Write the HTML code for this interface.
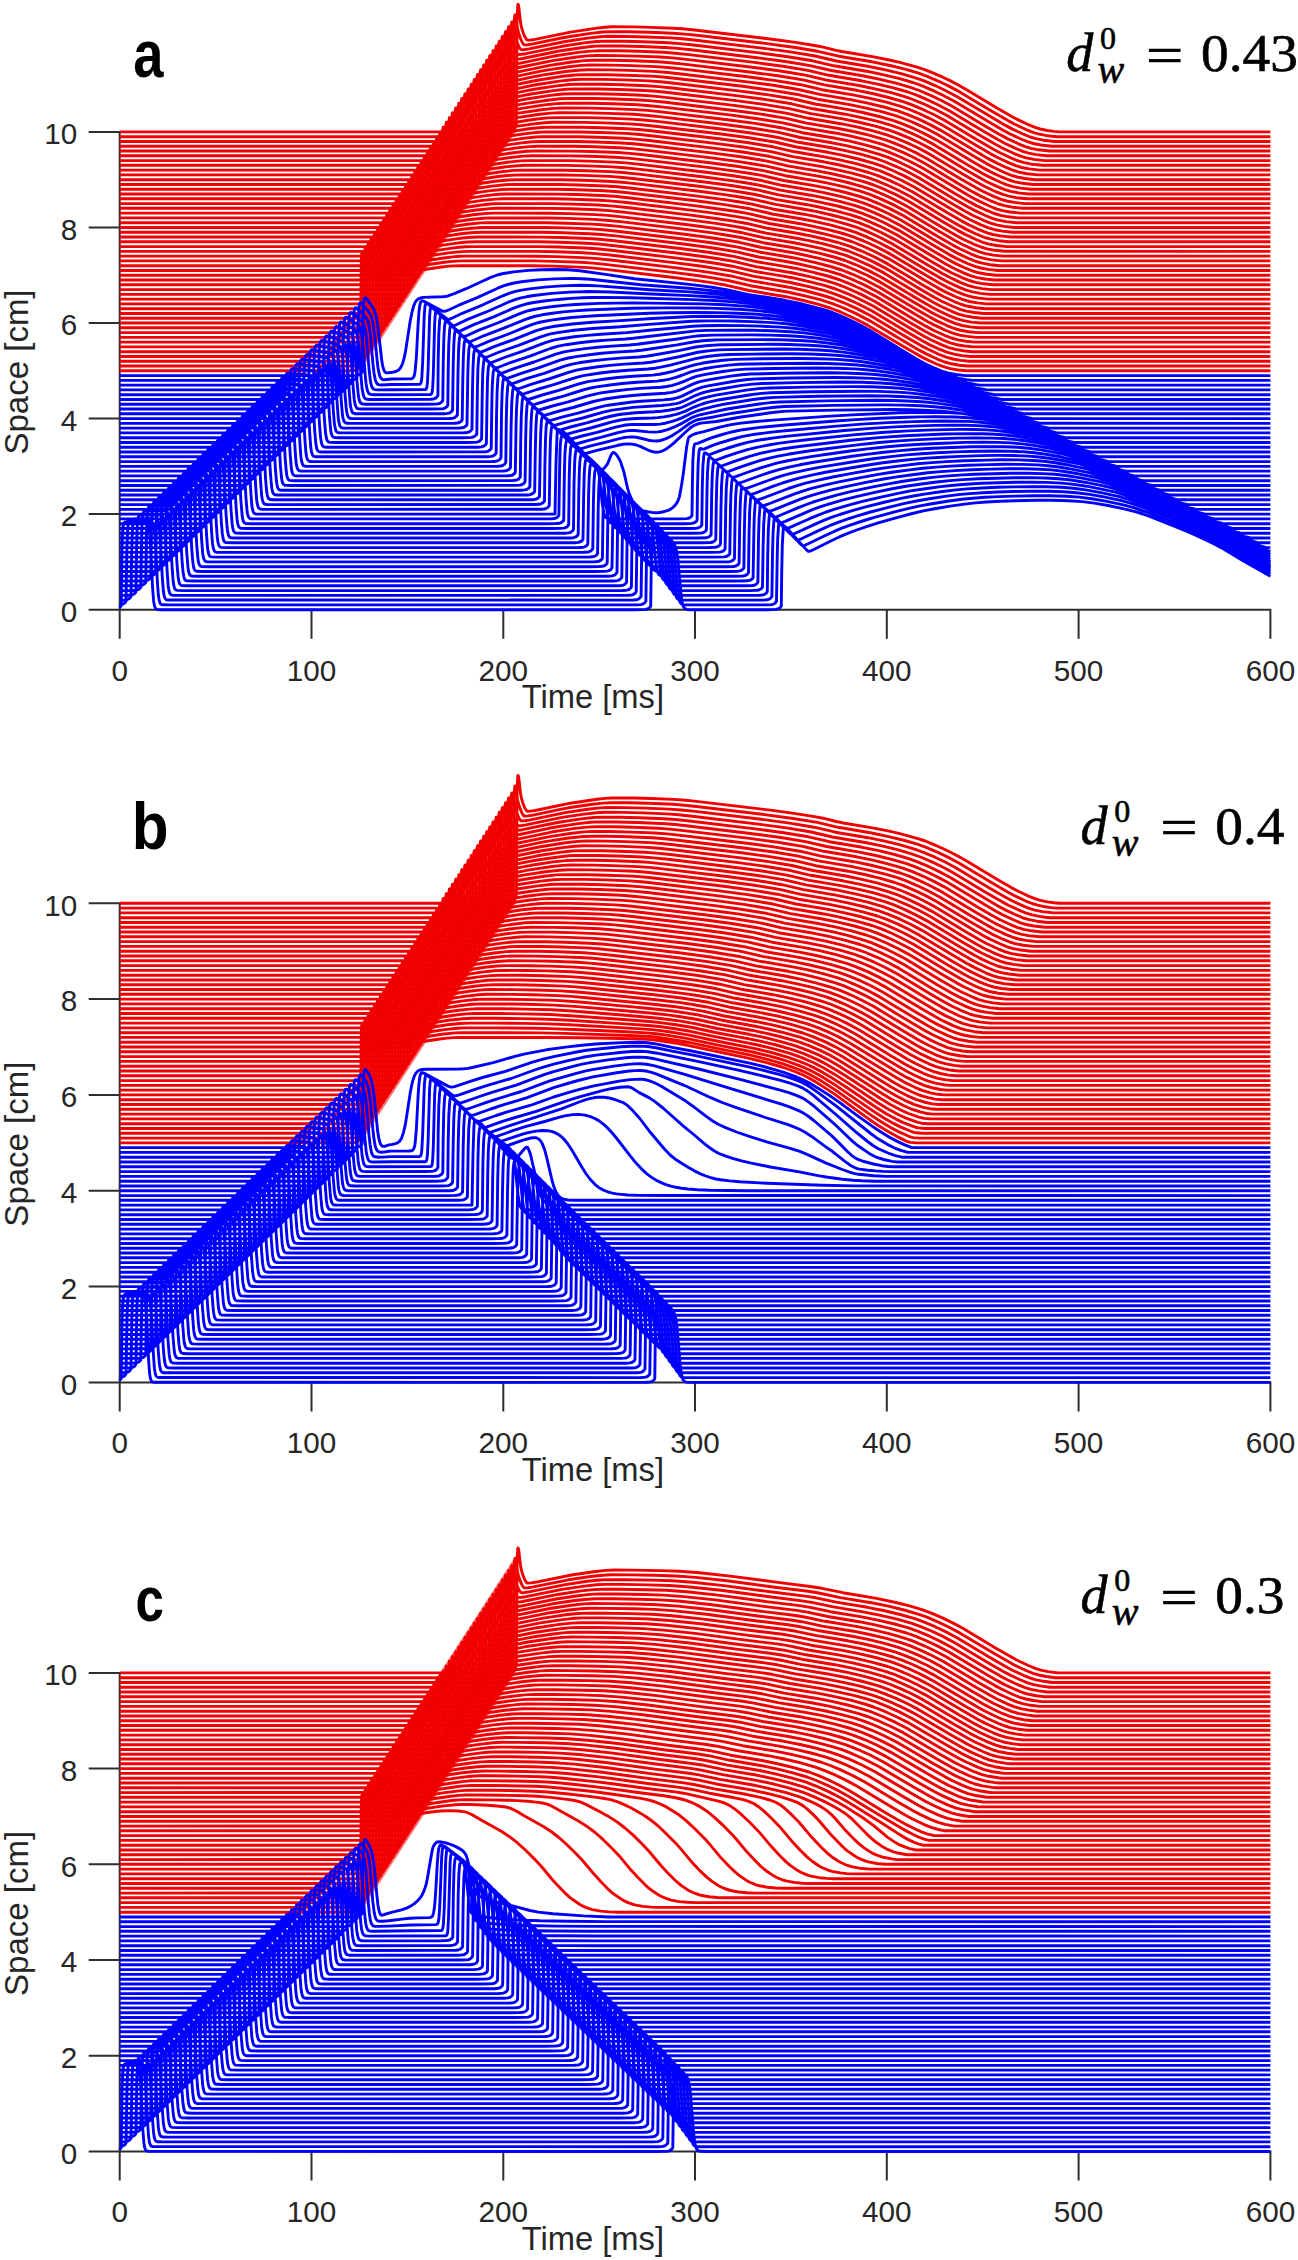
<!DOCTYPE html>
<html><head><meta charset="utf-8"><title>figure</title><style>html,body{margin:0;padding:0;background:#fff}svg{display:block}</style></head><body>
<svg width="1298" height="2260" viewBox="0 0 1298 2260">
<rect width="1298" height="2260" fill="#fff"/>
<path d="M119.7 131.9V609.7M119.7 609.7H1270.4M119.7 608.7v30M311.5 608.7v30M503.3 608.7v30M695.0 608.7v30M886.8 608.7v30M1078.6 608.7v30M1270.4 608.7v30M120.7 609.7h-32M120.7 514.1h-32M120.7 418.6h-32M120.7 323.0h-32M120.7 227.5h-32M120.7 131.9h-32" stroke="#2e2e2e" stroke-width="2" fill="none"/>
<path fill="#f20000" fill-opacity="0.55" d="M360.6 370.8 L360.6 253.7 L515.9 14.8 L515.9 131.9 Z"/>
<g fill="none" stroke-width="2.9" stroke-linejoin="round" stroke-linecap="butt">
<path stroke="#f20000" d="M119.7 131.9l381.6 0 6.9-.1 3.3-.5 1.5-.8 1.4-1.4 .9-1.8 1-3 .8-103.1 .4-10.8 .3-5.3 .2-.8 .4 .7 .4 2 1.7 15.1 .8 4.7 1.9 6 1.5 3.8 1.6 2.6 .7 .7 .6 .2 3.5-.1 4-.6 35.3-7.3 26.6-4 8.1-.8 7.1-.5 21.1 .1 17.6 .5 22.5 .9 9 .5 9.8 .9 82 9.8 21.3 2.9 19 3.1 8.6 1.6 13.1 3.2 5.6 1.2 32 5.4 15.5 3.1 10.4 2.4 9.4 2.5 9.6 2.7 6.5 2.2 7.6 3 10 4.4 7.7 3.7 8.2 4.3 7.5 4.2 30.7 18.5 14.4 8.3 6.9 3.7 10.3 4.8 6.4 2.6 5.3 1.7 7.1 1.5 6.4 .9 5.7 .5 211 0M119.7 136.7l378.4 0 6.9-.1 3.2-.5 1.6-.7 1.3-1.3 1-1.7 .9-2.8 1-101 .6-11.7 .4-2.1 .3 .7 .4 1.5 1.8 11.1 .7 3.6 2.1 6.3 1.6 3.7 1.3 2.3 .8 .7 .5 .2 3.5-.1 4-.7 29.4-6.1 7.1-1.3 22-3.3 12.3-1.4 8.8-.4 17.7 .1 19.9 .5 24 1 11.7 .9 14 1.4 65.9 7.9 28.8 3.9 24.2 4 20.9 4.9 33.4 5.6 18 3.7 14.9 3.7 13.5 4 8.6 3.1 11.7 5 10 4.8 10.9 5.8 33.4 20 14.9 8.7 6.7 3.6 10.8 5.1 6.9 2.8 5.5 1.7 7.7 1.6 6.2 .8 5.1 .5 213.5 0M119.7 141.5l375.3 0 6.9-.2 3.3-.4 1.5-.8 1.4-1.3 .9-1.8 1-2.8 .7-90.5 .4-14.2 .4-6 .2-1.3 .2-.2 .4 .7 .5 2.2 2 10.4 1.7 5.3 1.5 4.1 1.4 2.9 1.1 1.6 1 .5 3.4-.2 4.1-.6 36.2-7.4 22.3-3.4 12.2-1.3 8.8-.5 18.3 .2 19.7 .5 24 .9 11.7 .9 13.8 1.5 66 7.8 28.4 3.8 24.7 4.1 21.3 5 32.6 5.5 16.5 3.4 15.7 3.8 14.2 4.1 8.8 3.1 11.5 4.9 10.2 4.9 11.3 6 33.6 20.1 14.7 8.6 6.9 3.7 11 5.1 6.7 2.8 5.7 1.7 7.5 1.5 11.1 1.3 216 0M119.7 146.2l372.2 0 6.9-.1 3.3-.5 1.5-.7 1.4-1.4 .9-1.8 1-2.9 .8-93.8 .4-11.7 .5-6.5 .4 .3 .6 1.9 2.1 11.3 1.9 5.7 1.6 4.1 1.1 2.4 1.2 1.5 .9 .5 3.5-.2 4-.6 36.2-7.4 22.1-3.4 12.3-1.4 9-.4 18.4 .1 19.9 .5 24.2 1 11.7 .9 13.8 1.4 66 7.9 28.4 3.8 24.7 4.1 21.3 5 32.6 5.4 16.3 3.4 15.9 3.8 14.2 4.1 8.8 3.2 11.5 4.9 10.2 4.9 11.3 6 33.6 20.1 14.7 8.6 6.9 3.7 11 5.1 6.7 2.7 5.7 1.8 7.7 1.5 10.9 1.2 218.5 0M119.7 151l369 0 6.9-.1 3.2-.5 2-.9 1.3-1.6 1.4-3.2 .3-2.4 .8-95.4 .4-9.8 .4-4.9 .2-.6 .3 .4 .6 2 2.1 11.3 1.6 4.6 1.5 4.1 1.3 3 1.2 1.7 1 .6 3.4-.2 4-.6 36.5-7.5 22-3.3 12.3-1.4 8.8-.4 19 .1 19.8 .5 24.3 1 11.9 .9 13.8 1.4 66 7.9 28.4 3.8 24.7 4.1 21.3 4.9 32.6 5.5 16.1 3.3 15.9 3.8 14.4 4.2 8.8 3.2 11.5 4.9 10.2 4.8 11.3 6 33.6 20.2 14.7 8.5 6.9 3.7 11 5.2 6.9 2.8 5.7 1.7 7.5 1.5 10.9 1.2 221 0M119.7 155.8l365.9 0 6.9-.1 3.3-.5 1.5-.7 1.4-1.3 .9-1.7 1-2.8 .9-99.2 .6-11.2 .2-1.6 .2-.4 .4 .6 .6 2.1 1.9 10.5 1.7 5.3 1.5 4.1 1.4 3 1.1 1.6 1 .5 3.4-.1 4.1-.6 29.3-6.2 7.1-1.3 22.2-3.4 12.3-1.3 8.8-.4 19.8 .1 19.7 .5 24.2 1 11.9 .9 13.8 1.4 65.8 7.8 28.4 3.9 24.9 4.1 21.1 4.9 32.6 5.5 16.1 3.3 15.9 3.8 14.4 4.1 8.8 3.2 11.5 4.9 10.2 4.9 11.3 6 33.8 20.2 14.7 8.6 6.9 3.7 11 5.1 6.7 2.7 5.7 1.8 7.7 1.5 10.9 1.2 223.3 0M119.7 160.6l362.8 0 7-.1 3.2-.5 1.5-.8 1.4-1.3 .9-1.8 1-2.8 .8-91.1 .4-13.7 .3-6 .2-1.2 .2-.1 .4 .6 .6 2.2 1.9 10.5 1.7 5.2 1.6 4.1 1.3 2.9 1.2 1.6 .9 .5 3.5-.2 4-.6 36.2-7.4 22.3-3.4 12.3-1.3 8.8-.4 20.1 .1 20 .5 24.3 .9 11.9 .9 13.8 1.5 66 7.8 28.2 3.8 24.9 4.1 21.3 5 32.4 5.4 16.1 3.3 16.1 3.9 14.4 4.2 8.6 3.1 11.6 4.9 10.3 4.9 11.3 6 33.6 20.1 14.8 8.6 6.9 3.7 10.9 5.1 6.9 2.8 5.7 1.8 7.7 1.5 10.8 1.2 225.7 0M119.7 165.3l359.8 0 6.9-.1 3.2-.5 1.6-.7 1.3-1.4 1-1.8 .9-3 .8-94.2 .4-11.3 .6-6.4 .3 .4 .6 1.8 2.1 11.4 2 5.7 1.5 4 1.1 2.4 1.2 1.5 .9 .5 3.5-.2 4-.6 36.3-7.4 22.2-3.4 12.3-1.4 8.8-.4 20.7 .1 19.8 .5 24.5 1 11.9 .9 13.8 1.4 66 7.9 28.2 3.8 25.1 4.1 21.3 5 32.4 5.4 15.7 3.2 16.3 4 14.4 4.1 8.8 3.2 11.5 4.9 10.2 4.8 11.3 6 33.8 20.3 14.7 8.5 7 3.7 10.9 5.1 6.9 2.8 5.9 1.8 7.5 1.5 10.8 1.1 228 0M119.7 170.1l356.7 0 6.9-.1 3.3-.5 1.9-1.1 .8-.8 .7-1.3 1.2-3.1 .2-3.1 .7-94.5 .4-9.5 .4-4.8 .2-.6 .4 .4 .6 2 2.1 11.3 1.5 4.6 1.5 4.2 1.4 2.9 1.1 1.7 1 .6 3.4-.2 4.1-.6 29.5-6.2 6.9-1.3 22.4-3.4 12.3-1.3 8.6-.4 21.7 .1 19.8 .5 24.3 1 11.9 .9 13.8 1.4 66 7.9 28.2 3.8 25.1 4.1 21.3 5 32.2 5.4 15.9 3.2 16.3 3.9 14.4 4.2 8.7 3.1 11.5 4.9 10.3 4.9 11.3 6 33.8 20.3 14.7 8.5 7 3.7 10.9 5.1 6.9 2.8 5.9 1.8 7.5 1.4 10.8 1.2 230.3 0M119.7 174.9l353.8 0 6.7-.1 3.3-.5 1.5-.8 1.2-1.2 1-1.7 .9-2.8 1-99.5 .5-11 .2-1.5 .2-.3 .4 .5 .6 2.2 1.9 10.4 1.7 5.3 1.6 4.2 1.3 2.9 1.2 1.6 .9 .6 3.5-.2 4-.6 29.3-6.2 7.1-1.3 22.3-3.4 12.4-1.3 8.7-.4 22.2 .1 19.8 .5 24.5 1 11.9 .9 13.8 1.4 66 7.9 28.2 3.7 25.1 4.2 21.3 4.9 32.2 5.5 15.7 3.2 16.3 3.9 14.6 4.2 8.6 3.1 11.6 4.8 10.3 5 11.3 6 33.8 20.2 14.7 8.6 7 3.7 10.9 5.1 6.9 2.8 5.9 1.8 7.5 1.4 10.8 1.2 232.6 0M119.7 179.7l350.6 0 6.7-.1 3.2-.5 1.6-.8 1.3-1.3 1-1.8 .9-2.9 .8-91.5 .6-16.8 .2-2.4 .2-1.3 .2 0 .3 .6 .6 2.3 1.9 10.4 1.8 5.2 1.5 4.2 1.3 2.9 1.2 1.5 .9 .5 3.5-.1 4-.7 29.4-6.1 7.1-1.3 22.2-3.4 12.5-1.3 8.6-.4 22.8 .1 19.8 .5 24.5 .9 11.9 .9 13.8 1.5 66 7.8 28.2 3.8 25.3 4.1 21.3 5 32.2 5.4 15.5 3.2 16.5 3.9 14.6 4.2 8.6 3.1 11.6 4.9 10.3 4.9 11.3 6 33.8 20.3 14.7 8.5 6.9 3.7 11 5.2 6.9 2.8 5.9 1.7 7.5 1.5 10.7 1.2 235 0M119.7 184.5l347.5 0 6.7-.2 3.3-.5 1.5-.7 1.4-1.4 .9-1.8 1-3 .7-94.7 .4-11 .6-6.2 .4 .4 .6 1.9 2.1 11.3 1.7 5.2 1.5 4.1 1.2 2.5 1.1 1.7 1 .6 3.4-.2 4.1-.6 29.5-6.1 7.1-1.3 22.2-3.4 12.5-1.4 8.6-.4 23.6 .1 19.8 .5 24.5 1 11.9 .9 13.8 1.4 66 7.9 28.2 3.8 25.3 4.1 21.3 5 32.2 5.4 15.4 3.1 16.4 4 14.6 4.1 8.8 3.2 11.6 4.9 10.3 4.9 11.3 6 33.8 20.2 14.7 8.6 6.9 3.7 11 5.1 6.9 2.8 5.9 1.8 7.7 1.5 10.5 1.2 237.3 0M119.7 189.2l344.4 0 6.7-.1 3.3-.5 1.5-.8 1.2-1.1 1-1.7 .9-2.8 .2-4.2 .8-93.6 .5-12.3 .4-2.3 .4 .5 .6 2 2.1 11.3 1.5 4.5 1.6 4.2 1.3 2.9 1.2 1.7 .9 .6 3.5-.2 4-.6 29.3-6.1 7.1-1.3 22.5-3.4 12.4-1.4 8.7-.4 24.3 .1 20 .5 24.5 1 11.9 .9 13.8 1.4 66 7.9 28 3.7 25.3 4.2 21.5 5 32 5.4 15.4 3.1 16.4 3.9 14.6 4.2 8.8 3.1 11.6 4.9 10.3 4.9 11.5 6.1 33.8 20.3 14.7 8.5 6.9 3.7 11 5.1 6.9 2.8 5.9 1.8 7.7 1.5 10.5 1.1 239.4 0M119.7 194l341.4 0 6.7-.1 3.2-.5 1.6-.8 1.1-1.2 1-1.7 .9-2.9 .8-88.4 .4-15.8 .4-6.3 .2-1.5 .2-.2 .3 .6 .6 2.1 1.9 10.5 1.8 5.2 1.5 4.2 1.3 2.9 1.2 1.6 1 .6 3.4-.2 4-.6 29.4-6.1 7.1-1.4 22.4-3.4 12.5-1.3 8.6-.4 25.1 .1 19.8 .5 24.7 1 11.9 .8 13.8 1.5 66 7.8 28 3.8 25.5 4.2 21.5 5 31.8 5.3 15.2 3.1 16.5 3.9 14.7 4.2 8.8 3.2 11.6 4.8 10.3 4.9 11.5 6.1 34 20.4 14.7 8.5 6.9 3.7 11 5.2 6.9 2.7 5.9 1.8 7.7 1.5 10.3 1.1 241.7 0M119.7 198.8l338.3 0 6.7-.1 3.3-.6 1.5-.8 1.2-1.2 .9-1.8 1-2.9 .7-92.1 .6-16.3 .2-2.4 .2-1.2 .2 0 .4 .7 .6 2.2 1.9 10.5 1.7 5.2 1.5 4.1 1.4 2.9 1.1 1.6 1 .5 3.4-.2 4.1-.7 29.3-6.1 7.1-1.3 22.4-3.4 12.5-1.4 8.6-.3 25.9 .1 19.8 .5 24.7 .9 11.9 .9 14 1.5 66 7.8 28 3.8 25.5 4.2 21.3 4.9 32 5.4 15 3 16.5 3.9 14.7 4.3 8.8 3.1 11.7 4.9 10.4 4.9 11.5 6.1 33.9 20.4 14.8 8.5 6.9 3.7 11 5.2 6.9 2.7 5.9 1.8 7.7 1.5 10.3 1.1 243.8 0M119.7 203.6l335 0 6.8-.1 3.2-.6 1.5-.7 1.4-1.4 .9-1.8 1-3 .8-95.1 .4-10.7 .5-6.1 .4 .4 .6 1.9 2.1 11.3 1.7 5.2 1.6 4.1 1.1 2.5 1.2 1.7 .9 .6 3.5-.1 4-.6 29.5-6.2 7.1-1.3 22.5-3.4 12.4-1.4 8.7-.3 26.6 0 20 .5 24.7 1 11.9 .9 13.8 1.4 66 7.9 28 3.7 25.5 4.2 21.5 5 32 5.4 14.8 3 16.6 3.9 14.8 4.2 8.8 3.2 11.7 4.9 10.4 4.9 11.5 6.1 33.7 20.3 15 8.6 6.9 3.7 10.9 5.1 6.9 2.8 6 1.8 7.7 1.4 10.3 1.2 245.9 0M119.7 208.3l332 0 6.7-.1 3.2-.5 1.6-.8 1.1-1.1 1-1.7 .9-2.8 .2-5.5 .8-92.7 .6-11.9 .4-2.3 .3 .5 .6 2 1.9 10.5 1.8 5.4 1.5 4.1 1.3 3 1.2 1.6 1 .6 3.4-.2 4-.6 29.4-6.1 7.1-1.3 22.6-3.5 12.5-1.3 8.4-.4 27.6 .1 20 .5 24.9 1 11.9 .9 13.8 1.4 66 7.8 28 3.8 25.5 4.2 21.6 5 31.7 5.3 14.8 3 16.6 4 14.8 4.2 8.8 3.1 11.7 4.9 10.4 4.9 11.7 6.2 33.9 20.4 14.8 8.5 6.9 3.7 10.9 5.1 6.9 2.8 6 1.7 7.7 1.5 10.3 1.1 248 0M119.7 213.1l328.9 0 6.7-.1 3.3-.5 1.5-.8 1.2-1.2 .9-1.7 1-2.9 .7-89 .4-15.3 .4-6.2 .2-1.5 .2-.2 .4 .6 .6 2.2 1.9 10.4 1.7 5.3 1.5 4.1 1.4 2.9 1.1 1.7 1 .5 3.4-.2 4.1-.6 29.3-6.1 7.1-1.4 22.6-3.4 12.5-1.3 8.4-.4 28.4 .1 20 .5 24.9 1 11.9 .8 14 1.5 66 7.8 27.8 3.7 25.9 4.3 21.4 5 31.7 5.3 14.6 2.9 16.4 3.9 14.8 4.2 9 3.2 11.5 4.8 10.6 5 11.9 6.2 33.9 20.4 14.8 8.6 6.9 3.7 10.9 5.1 6.9 2.8 6.2 1.8 7.6 1.4 10.2 1.1 250.1 0M119.7 217.9l325.8 0 6.7-.1 3.3-.6 1.5-.8 1.2-1.2 1-1.8 .9-2.9 .8-92.6 .6-15.9 .1-2.4 .2-1.1 .2 0 .4 .7 .6 2.3 1.9 10.4 1.7 5.2 1.6 4.1 1.3 2.9 1.2 1.6 .9 .5 3.5-.2 4-.6 29.3-6.2 7.1-1.3 22.5-3.4 12.6-1.4 8.5-.3 29.3 .1 20 .5 24.9 .9 11.9 .9 14 1.4 65.9 7.9 27.9 3.7 25.8 4.2 21.5 5.1 31.7 5.3 14.4 2.9 16.6 3.9 14.8 4.2 9 3.1 11.5 4.8 10.6 5 11.9 6.3 33.9 20.4 14.8 8.5 6.9 3.7 10.9 5.1 6.9 2.8 6.2 1.8 7.6 1.5 10.2 1.1 252.2 0M119.7 222.7l322.8 0 6.7-.1 3.2-.6 1.6-.9 1.1-1.2 1-1.8 .9-3 .8-95.5 .4-10.4 .6-6 .4 .4 .5 2 2.1 11.3 1.6 4.6 1.5 4.2 1.3 2.9 1.2 1.7 1 .6 3.4-.1 4-.6 29.6-6.2 7.1-1.3 22.4-3.4 12.7-1.4 8.4-.3 30.3 0 19.9 .5 25.2 1 11.9 .9 14 1.4 65.9 7.9 27.6 3.7 25.9 4.2 21.7 5.1 31.5 5.2 14.2 2.9 16.4 3.8 14.8 4.2 9 3.1 11.5 4.8 10.8 5 12.1 6.4 34.1 20.5 14.8 8.5 6.9 3.7 10.9 5.1 6.9 2.8 6.1 1.8 7.7 1.5 10.2 1.1 254.1 0M119.7 227.5l319.9 0 6.7-.2 3.1-.5 1.5-.9 1.2-1.3 .9-1.9 .8-2.3 .2-6.8 .7-91.7 .6-11.7 .4-2.2 .4 .5 .6 2.1 1.9 10.5 1.7 5.3 1.5 4.2 1.4 2.9 1.1 1.6 1 .6 3.4-.2 4.1-.6 29.5-6.1 7.1-1.4 22.4-3.3 12.7-1.4 8.4-.4 31.3 .1 19.9 .5 25.2 1 11.8 .8 14 1.5 66 7.8 27.8 3.8 25.9 4.2 21.7 5 31.4 5.3 14 2.8 16.5 3.9 14.8 4.1 9 3.1 11.5 4.8 11 5.1 12 6.4 34.2 20.5 14.7 8.5 6.9 3.7 11 5.1 6.9 2.8 6.1 1.8 7.7 1.5 10.2 1.1 256 0M119.7 232.2l316.6 0 6.7-.1 3.1-.5 1.5-.8 1.2-1.2 1-1.8 .9-2.8 .8-89.7 .4-14.8 .3-6.1 .2-1.4 .2-.2 .4 .6 .6 2.2 1.9 10.5 1.7 5.2 1.6 4.2 1.3 2.9 1.2 1.6 .9 .5 3.5-.2 4-.6 29.3-6.1 7.1-1.4 22.7-3.4 12.6-1.3 8.5-.4 32.2 .1 19.9 .5 25.1 1 11.9 .8 14 1.5 66.2 7.8 27.6 3.7 26.1 4.3 21.7 5 31.2 5.3 13.8 2.7 16.5 3.9 14.8 4.1 9.2 3.1 11.3 4.8 11 5.1 12.2 6.4 34.4 20.6 14.7 8.5 6.9 3.7 11 5.1 6.9 2.8 6.1 1.8 7.7 1.4 9.9 1.1 258.2 0M119.7 237l313.6 0 6.7-.1 3-.6 1.6-.8 1.1-1.2 1-1.8 .9-2.9 .8-93.1 .4-12.2 .6-6.7 .4 .3 .5 1.8 2.1 11.4 2.1 6.2 1.4 3.5 1.1 2.4 1.2 1.6 1 .5 3.4-.2 4-.6 29.4-6.2 7.1-1.3 22.6-3.4 12.7-1.4 8.4-.3 33.2 .1 19.9 .5 25.3 .9 11.9 .9 14 1.4 66 7.9 27.6 3.7 26.3 4.3 21.7 5 31 5.2 13.6 2.7 16.5 3.9 14.8 4.1 9.2 3.1 11.5 4.8 11.1 5.1 12.3 6.5 34.3 20.6 14.8 8.5 6.9 3.7 10.9 5.1 6.9 2.8 6.2 1.8 7.7 1.4 9.9 1.1 260.1 0M119.7 241.8l310.5 0 6.7-.1 3.1-.6 1.5-.8 1.2-1.3 .9-1.8 1-3 .7-95.9 .4-10.2 .6-5.8 .4 .5 .6 1.9 2.1 11.3 1.5 4.6 1.5 4.2 1.4 3 1.1 1.6 1 .6 3.4-.1 4.1-.6 29.5-6.2 7.1-1.3 22.6-3.4 12.9-1.4 8.2-.3 34.4 .1 19.9 .4 25.3 1 11.9 .9 14 1.4 66 7.9 27.6 3.6 26.3 4.3 21.6 5.1 31.1 5.2 13.4 2.7 16.7 3.8 14.6 4.1 9.2 3.1 11.3 4.7 11.3 5.2 12.5 6.6 34.3 20.6 14.8 8.5 6.9 3.7 10.9 5.1 6.9 2.8 6.2 1.7 7.8 1.5 10 1.1 261.8 0M119.7 246.6l307.4 0 6.7-.2 3.1-.5 1.5-.9 1.2-1.3 .9-1.9 .8-2.3 1-98.8 .5-11.5 .4-2.1 .4 .6 .6 2 1.9 10.5 1.7 5.3 1.6 4.2 1.3 2.9 1.2 1.7 .9 .5 3.5-.1 4-.7 29.5-6.1 7.1-1.3 22.7-3.5 12.8-1.3 8.3-.3 35.4 0 20 .5 25.3 1 11.9 .8 14 1.5 66 7.8 27.6 3.7 26.2 4.3 21.7 5 31.1 5.3 13.2 2.6 16.7 3.8 14.6 4.1 9.4 3.1 11.3 4.7 11.3 5.2 12.5 6.6 34.3 20.6 14.8 8.5 7.1 3.8 10.9 5.1 6.9 2.8 6.1 1.8 7.7 1.4 10 1.1 263.7 0M119.7 251.4l304.4-.1 6.7-.1 3-.6 1.6-.9 1.1-1.3 1-1.9 .7-2.4 .8-90.2 .4-14.4 .4-6.1 .2-1.3 .2-.2 .3 .7 .6 2.2 1.9 10.4 1.8 5.2 1.5 4.2 1.3 2.9 1.2 1.6 1 .5 3.4-.2 4-.6 29.4-6.1 7.1-1.3 22.8-3.5 12.8-1.3 8.1-.4 36.8 .1 20 .5 25.3 1 12.1 .8 14 1.5 65.9 7.8 27.5 3.7 26.4 4.3 21.7 5 30.9 5.2 13 2.6 16.7 3.8 14.6 4.1 9.4 3.1 11.3 4.6 11.3 5.3 12.7 6.6 34.5 20.7 14.7 8.5 6.9 3.8 11 5.1 6.9 2.7 6.1 1.8 7.9 1.5 9.8 1 265.6 .1M119.7 256.1l301.3 0 6.7-.1 3.1-.6 1.5-.9 1.2-1.4 .9-2 .8-2.4 .7-93.6 .4-11.8 .6-6.6 .4 .3 .6 1.9 2.1 11.3 1.9 5.7 1.5 4.1 1.2 2.4 1.1 1.5 1 .5 3.4-.2 4.1-.6 29.3-6.1 7.1-1.4 22.8-3.4 12.9-1.4 8-.3 37.8 .1 20 .4 25.5 1 12 .9 14 1.4 66 7.9 27.2 3.6 26.7 4.3 21.9 5.1 30.8 5.2 12.7 2.5 16.7 3.8 14.6 4 9.6 3.2 11.3 4.7 11.5 5.3 12.6 6.6 34.6 20.7 14.7 8.6 6.9 3.7 11 5.1 6.9 2.7 6.3 1.8 7.7 1.5 9.7 1 267.4 0M119.7 260.9l298 0 6.7-.1 3.1-.6 1.5-.8 1.4-1.6 1.1-2.6 .6-2.5 .8-95.7 .4-9.9 .3-5 .2-.6 .4 .4 .6 2 2.1 11.3 1.5 4.5 1.6 4.2 1.3 3 1.2 1.7 .9 .6 3.5-.2 4-.6 29.5-6.2 7.1-1.3 22.9-3.4 12.8-1.4 8.1-.3 38.9 .1 19.9 .4 25.5 1 12.1 .8 14 1.5 66 7.8 27.4 3.7 13.8 2.1 12.9 2.2 21.8 5.1 30.7 5.1 12.7 2.5 16.7 3.9 14.5 4 9.6 3.1 11.3 4.7 11.6 5.3 12.8 6.7 34.3 20.6 15 8.7 6.9 3.6 10.9 5.1 6.9 2.8 6.4 1.8 7.6 1.5 9.8 1 269.1 0M119.7 265.7l295 0 6.7-.2 3-.5 1.6-.9 1.1-1.3 1-1.9 .7-2.3 1-99.1 .6-11.3 .2-1.6 .2-.4 .4 .6 .5 2.1 1.9 10.5 1.8 5.3 1.5 4.1 1.3 3 1.2 1.6 1 .5 3.4-.1 4-.6 29.6-6.2 7.1-1.3 22.8-3.5 12.8-1.3 8.1-.3 40.3 0 19.9 .5 25.5 1 12.1 .8 14 1.5 66 7.8 27.2 3.6 13.8 2.2 13.1 2.2 21.8 5.1 30.7 5.1 12.3 2.4 16.7 3.9 14.5 3.9 9.8 3.2 11.1 4.6 11.7 5.4 12.9 6.7 34.7 20.8 14.8 8.5 7.1 3.8 10.9 5.1 6.9 2.8 6.3 1.7 7.7 1.5 9.6 1 270.8 0M119.7 270.5l291.9 0 6.7-.2 3.1-.6 1.5-.9 1.2-1.3 .9-1.9 .8-2.4 .7-90.8 .4-14 .4-5.9 .2-1.3 .2-.2 .4 .7 .6 2.2 1.9 10.5 1.7 5.2 1.5 4.1 1.4 2.9 1.1 1.6 1 .5 3.4-.2 4.1-.6 29.3-6.1 7.3-1.4 22.8-3.4 12.9-1.3 8-.4 41.4 .1 20.2 .5 25.5 1 12.1 .8 14 1.4 65.9 7.9 27.3 3.6 13.8 2.1 13 2.3 21.9 5.1 30.5 5.1 12.3 2.4 16.6 3.8 14.8 4 9.8 3.2 11.1 4.5 11.7 5.4 12.9 6.7 34.7 20.9 14.7 8.5 7.1 3.8 11 5.1 6.9 2.7 6.3 1.8 7.7 1.4 9.6 1.1 272.5 0M119.7 275.2l289 0 6.5-.1 3.1-.6 1.5-.9 1.2-1.4 .9-2 .8-2.5 .8-94 .4-11.5 .5-6.4 .4 .3 .6 1.9 2.1 11.3 1.9 5.8 1.6 4 1.1 2.4 1.2 1.5 .9 .5 3.5-.2 3.8-.6 29.5-6.1 7.1-1.4 23.1-3.4 12.8-1.4 8.1-.3 42.7 .1 20.2 .5 25.5 .9 12 .9 14 1.4 66 7.9 27.1 3.5 14 2.2 13 2.2 22.1 5.2 30.3 5 11.8 2.4 16.7 3.7 14.8 4 10 3.3 11.1 4.5 11.9 5.5 13 6.8 34.5 20.7 14.8 8.5 7.1 3.8 10.9 5.1 6.9 2.8 6.4 1.8 7.8 1.4 9.6 1 274.1 0M119.7 280l285.9 0 6.6-.1 3-.7 1.8-1.1 1.3-1.9 1.2-3.1 .1-2.5 .8-94.9 .4-9.6 .4-4.9 .2-.6 .4 .4 .5 2 2.1 11.3 1.6 4.6 1.5 4.2 1.3 2.9 1.2 1.7 1 .6 3.4-.2 4-.6 29.6-6.2 7.3-1.3 22.8-3.5 13-1.3 7.7-.3 44.3 .1 20.1 .4 25.5 1 12.1 .8 14 1.5 66 7.8 27 3.6 14 2.2 13.3 2.2 21.8 5.1 30.3 5.1 11.7 2.3 16.9 3.8 14.8 4 9.9 3.2 11.2 4.6 11.9 5.4 13 6.8 34.7 20.8 14.8 8.6 7.1 3.8 10.9 5.1 6.9 2.7 6.3 1.8 7.7 1.4 9.6 1 275.8 0M119.7 284.8l282.9 0 6.5-.2 3.1-.6 1.3-.8 1.2-1.3 .9-1.9 .8-2.3 .9-99.4 .6-11.1 .2-1.5 .2-.3 .4 .5 .6 2.1 1.9 10.5 1.7 5.3 1.5 4.2 1.4 2.9 1.1 1.6 1 .5 3.4-.1 4.1-.6 29.5-6.2 7.1-1.3 23-3.5 13.1-1.3 7.6-.3 45.7 0 20.1 .5 25.5 1 12.1 .8 14 1.4 66 7.9 27 3.6 14 2.1 13.2 2.3 22.1 5.1 30.1 5.1 11.5 2.2 16.7 3.8 14.8 3.9 10.1 3.3 11.2 4.5 12 5.5 13.1 6.9 34.7 20.8 14.8 8.5 7 3.8 11 5.1 6.9 2.7 6.3 1.8 7.9 1.5 9.4 1 277.5 0M119.7 289.6l279.8 0 6.5-.2 1.8-.2 1.3-.4 1.3-.9 1.2-1.3 .9-1.9 .8-2.5 .8-91.3 .6-17 .1-2.4 .2-1.3 .2 0 .4 .6 .6 2.3 1.9 10.4 1.7 5.2 1.6 4.2 1.3 2.8 1.2 1.6 .9 .5 3.5-.2 4-.6 29.3-6.1 7.3-1.4 23-3.4 13.1-1.4 7.7-.2 46.8 0 20.1 .5 25.7 1 12.1 .8 14.2 1.4 65.9 7.9 26.9 3.5 14.2 2.2 13.2 2.3 21.9 5.1 30.1 5 11.1 2.2 16.9 3.8 14.7 3.9 10.4 3.3 11.1 4.5 12.1 5.6 13.2 6.9 34.8 20.8 14.7 8.5 7.1 3.8 10.9 5.1 7 2.7 6.3 1.8 7.8 1.5 9.4 1 279.1 0M119.7 294.4l276.5-.1 6.6-.1 3-.6 1.6-.9 1.1-1.4 1-2 .7-2.5 .8-94.5 .4-11.1 .6-6.3 .4 .4 .5 1.9 2.1 11.3 2 5.7 1.5 4 1.1 2.4 1.2 1.6 1 .4 3.4-.2 3.8-.6 29.6-6.1 7.3-1.4 23-3.4 13-1.4 7.7-.3 48.1 .1 20.2 .4 25.7 1 12 .8 14.2 1.5 66 7.8 26.9 3.6 14.1 2.2 13.3 2.2 22 5.2 30 5 10.9 2.1 16.9 3.8 14.7 3.9 10.4 3.3 11.1 4.5 12.3 5.6 13.2 6.9 34.9 20.9 14.8 8.5 7.1 3.8 10.9 5.1 6.9 2.7 6.3 1.8 7.9 1.5 9.4 1 280.6 0M119.7 299.1l273.5 0 6.5-.1 3.1-.6 1.3-.8 1.2-1.3 .9-1.9 .8-2.3 .2-3.7 .7-94 .6-12.3 .4-2.4 .4 .5 .6 2 2.1 11.2 1.5 4.6 1.5 4.2 1.4 2.9 1.1 1.7 1 .6 3.4-.2 4.1-.6 29.5-6.2 7.3-1.3 23-3.5 13-1.3 7.7-.3 49.5 .1 20.1 .4 25.7 1 12.1 .8 14.2 1.5 66 7.8 26.8 3.6 14.2 2.1 13.4 2.3 22.1 5.2 29.7 4.9 10.8 2.1 17 3.8 14.8 3.9 10.4 3.3 11.1 4.5 12.4 5.7 13.3 6.9 34.9 20.9 14.8 8.5 7 3.8 11 5.1 6.9 2.7 6.3 1.8 7.9 1.4 9.4 1 282.1 0M119.7 303.9l270.4 0 6.5-.2 3.1-.6 1.3-.8 1.2-1.3 1-1.9 .7-2.4 1-99.5 .6-10.9 .1-1.6 .2-.2 .4 .6 .6 2.1 1.9 10.5 1.7 5.2 1.6 4.2 1.3 2.9 1.2 1.6 .9 .6 3.5-.2 4-.6 29.5-6.2 7.1-1.3 23.2-3.5 13.1-1.3 7.7-.3 50.8 0 20.1 .5 25.9 1 12.1 .8 14.2 1.4 65.9 7.9 26.7 3.5 14.4 2.2 13.4 2.3 22.1 5.1 29.5 5 10.5 2 17.1 3.8 14.8 3.9 10.5 3.3 11.2 4.5 12.4 5.7 13.3 6.9 35 21 14.8 8.5 7.1 3.8 10.9 5.1 6.9 2.7 6.4 1.8 7.8 1.4 9.2 1 283.9 0M119.7 308.7l267.3 0 6.6-.2 1.7-.2 1.3-.4 1.4-.9 1.1-1.3 1-1.9 .7-2.5 .8-91.9 .6-16.5 .2-2.4 .2-1.2 .2 0 .4 .7 .5 2.2 1.9 10.4 1.8 5.2 1.5 4.2 1.3 2.9 1.2 1.5 1 .5 3.4-.1 4-.7 29.4-6.1 7.3-1.3 23.2-3.5 13-1.4 7.5-.2 52.5 0 20.2 .5 25.7 .9 12.1 .9 14.1 1.4 66 7.8 26.7 3.6 14.4 2.2 13.6 2.3 22 5.1 29.6 5 10.1 1.9 17.1 3.8 15 3.9 10.7 3.4 11.1 4.5 12.5 5.7 13.2 6.9 35.1 21 14.8 8.5 7.1 3.8 10.9 5.1 6.9 2.7 6.3 1.8 7.9 1.4 9.2 1 285.4 0M119.7 313.5l264.3 0 6.5-.2 1.7-.3 1.4-.4 1.3-.8 1.2-1.4 .9-2 .8-2.5 .7-94.9 .4-10.9 .6-6.1 .4 .4 .6 1.9 2.1 11.3 1.9 5.7 1.5 4.1 1.2 2.3 1.1 1.6 1 .4 3.4-.2 3.9-.6 29.5-6.1 7.3-1.4 23-3.4 13.2-1.4 7.5-.3 53.9 .1 20.2 .4 25.8 1 12.1 .8 14.2 1.5 66 7.8 26.5 3.5 14.5 2.2 13.6 2.4 22.1 5.1 29.3 4.9 10 1.9 17.3 3.8 14.9 4 10.8 3.3 11.1 4.5 12.5 5.6 13.4 7 35.1 21.1 14.7 8.5 7.1 3.8 11 5 6.9 2.8 6.3 1.8 7.9 1.4 9.2 1 286.9 0M119.7 318.2l261.2 0 6.5-.1 1.8-.3 1.3-.4 1.3-.9 1-1.1 1-1.9 .7-2.3 .2-5 .8-93 .6-12.1 .3-2.3 .4 .5 .6 2 1.9 10.5 1.7 5.3 1.6 4.2 1.3 3 1.2 1.6 .9 .6 3.5-.2 4-.6 29.5-6.2 7.3-1.3 23-3.5 13.3-1.3 7.5-.3 55.2 .1 20.1 .4 25.9 1 12.3 .8 14.2 1.5 66 7.8 26.4 3.5 14.6 2.2 13.6 2.4 22.1 5.1 29.3 4.9 9.6 1.8 17.3 3.8 14.9 3.9 10.9 3.4 11.2 4.5 12.6 5.7 13.5 7 35 21 14.8 8.6 7.1 3.7 10.9 5.1 6.9 2.8 6.6 1.8 7.8 1.4 9 .9 288.5 0M119.7 323l258.1 0 6.4-.1 1.7-.3 1.3-.4 1.4-.8 1.1-1.3 1-1.9 .8-2.4 .7-88.8 .4-15.5 .4-6.2 .2-1.5 .2-.2 .4 .6 .5 2.1 1.9 10.5 1.8 5.3 1.5 4.1 1.3 2.9 1.2 1.6 1 .6 3.4-.2 4-.6 29.6-6.2 7.1-1.3 23.2-3.5 13.2-1.3 7.5-.3 56.8 .1 20.1 .4 25.9 1 12.3 .8 14.1 1.4 65.8 7.8 26.5 3.5 14.8 2.3 13.6 2.3 22.2 5.2 29 4.8 9.4 1.8 17.4 3.8 15 3.9 11.1 3.5 10.9 4.3 12.7 5.8 13.6 7.1 35.1 21 14.8 8.5 7.1 3.8 10.9 5.1 6.9 2.7 6.5 1.8 7.9 1.5 9.2 .9 289.8 0M119.7 327.8l255.1 0 6.3-.2 1.7-.2 1.4-.4 1.3-.9 1.2-1.3 .9-2 .8-2.4 .8-92.4 .5-16.1 .2-2.3 .2-1.2 .2 0 .4 .7 .6 2.3 1.9 10.4 1.7 5.2 1.5 4.1 1.4 2.9 1.1 1.6 1 .5 3.4-.2 4.1-.6 29.3-6.2 7.3-1.3 23.4-3.5 13.2-1.4 7.3-.2 58.3 0 20.2 .5 25.8 .9 12.3 .9 14.2 1.4 65.8 7.8 26.5 3.5 14.7 2.3 13.6 2.3 22.3 5.2 28.8 4.7 9.2 1.8 17.4 3.8 15 3.9 11.3 3.5 10.9 4.3 12.9 5.8 13.6 7.1 35.3 21.2 14.7 8.5 7.1 3.7 11 5.1 6.9 2.7 6.5 1.9 7.9 1.4 9 .9 291.3 0M119.7 332.6l252 0 6.3-.2 1.8-.2 1.3-.5 1.3-.8 1.2-1.4 .9-2 .8-2.5 .8-95.4 .4-10.5 .5-6 .4 .4 .4 1.2 2.1 11.3 1.7 5.4 1.6 4.2 1.3 2.9 1.2 1.7 .9 .6 3.5-.1 4-.6 29.5-6.2 7.3-1.4 23.4-3.5 13.3-1.3 7.1-.2 60 0 20.1 .4 25.9 1 12.3 .8 14.2 1.5 65.9 7.8 26.3 3.5 14.8 2.2 13.6 2.4 22.3 5.1 28.9 4.8 9 1.7 17.5 3.9 14.9 3.9 11.4 3.5 10.9 4.3 13 5.9 13.6 7.1 35.1 21 14.8 8.5 7.1 3.8 11.1 5.2 6.9 2.7 6.5 1.8 7.9 1.4 8.8 .9 292.9 0M119.7 337.4l248.9-.1 6.4-.1 1.7-.3 1.3-.4 1.4-.9 .9-1.1 1-1.9 .8-2.3 .1-6.3 .8-92.1 .6-11.8 .4-2.2 .4 .5 .5 2.1 1.9 10.5 1.8 5.3 1.5 4.2 1.4 2.9 1.1 1.6 1 .6 3.4-.2 4-.6 29.6-6.1 7.3-1.4 23.2-3.5 7.1-.8 6.3-.5 7.1-.3 61.4 .1 20.3 .4 25.9 1 12.3 .8 14.1 1.4 66 7.9 26.3 3.4 14.8 2.3 13.8 2.4 22.2 5.1 28.8 4.8 9 1.7 17.4 3.8 15 3.9 11.3 3.5 10.9 4.3 13.1 5.9 13.6 7.1 35.3 21.1 14.8 8.6 7.1 3.7 10.9 5.1 6.9 2.7 6.7 1.9 7.9 1.3 8.8 1 294.2 0M119.7 342.1l245.9 0 6.3-.1 1.7-.3 1.4-.5 1.3-.9 1-1.1 .9-1.9 .8-2.4 .8-89.4 .3-15 .4-6.2 .2-1.4 .2-.2 .4 .6 .6 2.2 1.9 10.5 1.7 5.2 1.5 4.2 1.4 2.9 1.1 1.6 1 .5 3.4-.2 4.1-.6 29.5-6.2 7.3-1.3 23.2-3.5 7.1-.8 6.3-.6 7.1-.2 62.9 .1 20.4 .4 25.8 1 12.3 .8 14.2 1.4 66 7.8 26.3 3.5 14.7 2.2 13.8 2.4 22.3 5.2 28.7 4.8 9.1 1.6 17.4 3.9 15.2 3.9 11.3 3.5 10.9 4.3 13 5.9 13.7 7.1 35.1 21.1 14.7 8.5 7.1 3.8 11.1 5.1 6.9 2.7 6.8 1.9 7.8 1.3 8.7 .9 295.7 0M119.7 346.9l242.8 0 6.3-.2 1.7-.2 1.4-.5 1.3-.9 1-1.2 1-2 .7-2.4 .8-92.9 .6-15.7 .2-2.3 .1-1.1 .2 0 .4 .7 .6 2.3 1.9 10.4 1.7 5.2 1.6 4.2 1.3 2.8 1.2 1.6 .9 .5 3.5-.2 4-.6 29.3-6.2 7.3-1.3 23.4-3.5 7.1-.9 6.4-.5 7.1-.2 64.4 0 20.3 .5 25.9 .9 12.3 .8 14.2 1.5 65.9 7.8 26.3 3.5 15 2.2 13.8 2.4 22.2 5.2 37.4 6.4 17.5 3.8 14.9 3.8 11.5 3.6 11 4.3 13 5.9 13.8 7.1 35.3 21.2 14.8 8.5 7.1 3.8 11.1 5.1 6.9 2.7 6.7 1.9 7.9 1.3 8.6 .9 297.1 0M119.7 351.7l239.7 0 6.4-.2 1.7-.3 1.3-.4 1.4-1 .9-1.2 1-2 .7-2.5 .8-95.8 .4-10.2 .6-5.9 .4 .5 .5 1.9 2.1 11.3 1.6 4.6 1.5 4.2 1.4 2.9 1.1 1.7 1 .6 3.4-.1 4-.6 29.6-6.2 7.5-1.4 23.2-3.5 7.1-.8 6.3-.5 7.1-.2 66.1 0 20.4 .4 25.9 1 12.2 .8 14.2 1.5 66 7.8 26.3 3.4 14.9 2.3 13.8 2.4 22.3 5.2 28.6 4.7 8.8 1.6 17.4 3.9 15 3.8 11.5 3.6 10.9 4.3 13.1 5.9 13.8 7.1 35.3 21.2 14.7 8.5 7.1 3.8 11.2 5.1 6.9 2.7 6.7 1.8 7.8 1.4 8.7 .9 298.4 0M119.7 356.5l236.5 0 6.3-.2 1.7-.3 1.4-.4 1.3-.9 1-1.1 .9-1.9 .8-2.3 .9-98.7 .6-11.6 .4-2.1 .4 .5 .6 2.1 1.9 10.5 1.7 5.3 1.5 4.2 1.4 2.9 1.1 1.7 1 .5 3.4-.2 4.1-.6 29.5-6.1 7.3-1.4 23.4-3.5 7.1-.8 6.3-.5 6.9-.2 67.9 0 20.3 .4 25.9 1 12.3 .8 14.4 1.4 66 7.9 26 3.4 15 2.3 13.8 2.3 22.4 5.2 37.3 6.4 17.4 3.8 15.2 3.9 11.5 3.6 10.9 4.3 13 5.9 13.7 7 35.4 21.3 14.8 8.5 7.1 3.8 11.1 5.1 6.9 2.7 6.7 1.8 7.9 1.4 8.4 .9 300 0M119.7 361.2l233.6 0 6.1-.1 1.8-.3 1.3-.4 1.3-.9 1-1.2 1-1.9 .7-2.4 .8-90 .4-14.6 .4-6 .1-1.4 .2-.2 .4 .6 .6 2.2 1.9 10.5 1.7 5.2 1.6 4.2 1.3 2.9 1.2 1.6 .9 .5 3.5-.2 4-.6 29.5-6.2 7.3-1.3 23.4-3.5 7.1-.8 6.4-.6 6.9-.2 69.4 .1 20.3 .4 26.1 1 12.3 .8 14.3 1.4 66 7.8 26.1 3.5 15 2.3 13.8 2.3 22.4 5.2 37 6.3 17.5 3.8 15.1 4 11.5 3.5 11 4.3 13 5.8 13.8 7.2 35.5 21.3 14.8 8.5 7.1 3.7 11.1 5.2 6.9 2.7 6.7 1.8 8 1.4 8.3 .8 301.3 0M119.7 366l230.5 0 6.2-.2 1.7-.2 1.3-.5 1.4-.9 .9-1.2 1-2 .8-2.4 .7-93.4 .4-12 .6-6.6 .4 .3 .5 1.9 2.1 11.3 2 5.7 1.5 4.1 1.1 2.3 1.2 1.6 1 .5 3.4-.2 3.8-.6 29.6-6.2 7.3-1.3 23.6-3.5 7.1-.9 6.3-.5 6.9-.2 71.1 0 20.4 .5 26 .9 12.3 .8 14.4 1.5 65.8 7.8 26.1 3.4 14.9 2.3 14 2.4 22.5 5.2 36.8 6.3 17.6 3.8 15.2 3.9 11.5 3.6 10.9 4.2 13.1 5.9 13.8 7.2 35.4 21.2 14.8 8.6 7.1 3.7 11.1 5.2 6.9 2.7 6.7 1.8 8.1 1.4 8.3 .8 302.6 0M119.7 370.8l227.5 0 6.1-.2 1.7-.3 1.4-.4 1.3-1 1-1.2 .9-2 .8-2.5 .8-96.2 .3-10 .4-5 .2-.6 .4 .4 .6 2 2.1 11.2 1.5 4.6 1.5 4.2 1.4 3 1.1 1.6 1 .6 3.5-.1 4-.6 29.5-6.2 7.5-1.4 23.4-3.5 7.1-.8 6.3-.5 6.9-.2 72.7 0 20.5 .4 26.1 1 12.3 .8 14.4 1.5 65.7 7.8 26.1 3.4 15 2.3 14 2.4 22.4 5.2 36.8 6.2 17.5 3.8 15.1 3.9 11.7 3.6 10.8 4.2 13.2 6 13.8 7.2 35.5 21.2 14.8 8.5 7.1 3.8 11.1 5.1 6.9 2.7 6.9 1.9 8.1 1.4 8 .8 304 0"/>
<path stroke="#0000ff" d="M119.7 375.6l229 0 6.7-.2 3.3-.5 1.9-1.1 1.5-1.8 .6-41.1 .6-20.9 .7-9.7 .6-2.2 .6-.4 .7 .4 1.4 1.5 5 7 2.1 4.1 1.5 4.8 1.2 5.6 .9 6.4 3.7 32.5 .9 5.7 1.2 4.2 .9 1.8 .6 .6 .8 .5 1.3 .1 5.4-.6 .2-.3 2.1-.3 1.7-.6 2.1-1.3 1.9-2.4 1.8-3.9 1.5-5.3 1.4-6.6 4.7-30.6 2.2-10.5 1.3-4.6 1.3-3.2 1.6-2.3 1.7-1.5 2.1-.9 2.9-.6 18.8-.6 3.2-.3 2.7-.7 6.2-2.2 12-4.9 18.3-8.5 6.3-2.8 6.5-2.4 6-1.5 10.3-1.6 14.8-1.5 13.2-.7 15-.2 10.9 .2 12.3 1.1 24 3.3 30.8 4.6 47.6 4.9 15.5 1.8 14 1.9 16.1 2.6 15.2 3.5 6.3 1.2 26.3 4.1 9 1.6 15.3 3.2 13.5 3.3 10.5 2.9 7.5 2.5 8.6 3.5 11 4.8 9 4.6 9.2 5 33.2 20.4 14.5 8.7 6.9 3.8 11 5.2 6.9 2.9 6.1 1.8 7.9 1.6 9.7 1.1 305 0M119.7 380.4l224 0 6.7-.2 3.3-.5 1.9-1 1.5-1.8 .8-46.8 .4-13.1 .7-11 .6-2.5 .4-.6 .4-.1 .8 .3 1.5 1.5 3.8 4.3 2.1 2.7 1.9 3.2 1.6 4.3 1.1 5.3 1 6.7 2.9 29 .9 7.9 1.2 6 .7 2.4 .8 1.5 1.4 1.4 .9 .3 1.2 .2 7.4-.8 17.3-.1 2.7-.2 1.3-.7 1-1.5 .8-2.7 .5-3.6 1.2-13.6 1.7-32.6 .8-11.3 .6-5.3 .5-3.2 .8-2.3 .8-.9 .9-.1 1.4 .4 17 9.1 2.3 .9 1.6 .1 2.1-.7 11.9-5.5 18.4-7.6 20.5-9.4 6.3-2.5 5.8-1.7 4.4-1 7.3-1.2 16.3-1.9 16.1-1 18.6-.5 8.4 .3 9.6 .6 50.5 5.4 47.3 3.6 16.9 1.6 14.8 1.7 14.7 2.1 18.3 3.8 31.4 5.3 12.3 2.6 15.3 3.7 12.3 3.4 10.9 3.4 8.5 3.2 10.3 4.5 10.2 5 11.9 6.4 46.4 27.6 9.8 5.4 10.7 5.1 7.3 2.9 7.7 2.1 8.8 1.6 5.7 .7 297.9 0M119.7 385.1l219.2 0 6.7-.1 3.3-.6 1.9-1 1.5-1.9 .6-43 .6-19.1 .7-9 .6-2.1 .4-.5 .4-.1 .8 .3 1.5 1.3 6.9 6.7 2.1 3.1 1.3 3.5 1.2 5.2 1 7 2.6 29.6 1 8.5 1.3 7.1 .8 2.1 .8 1.3 .7 .7 1 .5 2.9 .4 10.3-.5 27.7-.1 .9-.5 .6-1.1 .6-2.7 .3-3.6 .8-15 1.5-45.8 .8-9.4 .4-1.8 .6-1 .7-.1 1.2 .7 18.2 14.1 1.7 1 1.2 .2 1.9-.7 11.3-5.4 20.7-8.5 20-9 6.7-2.6 5.9-1.8 4.8-1 7.5-1.3 16.9-2 16.9-1.2 19.1-.6 8.3 .2 9.2 .4 51.6 3.8 39.7 2.2 17.8 1.4 16.3 1.5 12.1 1.5 8.8 1.3 14.8 3 27 4.7 9.8 2.1 10.6 2.6 15.3 4 13.4 4.1 10 3.4 10.5 4.4 11.9 5.6 14.6 7.7 25.7 15 23.4 13.9 8.8 4.8 10.6 4.9 7.5 2.9 8.6 2.3 9.8 1.8 3 .3 290.6 0M119.7 389.9l214.4 0 6.5-.1 3.3-.6 1.9-1 1.5-1.8 .6-39.3 .6-21.1 .8-10.2 .5-2.4 .4-.7 .6-.2 .8 .3 1.5 1 5.6 4.4 2.5 2.2 1.9 2.5 1.3 3.2 1.2 5.2 .9 7.4 2.5 29.8 1.2 10.7 .5 3.5 .8 3.1 .8 1.8 .7 1 .8 .6 1 .4 3.2 .3 14-.2 33.2-.1 1-.5 .5-1.3 .4-2 .4-4 .6-12.6 1.5-52.3 .6-7.2 .4-1.7 .4-.6 .5-.1 1.2 .8 18.4 16.1 1.7 1.2 1.2 .2 1.7-.6 11.9-5.6 20.9-8.4 19.7-8.8 6.8-2.5 5.9-1.8 5.4-1.1 7.6-1.3 17.7-2.1 18.2-1.3 19.6-.6 20.5 .5 46.6 2.3 33.9 1.3 19 1.1 18.2 1.5 13.1 1.4 11.1 1.5 34.1 6.2 17.7 3.9 18.6 5 14.2 4.2 13 4.4 11 4.4 12.6 5.9 16.3 8.6 27.8 15.9 22.7 13.5 8.6 4.6 10.3 4.8 7.7 2.9 9.2 2.5 10.2 1.9 1.1 .1 283.5 0M119.7 394.7l209.6 0 6.5-.2 3.3-.5 1.9-1.1 1.4-1.6 .1-3.5 .6-42 .6-17.5 .8-8.4 .5-2 .4-.5 .6-.2 1 .3 1.5 1 8.8 6.1 1.9 2.1 1.4 3 1.1 5.3 1 7.8 2.5 32 .9 9.2 1.2 6.2 .8 2 .9 1.4 .8 .5 .9 .3 3.3 .3 56.6-.2 .7-.4 .6-1.1 .4-1.9 .4-3.7 .6-12.6 1.3-50.1 .6-9.4 .4-2.5 .5-1.1 .6 .1 1.2 .9 18.4 17 1.7 1.2 1.2 .3 1.7-.6 12.3-5.7 20.5-8.1 19.9-8.6 7.1-2.6 6.1-1.8 7-1.3 8.4-1.3 9.4-1.1 9.2-.9 10.5-.8 11.5-.6 9.4-.3 10.4-.1 27.8 .4 63.3 1.8 20.1 .9 20 1.4 13.6 1.3 12.1 1.6 30.1 5.4 16.1 3.6 20.1 5.5 14.8 4.4 14.8 5.1 10.9 4.4 13 6 16.9 9 29 16.3 22.8 13.6 9 4.7 9.6 4.4 7.7 2.9 9.6 2.6 10.3 2 276.2 0M119.7 399.5l204.8 0 6.5-.2 3.3-.6 1.9-1.1 1.4-1.7 .5-41.9 .6-19.4 .4-6.1 .6-4.4 .5-1.6 .4-.5 .6-.1 1 .3 1.5 .8 9.8 5.7 1.9 1.9 .8 1.3 .5 1.6 1 4.2 1 7.5 2.5 33.6 .9 9.8 1.2 6.5 .7 2 1 1.3 .8 .5 .9 .3 3.7 .3 55.8-.1 4.4-.1 2.5-.3 1.5-.4 1.3-.7 1-.9 1-1.4 .3-35.1 .6-26.2 .8-13.2 .6-3.5 .2-.7 .5-.6 .8 .2 1.3 1.1 18.5 17.3 1.7 1.3 1.1 .3 1.8-.5 12.2-5.6 20.5-7.9 20.4-8.6 7.6-2.7 6.8-1.7 9.4-1.6 10.1-1.4 10.8-1.1 11.3-.9 23.8-1.1 34.7-.5 69.2 1 21.1 .8 20.3 1.4 14 1.4 11.5 1.7 26.7 4.7 8.2 1.8 8.7 2.1 20.7 6 14.2 4.4 14.5 5.1 11.2 4.5 13 6.1 19 10.3 27 15 22.9 13.7 8 4.2 9.8 4.5 7.9 3 9.9 2.8 10.2 2.1 268.7 0M119.7 404.2l199.8 0 6.6-.1 3.2-.6 1.9-1.1 1.4-1.6 .7-47.6 .6-16.1 .4-5.1 .6-3.6 .6-1.4 .3-.3 .6-.2 2.9 1.1 8 3.9 2.5 1.4 1.2 .9 .8 .9 1.1 2.6 1 4.4 .9 8.1 2.3 32.8 1 10.6 .6 4 .7 3.4 .8 1.8 1 1 1.7 .7 3.6 .1 62 0 6.3-.1 3.1-.2 1.5-.4 1.3-.7 1.2-1 .9-1.4 .4-35.1 .6-26.3 .8-13.1 .6-3.6 .1-.6 .6-.6 .8 .1 1.3 1.1 18.8 17.9 1.7 1.3 1.2 .3 1.7-.5 12.3-5.5 20.1-7.6 21.7-8.9 8.6-2.8 8.1-1.7 10.2-1.6 10.7-1.3 11.5-1 12.3-.9 45.2-1.7 34.4-.4 31 .1 19.2 .4 21.9 .9 18.6 1.3 16.7 2 25.5 4.4 11.5 2.4 12.4 3.2 20.4 6.1 13.4 4.4 13.8 5 11.3 4.6 6.5 3 6.8 3.4 23.3 12.7 21.1 11.6 22.1 13.3 9 4.8 10 4.6 8 3.1 10 2.9 10.2 2.1 261.2 0M119.7 409l195.2 0 6.4-.1 3.2-.6 1.6-.9 1.3-1.4 .2-.3 .2-1.9 .6-42.7 .5-17.9 .4-5.7 .6-4.1 .8-1.8 .3-.3 .6-.1 2.9 .9 11.3 4.7 1.2 .8 .7 .8 1.2 2.3 .9 4 1 7.7 2.5 36.7 .9 10.1 .6 3.7 .6 2.4 .8 1.9 .9 1.1 1.7 .6 3.7 .1 70.8 0 6.3-.1 3.2-.2 1.6-.4 1.3-.7 1.2-1 .9-1.4 .4-35.1 .6-26.3 .8-13.2 .5-3.5 .2-.7 .6-.6 .8 .2 1.3 1.1 19.2 18.3 1.7 1.3 1.2 .3 1.7-.5 12.5-5.4 19.3-7.1 16.7-6.8 6.5-2.5 4.6-1.5 4.4-1.2 10.4-1.9 10-1.4 10.5-1.2 11.3-.9 12.1-.8 53.7-2.6 22.5-.5 24.1-.2 21.9 .1 19.7 .6 20.8 1.1 14.3 1.3 13.3 1.8 24.3 4.2 11.7 2.7 13.4 3.8 18.8 5.8 13.1 4.4 12.8 4.8 11.3 4.7 6.8 3.2 7.1 3.6 36 19.6 10.6 6 18.9 11.4 8.3 4.4 10 4.6 8 3.2 10.2 3 10.1 2.2 253.6 0M119.7 413.8l190.4 0 6.4-.2 3.2-.6 1.8-1 1.3-1.7 .6-41 .7-23.5 .4-4.7 .6-3.4 .8-1.6 .9-.3 3.3 .9 11.9 4.3 1.1 .7 .8 .8 1.1 2.3 1 4.2 1 8.4 2.3 35.5 .9 10.7 .6 4 .8 3.1 .7 1.6 1 .9 1.7 .5 3.8 .1 79.4 0 6.4-.1 3-.3 1.6-.3 1.3-.7 1.2-1 .9-1.3 .6-44.6 .6-20.9 .7-10.5 .6-2.8 .6-.7 .8 .2 1.3 1 19.8 18.9 1.7 1.3 1.1 .2 1.8-.5 12-5.1 19.4-7 22.6-8.9 8.9-2.6 9.6-1.8 17.6-2.3 19.9-1.8 24.4-1.3 35.9-2.4 40.2-2 13.3-.2 20.5 .2 19.9 .7 19.8 1.1 14.2 1.3 13.6 1.9 23 4.1 11.3 2.6 12.9 3.7 19.5 6.2 12.9 4.4 13 4.9 11.5 4.9 6.6 3 6.9 3.5 37.9 20.6 10 5.7 18.4 11.1 8.5 4.6 9.9 4.5 8.1 3.2 10.3 3.1 10 2.2 245.7 0M119.7 418.6l185.5 0 6.3-.2 3.2-.6 1.8-1 1.3-1.6 .8-46.9 .6-16.6 .3-5.2 .6-3.8 .8-1.8 .9-.4 2.9 .6 13.2 3.9 1.2 .6 .8 .7 1.1 2.1 1 3.9 .9 8.1 2.3 36.2 1 11.4 .6 4.1 .7 3.3 .8 1.6 1 1 1.7 .5 3.8 .1 88.2 0 6.4-.1 3-.3 1.6-.3 1.3-.7 1.2-1 .9-1.3 .6-42.5 .6-22.1 .7-11.1 .6-3 .6-.8 .8 .1 1.5 1.2 19.9 19.2 1.8 1.3 1.1 .3 1.7-.5 12.1-5 19.2-6.7 22.1-8.5 8.6-2.6 8.2-1.6 16.5-2.3 18.2-1.8 28.4-1.7 28.2-2.4 42.8-3.1 8-.3 11.5-.1 21.9 .1 19 .6 20.7 1 13.6 1.2 14.6 1.9 22.4 3.9 10.8 2.5 12.1 3.4 21.1 6.7 12.8 4.4 13.8 5.2 11.7 5 6.3 2.9 6.8 3.4 39.7 21.5 9.2 5.3 18.2 11 8.2 4.4 10 4.6 8.2 3.3 10.4 3.1 10 2.3 237.8 0M119.7 423.4l180.7-.1 6.3-.1 1.9-.3 1.3-.4 1.8-1 1.3-1.7 .6-43.6 .6-18.4 .3-5.8 .6-4.3 .8-2 .6-.5 .5-.1 3.3 .6 13.8 3.5 1.2 .6 .7 .7 1.2 2.2 .9 4.2 1 8.8 2.3 37.4 1 10.8 .5 3.8 .6 2.3 .8 1.8 1.1 1 1.8 .5 4.2 .1 96.4 0 6.4-.1 3-.3 1.6-.3 1.3-.7 1.2-.9 .9-1.3 .6-40.3 .6-23.5 .7-11.7 .6-3.2 .6-.9 .8 .1 1.5 1.2 20.5 19.7 1.7 1.2 1.2 .3 1.7-.5 11.7-4.7 19.2-6.6 21.7-8.2 8.2-2.5 7.7-1.5 13-1.9 13.1-1.4 13.8-1.2 25.5-1.6 25.3-2.6 25.5-2.3 15.3-1.5 9.6-.5 17.5-.2 22 .1 18.4 .5 20.6 1 13.2 1.1 15.1 2 21.7 3.7 10.4 2.4 11.7 3.3 21.8 7 12.9 4.5 13.8 5.2 12.1 5.1 6.1 2.9 6.5 3.3 40.9 22.1 8.8 5 18 10.9 8.3 4.5 9.8 4.5 8.2 3.2 10.4 3.2 9.9 2.3 230 .1M119.7 428.1l176.1 0 6.1-.2 1.9-.2 1.4-.4 1.5-1 1.3-1.6 .6-40.3 .8-24.1 .4-4.8 .5-3.6 .8-1.7 .6-.4 .5 0 3.3 .5 14.6 3.1 1.1 .5 .8 .6 1.2 2 .9 4 1 8.3 2.3 38 .9 11.4 .6 4 .6 2.5 .7 1.8 1.2 1.1 1.7 .4 4.1 .1 105.4 0 6.4 0 3-.3 1.6-.4 1.3-.6 1.2-.9 .9-1.3 .8-48.7 .4-14.1 .7-12.4 .6-3.4 .4-.8 .4-.3 .7 .2 1.6 1.3 20.5 19.7 1.9 1.5 1.2 .3 1.7-.4 13.2-5.2 18.2-6 20.9-7.8 8.1-2.3 7.7-1.5 13.4-2 13.2-1.4 14.2-1.2 18.8-1.1 7.7-.7 62.7-7.4 10.9-.5 25.5-.2 20.6 .1 18.6 .5 18.8 .9 13.4 1.2 14.9 2 20.6 3.6 10.3 2.4 11.9 3.4 21.7 7.1 12.8 4.5 13.6 5.2 12.1 5.1 6 2.8 6.3 3.2 41.6 22.5 8.6 4.9 17.7 10.7 8.2 4.4 9.8 4.6 8.3 3.2 10.5 3.3 10 2.3 221.7 0M119.7 432.9l171.1 0 6.1-.2 1.9-.2 1.4-.4 1.5-1 1.3-1.5 .8-46.3 .6-17 .4-5.4 .5-4 .8-1.9 .6-.4 .8-.2 3.6 .5 15 2.8 1.1 .4 .8 .5 1.1 1.8 1 3.7 .9 8 2.3 38.3 1 12 .6 4.2 .7 3.3 .8 1.6 1.2 1 1.7 .3 4.4 .1 113.7 0 6.4-.1 3-.2 1.7-.4 1.4-.7 1.1-1 1-1.4 .4-35.2 .6-26.2 .7-13.2 .6-3.6 .2-.6 .6-.6 .7 .2 1.6 1.2 21.1 20.3 1.7 1.4 1.3 .3 1.8-.4 12.8-4.9 18-5.8 21.7-7.8 8.3-2.3 8.6-1.5 12.6-1.8 12.5-1.4 13.8-1.1 18-1.1 7.7-.7 22.6-3.1 15.8-2 16.3-2.6 7.5-.9 12.8-.6 38.2-.2 19.1 .2 19.4 .7 14.2 .9 13.2 1.3 14.6 2.1 18.2 3.3 10.8 2.6 12.4 3.7 20.6 6.8 12.4 4.5 13.3 5.1 11.8 5.1 11.7 5.7 42.4 22.9 8.1 4.6 17.4 10.6 8.3 4.5 9.8 4.5 8.2 3.2 10.6 3.3 9.9 2.4 213.5 0M119.7 437.7l166.3 0 6.1-.2 1.9-.3 1.4-.4 1.5-1 1.3-1.7 .6-42.8 .8-22.3 .4-4.5 .5-3.3 .8-1.6 .6-.4 .8-.1 19.3 2.9 1.2 .3 .9 .7 .6 .7 .6 1.3 .9 4 1 8.7 2.3 39.3 1 11.3 .5 3.8 .6 2.4 .8 1.7 1.1 1 1.8 .4 4.2 .1 122.9 0 6.1-.1 3.1-.2 1.7-.4 1.4-.7 1.1-1 1-1.3 .6-44.6 .5-20.9 .8-10.5 .6-2.8 .6-.7 .7 .1 1.6 1.3 21.6 20.8 1.8 1.3 1.3 .4 1.7-.5 12.7-4.6 17.8-5.7 21.1-7.4 8.1-2.2 7.8-1.4 13.3-1.9 12.2-1.4 14.2-1.2 18.4-1.1 7.5-.7 35.5-5.4 17.3-3.2 8-1 6.9-.5 7.5-.3 43.5-.3 19.2 .2 19.4 .7 13.4 .8 13.1 1.4 14.7 2.1 17.5 3.2 10.5 2.6 12.5 3.7 20.5 6.9 12.5 4.4 13.2 5.2 11.9 5.1 11.5 5.6 18.2 10 24.8 13.2 7.8 4.4 17.3 10.6 8.4 4.5 9.8 4.5 8.2 3.3 10.8 3.3 9.8 2.4 205 0M119.7 442.5l161.7 0 6.1-.3 1.7-.2 1.4-.5 1.5-1 1.2-1.5 .5-39.4 .8-24.7 .6-6.6 .6-2.8 .7-1.3 .6-.3 .8-.1 19.3 2.4 1.2 .4 .8 .5 .5 .7 .6 1.1 1 3.8 .9 8.4 2.3 39.5 1 11.8 .6 4.2 .7 3 .8 1.6 1.1 .9 2 .3 4.4 .1 132.1 0 6.1-.1 3.1-.2 1.7-.4 1.4-.7 1.1-1 1-1.3 .6-42.5 .5-22.1 .8-11.1 .6-3 .6-.8 .7 .1 1.6 1.2 22.2 21.4 1.7 1.3 1.4 .3 1.7-.4 12.5-4.5 17.6-5.4 20.5-7.1 7.5-2.1 6.7-1.3 14.4-2 12.3-1.4 14.6-1.3 18.7-1.1 7.5-.8 7.7-1.2 24.7-4.4 17.1-3.6 10.2-1.3 7.8-.6 7.9-.4 48.5-.4 19 .2 19.4 .7 12.8 .8 12.9 1.4 14.5 2.1 17.1 3.1 10.6 2.6 12.4 3.7 20.7 7 12.3 4.3 13.2 5.2 12.1 5.2 11.3 5.5 18.5 10.1 24.9 13.3 7.9 4.5 17 10.4 8.5 4.6 9.7 4.5 8.3 3.2 10.7 3.4 9.8 2.4 196.6 0M119.7 447.2l156.7 0 6.1-.2 1.7-.2 1.4-.5 1.5-1 1.2-1.4 .7-45.6 .8-20.6 .6-5.5 .6-2.3 .7-1.1 1.4-.3 19.3 2.1 1.2 .4 .8 .5 .5 .8 .6 1.2 1 4.2 .9 9.2 2.1 37.2 1 12.5 .6 4.3 .7 3.3 .8 1.7 1.2 .9 1.7 .4 4.4 0 142.1 0 6.1 0 3.1-.3 1.7-.4 1.4-.6 1.1-.9 1-1.4 .6-40.2 .5-23.5 .8-11.7 .6-3.2 .6-.9 .7 .1 1.6 1.2 22.6 21.7 1.7 1.4 1.4 .4 1.7-.4 12.6-4.4 16.9-5.1 20.7-6.9 7.1-1.9 6.2-1.2 15.3-2.3 11.9-1.3 14.8-1.3 18.8-1.1 7-.8 9.4-1.6 20.2-4.1 16.7-4 6.3-1 7.3-.9 8.2-.7 8.1-.3 53.3-.6 19 .3 19.2 .7 12.2 .7 12.7 1.4 14.8 2.1 16.6 3 10.6 2.7 12.5 3.7 20.7 7 12.2 4.4 13.3 5.2 12.1 5.2 11.1 5.4 18.6 10.2 25.1 13.4 7.7 4.4 17 10.4 8.5 4.5 9.8 4.6 8.2 3.2 10.6 3.3 9.7 2.4 188.2 0M119.7 452l151.9 0 6.1-.2 1.8-.3 1.3-.5 1.5-1 1.2-1.5 .6-42.2 .7-22.8 .4-4.6 .6-3.4 .7-1.7 .6-.4 .6-.2 3.3 .2 16.5 1.6 1.1 .3 .8 .5 .5 .7 .6 1.1 1 4 .9 8.7 2.3 40.5 1 11.7 .6 3.9 .7 3 .8 1.4 1.2 .8 1.7 .4 3.4 0 159.2-.1 2.9-.2 2.1-.6 1.5-.9 1.4-1.7 .7-48.7 .4-14.1 .8-12.4 .6-3.4 .4-.8 .3-.3 .8 .2 1.5 1.3 22.9 21.9 1.9 1.5 1.3 .4 1.7-.4 12.5-4.2 16.7-4.8 19.4-6.4 5.3-1.5 5-1.2 16.9-2.6 12.5-1.5 15.5-1.3 19.8-1.2 7.2-.8 6.8-1.3 8.2-1.8 25.3-6.5 9.8-1.8 12.3-1.5 11.9-.8 25.3-.4 34.5-.3 18.8 .2 19.2 .7 12.1 .8 12.4 1.3 14.8 2.1 16.5 3 10.5 2.6 12.3 3.8 20.7 7 12.3 4.4 13.2 5.2 12.3 5.3 10.9 5.3 18.6 10.2 25.5 13.6 7.5 4.2 17.1 10.5 8.2 4.4 9.8 4.5 8.3 3.3 10.7 3.4 9.8 2.4 179.5 0M119.7 456.8l147.3 0 5.9-.2 1.8-.3 1.3-.5 1.3-1 1.2-1.4 .8-47.9 .5-16.1 .4-5.1 .6-3.8 .8-1.9 .5-.5 .6-.1 2.9 0 16.9 1.4 1.1 .3 .8 .5 .6 .6 .5 1.1 .6 1.8 .6 3.1 .8 7.1 2.3 40.5 .9 12.2 .6 4.2 .8 3.2 .7 1.5 1.2 .9 1.7 .3 3.5 .1 168.7-.1 3.3-.3 2.1-.6 1.5-1 1.4-1.8 .3-35.2 .6-26.2 .8-13.2 .6-3.6 .2-.6 .5-.6 .8 .2 1.5 1.2 23.4 22.5 1.9 1.5 1.4 .4 1.7-.4 12.3-4 16.5-4.6 19.4-6.3 9.7-2.5 17.5-2.6 12.3-1.5 15.3-1.3 19.8-1.1 6.7-.9 6.5-1.2 7.1-1.7 16.3-5 6.3-1.7 6.2-1.3 7.6-1.3 13.4-1.8 11.9-.8 26.9-.6 37.2-.3 18.8 .2 19.2 .7 11.7 .8 12.2 1.3 14.8 2.2 16.5 3 10.4 2.5 12.2 3.8 20.7 7 12.3 4.4 13.1 5.1 12.2 5.3 11.2 5.5 18.6 10.2 25.5 13.5 7.4 4.3 17.1 10.4 8.3 4.5 9.7 4.5 8.3 3.3 10.7 3.3 9.8 2.5 170.9 0M119.7 461.6l142.3 0 5.9-.3 1.8-.3 1.3-.4 1.4-.9 1.1-1.4 .2-3 .6-42 .6-17.8 .3-5.7 .6-4.3 .8-2.1 .6-.5 .7-.2 3.5 .1 16.3 1.1 1.1 .4 .8 .5 .6 .6 .5 1.2 1 4.2 1 9.1 2.3 41.2 .9 11.4 .6 3.8 .8 2.8 .7 1.3 1.2 .8 1.7 .3 3.6 .1 178.2-.1 3.3-.3 2.1-.6 1.5-1 1.4-1.8 .5-44.5 .6-20.9 .8-10.5 .6-2.8 .5-.7 .8 .1 1.5 1.3 24 23 1.9 1.5 1.4 .3 1.9-.4 11.9-3.7 16.1-4.4 19.3-6.1 9.3-2.3 4.4-.8 13.6-1.9 12.1-1.5 14.7-1.2 20.2-1.2 6.3-.8 6.1-1.2 6.4-1.8 5.5-1.8 8.8-3.3 5.4-1.6 8.1-1.8 11.5-1.9 13.4-1.8 11.3-.8 28-.6 40.1-.5 18.8 .3 19.2 .7 11.5 .8 12.1 1.2 14.5 2.2 16.5 3 10.6 2.6 12.2 3.8 20.6 6.9 12.2 4.5 13.3 5.2 12.3 5.3 10.7 5.3 19 10.4 25.5 13.5 7.5 4.3 16.6 10.2 8.5 4.6 9.8 4.5 8.2 3.2 10.6 3.4 9.6 2.4 162.6 .1M119.7 466.4l137.5-.1 6-.2 1.7-.3 1.3-.5 1.4-1 1.1-1.4 .6-41.5 .8-23.3 .3-4.8 .6-3.5 .8-1.8 .6-.4 .5-.2 3.1 0 16.7 1.1 1.1 .3 .8 .4 .6 .7 .6 1.1 .9 3.9 1 8.6 2.3 41.2 .9 11.9 .6 4.1 .8 3 .9 1.7 1.2 .7 1.7 .2 3.7 .1 187.7-.1 3.3-.3 2.1-.6 1.5-1 1.4-1.7 .5-42.5 .6-22.1 .8-11.1 .5-3 .6-.8 .8 .1 1.5 1.2 24.6 23.6 1.9 1.5 1.3 .3 1.9-.4 11.6-3.5 15.9-4.2 19.5-6 8.5-2 4.6-.9 13.8-1.9 11.7-1.4 13.4-1.2 21.3-1.2 5.7-.7 5.6-1.2 5.6-1.7 4.8-1.8 9-3.8 5.5-1.8 9.6-2.1 15.9-2.6 12.5-1.6 10.2-.8 29.1-.6 42.4-.5 18.6 .2 19.2 .7 11.5 .8 11.9 1.3 14.8 2.1 16.3 3 10.5 2.6 12.3 3.8 20.7 7.1 12.3 4.4 13.2 5.2 12.3 5.3 10.5 5.2 19 10.5 25.7 13.6 7.3 4.2 16.7 10.1 8.4 4.6 9.6 4.5 8.3 3.2 10.3 3.3 9.6 2.5 1 .2 153.4 0M119.7 471.1l132.9 0 5.8-.2 1.7-.4 1.3-.5 1.4-1 .9-1.2 .8-47.4 .4-12.4 .6-9.3 .3-2.9 .6-2.2 .8-1.1 .9-.4 19.6 .9 1.1 .3 .8 .4 .6 .6 .6 1 .5 1.8 .6 3.1 .8 7.1 2.3 41 .9 12.5 .6 4.3 .8 3.2 .9 1.8 1.2 .7 1.7 .3 3.7 0 197.5 0 3.3-.3 2.1-.6 1.5-1 1.3-1.7 .6-40.3 .6-23.4 .8-11.7 .5-3.2 .4-.8 .4-.2 .8 .3 1.5 1.2 24.7 23.8 2.2 1.7 1.3 .3 1.9-.4 11.3-3.3 15.6-4 20.3-6 9.8-2.2 17.6-2.5 9.2-1.1 11-.9 24.3-1.5 6.3-.9 4.3-1.1 4.2-1.4 3.8-1.6 9.4-4.4 6.5-2.2 9.8-2.1 20.9-3.5 11.1-1.4 9.2-.7 31.5-.7 43.7-.6 18.6 .3 19.2 .7 11.3 .8 11.9 1.2 15 2.2 16.1 3 10.3 2.6 12.3 3.7 20.7 7.1 12.3 4.4 13.2 5.3 12.5 5.4 10.4 5.1 18.9 10.4 25.9 13.8 7.3 4.1 16.5 10.1 8.3 4.5 9.5 4.4 8.3 3.3 10.2 3.3 9.4 2.4 1.7 .3 144.6 0M119.7 475.9l128.1 0 5.8-.3 1.7-.3 1.3-.6 1.2-.9 .9-1.2 .2-1.4 .6-42.9 .4-13.8 .6-10.3 .4-3.2 .5-2.5 .8-1.2 1.1-.4 19.6 .7 1.2 .3 .7 .5 .6 .7 .6 1.1 .9 4.1 1 9.1 2.3 41.6 1 11.6 .5 3.9 .8 2.9 1 1.6 1.1 .6 1.7 .3 3.9 0 206.9-.1 3.3-.2 2.1-.6 1.5-1 1.3-1.6 .8-48.7 .4-14.1 .8-12.4 .5-3.4 .4-.9 .4-.2 .8 .2 1.5 1.3 25.3 24.3 2.1 1.6 1.4 .4 1.9-.4 11.1-3.2 15.2-3.7 20.5-5.8 9.6-2.2 24.3-3.2 8.7-.7 22.6-1.4 6.7-.6 3.6-.6 3.9-1 3.6-1.3 13.4-6.5 3.9-1.5 3.8-1.2 5.6-1.3 29.3-5.1 10.2-1.3 8.6-.6 33.8-.9 44.8-.5 18.7 .2 18.9 .7 11.4 .8 11.8 1.3 15.2 2.2 15.9 2.9 10.4 2.6 12.2 3.8 20.9 7.1 12.3 4.4 13.3 5.3 12.4 5.4 10.4 5.1 18.8 10.4 26 13.8 7.1 4 16.5 10.1 8.3 4.5 9.4 4.4 8.2 3.3 10.2 3.3 9.2 2.4 2.1 .4 136 0M119.7 480.7l123.3 0 5.6-.3 1.7-.3 1.3-.6 1.4-1 .9-1.3 .8-49.4 .8-18 .4-3.6 .5-2.7 .8-1.4 1.2-.5 19.5 .7 1.2 .2 .7 .5 .6 .6 .6 1.1 .6 1.9 .5 3.1 .8 7.4 2.3 41.5 1 12.2 .5 4.1 .8 3.1 1 1.7 1.1 .7 1.7 .2 3.9 .1 216.7-.1 3.4-.3 2.2-.6 1.5-1 1.3-1.8 .4-35.2 .6-26.2 .8-13.2 .5-3.6 .2-.6 .6-.6 .8 .2 1.5 1.2 25.3 24.4 2.1 1.6 1.4 .3 1.9-.3 11.3-3.2 15-3.7 20.5-5.9 9.2-2 20.5-2.7 28.8-1.9 8.2-.9 6.3-1 3.1-.8 3.1-1.1 13.4-6.4 4.4-1.7 4.6-1.5 7.1-1.6 29.9-5.1 11-1.3 9.6-.6 35.2-.9 45.5-.6 18.4 .3 18.8 .7 11.7 .7 11.9 1.3 15.3 2.3 16.1 2.9 10.4 2.6 12.1 3.7 21.1 7.2 12.2 4.5 13.3 5.2 12.6 5.5 10.2 5.1 19 10.4 26.1 13.9 7.1 4 16.5 10.1 8.2 4.5 9.4 4.3 8.1 3.3 9.7 3.2 9.2 2.4 2.7 .6 127.2 0M119.7 485.5l118.5 0 5.6-.3 1.7-.4 1.4-.6 1.1-.9 1-1.2 .7-46.7 .4-12.7 .6-9.5 .4-3 .5-2.3 .8-1.1 1.2-.4 19.3 .5 1.2 .3 .8 .4 .5 .5 .6 1.1 .6 1.7 .6 3 .7 7 2.5 44.5 1 11.2 .5 3.8 .8 2.7 1 1.5 1.1 .6 1.7 .2 3.9 .1 226.3-.1 3.4-.3 2.1-.6 1.6-1 1.3-1.8 .6-44.5 .6-20.9 .7-10.5 .6-2.8 .6-.7 .8 .1 1.5 1.3 25.5 24.5 1.9 1.5 .8 .3 .8 0 1.9-.4 10.9-3.1 15.3-3.8 20-5.7 9-2 4.6-.7 14.2-1.5 19-1 6.7-.6 7.5-.9 7.1-1.3 4.2-1 2.9-1 14-6.5 4.8-1.8 5.5-1.6 8.7-2 30.4-5 12.1-1.5 11.2-.6 36.6-.9 45.4-.5 18.3 .2 18.7 .7 11.9 .8 12.1 1.3 15.2 2.2 16.3 3 10.3 2.5 12.1 3.8 21.1 7.2 12.5 4.5 13.4 5.4 12.7 5.5 10.1 5.1 18.8 10.3 26.3 14 7.1 4.1 16.3 10 8 4.4 9.4 4.3 8.1 3.3 9.6 3.1 9 2.4 3.3 .8 118.3 0M119.7 490.3l113.7-.1 5.6-.3 1.7-.3 1.4-.7 1.1-.9 1-1.3 .5-43.4 .4-14.1 .6-10.5 .4-3.3 .6-2.5 .7-1.3 1.2-.5 19.5 .5 1.2 .3 .8 .4 .5 .7 .6 1.1 1 4 .9 9 2.3 41.9 1 11.8 .6 4 .7 2.9 1 1.6 1.1 .7 1.8 .2 3.8 0 236.1 0 3.4-.3 2.1-.6 1.6-1 1.3-1.7 .6-42.5 .6-22.1 .7-11.1 .6-3 .6-.8 .8 .1 1.5 1.2 25.5 24.5 1.9 1.5 .8 .3 .7 .1 2-.4 10.9-3.1 15.3-3.8 19.6-5.6 8.6-1.9 5.2-.7 10.4-.8 16.1-.5 5.5-.4 6.2-.7 6.5-1.2 5.7-1.4 5.2-1.6 4.1-1.6 7-3.4 4.6-1.9 5-1.8 6.4-1.8 11.3-2.5 30.9-5 10.7-1.3 9.2-.6 39.9-1.1 49.3-.5 18.2 .2 18.8 .7 12.1 .8 12.2 1.3 15.4 2.2 16.3 3 10.2 2.5 12 3.7 21.3 7.4 12.5 4.5 13.4 5.4 12.7 5.5 10.1 5.1 19 10.5 26.3 13.9 6.9 4 16.3 10 8.1 4.4 9.2 4.3 8 3.3 9.4 3.1 9 2.4 3.9 .9 109.3 0M119.7 495l109.1 0 5.6-.3 1.5-.4 1.4-.7 .9-.8 1-1.2 .7-48.9 .8-18.4 .4-3.7 .6-2.8 .7-1.4 .6-.3 .8-.2 19.4 .4 1.1 .2 .8 .5 .5 .6 .6 1 .6 1.9 .6 3.1 .7 7.4 2.3 41.6 1 12.4 .6 4.2 .7 3.1 1 1.7 1.3 .8 1.8 .2 3.8 0 245.7 0 3.4-.3 2.1-.6 1.6-1 1.3-1.7 .6-40.3 .6-23.4 .7-11.8 .6-3.1 .4-.8 .4-.2 .7 .2 1.6 1.3 25.1 24.2 2.1 1.7 .8 .3 .7 .1 2-.4 11.1-3.2 14.9-3.6 18.6-5.3 8.3-1.8 4.6-.6 4.4-.3 22.2 .1 5-.4 5.2-.9 6-1.6 6.1-2 5-2 6.9-3.4 5-2.2 4.4-1.6 5.2-1.5 11.1-2.8 8-1.7 31.9-5.1 10.9-1.3 9.4-.6 42.8-1.1 50-.6 18.2 .3 18.6 .7 12.3 .8 12.7 1.3 15.3 2.2 16.3 3 10.2 2.5 11.9 3.7 21.6 7.4 12.5 4.6 13.4 5.4 12.9 5.6 10 5 18.9 10.5 26.5 14.1 6.9 4 16.1 9.8 8.1 4.4 9.2 4.3 7.8 3.2 9.3 3.1 8.6 2.4 4.6 1 100.5 0M119.7 499.8l104.1 0 5.6-.3 1.5-.4 1.4-.6 .9-.8 1-1.2 .8-46.1 .3-13 .6-9.7 .4-3.1 .6-2.4 .7-1.1 1.2-.4 19.6 .3 1.1 .3 .8 .5 .6 .6 .5 1.2 1 4.3 .9 9.3 2.3 42.2 1 11.4 .6 3.8 .7 2.8 1 1.5 1.2 .6 1.7 .3 3.8 0 255.5-.1 3.4-.2 2.1-.6 1.6-1 1.3-1.6 .8-48.7 .4-14.1 .7-12.5 .6-3.3 .4-.9 .4-.2 .7 .2 1.6 1.3 25.3 24.3 2.1 1.6 1.3 .3 2-.3 11.3-3.2 14.5-3.6 16.3-4.5 8.3-1.8 4.4-.4 4 0 13.8 1.4 5.2 .2 4.4-.2 4.2-.7 5.4-1.5 6.3-2.5 6.9-3.3 10.2-5.9 3.3-1.4 4.4-1.4 5.7-1.4 22.7-4.8 31.8-5 11.3-1.4 9.6-.6 45.8-1.1 50.5-.6 18 .2 18.6 .7 12.7 .8 13 1.4 15.4 2.2 16.4 3 10.2 2.5 11.7 3.6 21.9 7.6 12.4 4.6 13.7 5.4 12.8 5.7 9.8 4.9 19.2 10.6 26.4 14.1 6.7 3.9 16 9.7 8 4.5 9 4.2 7.9 3.2 8.8 3 8.8 2.5 5.2 1.2 91.7 0M119.7 504.6l99.5 0 5.4-.4 1.5-.4 1.4-.6 .9-.9 1-1.3 .6-42.6 .4-14.4 .5-10.8 .4-3.4 .6-2.6 .8-1.3 1.1-.5 19.6 .3 1.1 .3 .8 .4 .6 .6 .5 1.2 1 3.9 1 9 2.3 41.9 .9 12 .6 4 .8 3 .9 1.6 1.4 .7 1.7 .2 4 .1 264.9-.1 3.4-.2 2.1-.6 1.8-1.1 1.3-1.8 .4-35.2 .6-26.2 .7-13.2 .6-3.6 .2-.6 .6-.6 .7 .2 1.6 1.2 25.3 24.4 2.1 1.6 1.3 .3 1.8-.3 10.3-2.9 14.4-3.6 13.2-3.5 4.8-1 4.2-.7 4.6-.2 4.5 .4 3.4 .7 8.6 2.2 4.3 .7 4 .1 3.8-.5 5-1.6 5.6-2.7 8-5.1 10.8-7.8 3.4-1.9 3.5-1.4 4-.9 14.2-2.4 17.8-3.5 30.1-4.6 11.7-1.4 9.8-.7 49.5-1.1 50.4-.5 18.1 .2 18.4 .7 13.2 .9 13 1.3 15.6 2.3 16.5 3 9.9 2.4 11.7 3.6 21.9 7.6 12.7 4.7 13.6 5.4 13 5.8 9.6 4.8 19.2 10.6 26.4 14.2 6.8 3.8 15.9 9.8 8 4.4 8.9 4.2 7.8 3.2 8.5 2.9 8.6 2.5 6.1 1.4 82.7 0M119.7 509.4l94.7-.1 5.4-.3 1.5-.4 1.4-.7 .9-.9 .8-1.1 .8-48.3 .7-18.7 .4-3.9 .6-2.8 .8-1.4 .5-.4 .8-.2 19.4 .2 1.1 .3 .8 .4 .6 .6 .6 1 .5 1.8 .6 3.1 .8 7.3 2.3 41.8 .9 12.5 .6 4.2 .8 3.2 .9 1.7 1.4 .8 1.7 .2 4 .1 274.8-.1 3.5-.3 2.1-.6 1.5-1 1.4-1.8 .6-44.5 .5-20.9 .8-10.5 .6-2.8 .6-.7 .7 .1 1.4 1.1 24.1 23.3 2.7 2.3 1.5 .8 2.2-.1 12-3.4 20.9-5 5.4-1 4.6-.4 4.2 .2 4.3 .9 4.4 1.6 7.1 3.4 2.8 1.1 3.3 .9 3.1 .2 2.3-.3 2.5-.7 2.5-1.2 2.6-1.6 3.3-2.4 4-3.4 13.8-12.8 2.3-2 2.5-1.7 2.5-1.3 2.7-1 2.7-.7 15.5-1.6 23.2-4.3 30.9-4.4 12.9-1.4 6.1-.3 46.4-1 56.6-.6 17.8 .2 18.2 .7 13.8 .8 13.3 1.4 15.5 2.3 16.7 3 10 2.5 11.5 3.5 22.2 7.7 12.7 4.7 13.6 5.5 13 5.7 9.6 4.8 19.2 10.7 26.7 14.2 6.7 3.9 15.7 9.7 7.9 4.3 8.8 4.2 7.7 3.1 8.2 2.9 8.4 2.5 6.9 1.6 73.9 0M119.7 514.1l90.1 0 5.2-.4 1.5-.4 1.4-.8 1.5-1.7 .2-4 .6-41.4 .4-13.3 .6-9.9 .5-4.2 .8-2.2 .6-.5 .5-.3 2.2-.1 17.8 .3 1.1 .3 .8 .4 .6 .7 .6 1.2 .9 4.1 1 9.3 2.3 42.2 .9 11.6 .6 3.9 .8 2.8 .9 1.5 1.4 .7 1.7 .2 3.8 0 294 0 1-50.9 1-27 .5-6.6 2 .2 1.9 .8 2.1 1.3 2.3 2 3.4 3.5 7.9 8.9 6.1 6.1 9.8 11.3 3.5 3.2 3 1.8 1.6 .4 1.3 .1 1-.4 .9-.8 2.5-3.1 .8-1.2 3.2-7.9 1.4-2.5 .6-.6 .5-.2 .8 .2 .8 .4 1.3 1.4 1.6 2.2 1.9 3.2 1.1 2.6 3.1 9.4 3.6 16 1.4 4.9 2.9 6.7 2.6 4.4 2 2.2 2.4 2.2 2 1.4 1.9 .9 4.6 1.1 4.4 .7 4.2 .3 3.5-.2 2.8-.5 3.5-.9 3.1-1 1.9-1 2.3-1.7 2.3-2.3 1.3-1.8 1.4-2.6 .9-2.4 .6-2 1.9-10.2 1.9-12.5 3.3-26.4 1.5-8 .6-1.7 .4-.4 2.5-1.8 2.9-1.3 2.8-.9 6.6-1.4 16.1-4.5 9.8-2.3 9.2-1.5 17.2-1.9 16.7-1.4 53.5-3.7 25.7-1.5 48.3-2.1 26.7-.4 19.7 .2 13.7 .8 15.7 1.6 16.5 2.6 8.8 1.8 9.4 2.7 10.5 3.5 19.8 7.1 11.1 4.3 10.6 4.3 10.3 4.6 9.4 4.5 7.5 4.1 18 10.5 27.3 15.3 6.5 4 15.5 10.1 7.9 4.6 8.2 4.1 7.5 3.4 7.1 2.7 8.4 2.7 8.7 2.2 65.2 0M119.7 518.9l85.3 0 5.2-.4 1.6-.5 1.3-.8 1.5-1.8 .8-50.4 .4-11 .6-8.3 .5-3.5 .8-1.7 1.2-.7 2.1-.1 17.6 .2 1.2 .3 .7 .4 .6 .6 .6 1.1 .5 1.9 .6 3.3 .8 7.6 2.3 42 1 12.1 .5 4.1 .8 3 1 1.6 1.3 .8 1.7 .2 3.9 0 285.7 0 8.6 0 3.9-.4 1.5-.4 1.2-.6 .9-.9 1-1.3 .6-40.3 .5-23.4 .4-7.5 .6-5.6 .6-2.3 .3-.5 .4-.1 1 .4 1.5 1.2 26.3 22.3 3.3 3 1.9 2.7 1.5 3.9 1.4 6.6 .9 7.4 2.1 20 1.2 7.8 .5 2.5 .8 2.3 .8 1.4 .9 .9 2 .7 4 .2 66.5 0 7.7-.3 1.9-.3 1.4-.6 1.1-1 1-1.2 .4-31.7 .5-23.7 .8-11.9 .6-3.2 .4-.7 .3-.4 2.7-.5 8.5-3.6 5.1-2 9.2-2.8 8.5-2.3 7.1-1.7 6.7-1.3 17.1-2.3 25.3-2.4 50.2-4 20.5-1.4 24.2-1.3 27.4-1.1 13.1-.3 14.7-.1 20 .2 13.2 .7 15.6 1.6 16.3 2.6 9 1.8 9.6 2.7 10.9 3.6 19.7 7.2 11.4 4.3 10.7 4.5 10.4 4.6 9.5 4.6 7.5 4.1 18 10.5 27.5 15.4 6.3 3.9 15.3 10 7.7 4.5 8.1 4.1 7.4 3.3 6.6 2.5 8.2 2.8 10 2.6 56.2 0M119.7 523.7l80.7 0 5-.5 1.6-.5 1.3-.8 1.3-1.6 .8-47.7 .4-12.3 .6-9.2 .5-3.8 .8-2 .6-.5 .6-.2 2.3-.2 17.6 .3 1.2 .3 .7 .4 .6 .7 .6 1.3 .9 4.4 1 9.6 2.1 39.3 1.2 14.3 .5 3.7 .8 2.7 1 1.4 1.3 .7 5.6 .2 295.5 0 8.6-.1 3.7-.3 1.5-.4 1.2-.6 .9-.9 1-1.2 .7-48.7 .6-18.6 .8-9.4 .6-2.5 .3-.5 .4-.1 1 .4 1.5 1.1 25.9 22 3.3 3.1 1.9 2.7 .8 1.8 .7 2.4 1.2 5.7 .9 7.3 2.1 20.1 1.2 8.1 .6 2.7 .7 2.4 .8 1.5 1.1 1.2 2 .6 4 .2 67.3 0 7.7-.3 1.9-.4 1.3-.6 1.2-.9 .9-1.3 .4-31.8 .6-23.8 .8-11.9 .6-3.3 .3-.7 .4-.2 .6 0 1.7 .7 1.4-.1 9.4-3.9 5.9-2.1 12.1-3.6 10.7-2.8 6.4-1.3 6.5-1.1 18.6-2.4 17.2-1.7 46.1-4.1 28.5-2.2 22.7-1.3 25.5-1 14.2-.4 16.3-.2 24.5 .4 9.6 .6 10 1 12.1 1.7 12.8 2.3 7.5 1.7 8 2.4 14.2 4.8 26.1 9.7 15.6 6.5 14.7 6.9 8.8 4.7 18.5 10.8 27.2 15.4 6.5 4 14.8 9.6 6.7 4 10.7 5.5 9.8 4.2 11.3 3.9 10 2.6 47 0M119.7 528.5l75.9-.1 2.9-.1 2.1-.3 1.6-.5 1.3-.9 1.2-1.4 .2-2.5 .5-42.3 .4-13.6 .6-10.2 .6-4.3 .7-2.1 .6-.6 .6-.2 2.5-.2 17.6 .2 1 .3 .7 .4 .6 .7 .6 1.1 1 4.1 .9 9.3 2.3 42.2 1 11.7 .5 3.9 .8 2.9 1 1.5 1.3 .7 1.7 .2 3.9 .1 305.1 0 8.6-.1 3.9-.3 1.5-.4 1.3-.8 1-.8 1-1.4 .5-46.5 .6-19.8 .8-9.9 .6-2.6 .3-.6 .4-.1 1 .3 1.5 1.2 25.3 21.4 3.3 3.1 1.9 2.7 .8 1.7 .7 2.4 1.4 6.8 .9 7.5 2.1 20.3 1.2 7.8 .6 2.6 .7 2.3 .8 1.3 1 1 1.9 .7 4 .2 67.7 0 7.7-.3 1.9-.4 1.3-.6 1.2-.8 1-1.3 .5-38.7 .6-20.1 .8-10.1 .5-2.7 .6-.6 .8 .1 2.7 1.7 1.3 0 9.8-3.8 7.1-2.4 11.3-3.5 9.8-2.6 7.5-1.6 9.7-1.6 11-1.6 12.4-1.5 56.2-5.6 30.1-2.4 21-1.2 23.5-1 16.5-.5 16.7-.2 14.4 .1 10.9 .3 10 .7 10.2 1.1 12.1 1.8 13 2.3 7.7 1.9 8.8 2.7 14.6 5.1 25.1 9.4 15.3 6.5 14.4 6.8 8.4 4.5 18.5 10.8 27.4 15.5 6.5 4 14.6 9.5 6.5 3.9 10 5.2 9.2 4 11.9 4.2 10.9 3 37.8 0M119.7 533.3l71.2-.1 2.8-.1 2.1-.4 1.6-.5 1.1-.8 1.4-1.6 .7-49.9 .4-11.3 .6-8.4 .6-3.6 .7-1.8 1.2-.7 2.5-.1 17.4 .2 1 .2 .8 .4 .5 .6 .6 1.1 .6 1.9 .6 3.2 .7 7.5 2.3 42.1 1 12.2 .6 4.1 .7 3.1 1 1.6 .6 .5 .9 .3 5.6 .3 314.9 0 8.6-.1 3.7-.3 1.5-.4 1.3-.8 1-.8 1-1.4 .5-44.5 .6-20.9 .4-6.7 .6-5 .5-2 .4-.4 .4 0 1 .4 1.5 1.2 25.1 21.3 3.1 3 1.7 2.6 .8 1.8 .7 2.5 1.2 5.8 1 7.5 2.1 20.5 1.1 8.1 .6 2.7 .8 2.4 .7 1.5 1.2 1.1 1.9 .7 4 .1 67.9 0 7.7-.2 1.9-.4 1.3-.5 1.2-.9 1-1.2 .7-44.6 .4-12.9 .8-11.4 .5-3.1 .6-.7 .6 0 .6 .3 3.4 2.6 .8 .2 .8 0 9.9-3.8 11.3-3.8 10.6-3.2 9.4-2.3 10.2-2 11.1-1.9 13.2-1.8 15.7-1.8 46.1-4.9 31.8-2.7 19-1.1 23-1 17.5-.5 16.1-.2 14.5 .1 11.5 .4 10.2 .7 10.4 1.2 12.4 1.9 13.1 2.5 8.4 2.1 9.4 2.9 24.7 9 13.9 5.4 14.9 6.4 14.2 6.7 8.3 4.4 18.4 10.9 27.6 15.6 6.3 3.9 14.4 9.4 6.3 3.8 8.8 4.6 8.9 4.1 5.3 2 7.3 2.5 6.2 1.9 5.9 1.5 28.6 0M119.7 538l66.5 0 2.9-.2 1.9-.3 1.6-.6 1.1-.8 1.2-1.4 .7-47.2 .4-12.5 .6-9.4 .6-3.9 .7-2 .6-.6 .6-.2 2.5-.2 17.6 .3 1 .2 .8 .5 .5 .7 .6 1.2 1 4.3 .9 9.6 2.1 39.3 1.2 14.4 .6 3.7 .7 2.8 1 1.4 1.3 .7 5.6 .2 324.3 0 8.8 0 3.9-.3 1.5-.5 1.3-.6 1-.9 .9-1.3 .6-42.5 .6-22.1 .4-7.1 .6-5.3 .5-2.2 .4-.4 .4-.1 1 .4 1.5 1.2 24.3 20.7 3.1 2.9 1.9 2.8 .8 1.7 .8 2.4 1.3 7 3.1 28.3 1.1 7.9 .6 2.5 .8 2.3 .7 1.4 1 .9 1.9 .7 4 .2 68.5 0 7.7-.2 1.9-.4 1.3-.6 1.2-1 .9-1.2 .6-41.1 .6-19.2 .8-9.7 .4-2 .3-.8 .4-.2 .6 0 .6 .4 4.4 3.7 .7 .3 1 0 12.9-4.7 15.1-4.9 10.7-3 10.4-2.3 13-2.3 15.8-2.3 51.2-6.2 28.2-2.7 26.6-1.9 39.3-1.7 23.8-.4 14.6 .2 12.1 .4 10.3 .8 10.6 1.2 12.8 2.1 13.3 2.6 9 2.3 10.1 3.3 24 8.8 13.6 5.4 14.6 6.3 13.8 6.6 7.9 4.2 18.6 11 27.6 15.6 6.3 4 14 9.1 6.2 3.7 7.4 4 8.5 4 6.1 2.5 7.3 2.6 6.9 2.1 6.5 1.6 19.8 0M119.7 542.8l61.9-.1 2.7-.1 1.9-.4 1.6-.6 1.1-.9 1-1.2 .2-.8 .8-51.2 .3-10.5 .6-7.8 .6-3.3 .8-1.6 1.1-.7 2.5-.1 17.4 .2 1 .2 .8 .5 .5 .6 .6 1.2 1 4 .9 9.1 2.3 42.3 1 11.8 .6 4 .7 2.9 1 1.6 .6 .4 .9 .3 5.6 .2 334.3 0 8.6-.1 3.6-.3 1.6-.4 1.3-.6 1-.9 .9-1.3 .6-40.3 .6-23.4 .4-7.5 .6-5.6 .5-2.3 .4-.5 .4-.1 1 .4 1.5 1.2 24 20.3 3 3 1.9 2.8 .8 1.8 .8 2.6 1.1 6 1 7.7 2.1 20.8 1.1 8.2 .6 2.7 .8 2.4 .8 1.4 1.1 1.2 1.9 .6 4.1 .2 68.6 0 7.7-.3 1.9-.3 1.3-.6 1.2-.9 1-1.2 .5-37.4 .6-21.7 .8-10.9 .5-2.9 .6-.7 .6 .1 .8 .4 5.3 4.8 1 .4 .8 .1 1.5-.4 9.2-3.4 14-4.8 8.6-2.7 7.7-2 9.8-2.2 10-1.9 12.2-2 14-2 45.3-5.7 19.5-2.1 16.7-1.4 18.1-1.2 21.8-1 22.8-.8 17.5-.2 15.1 .2 12.5 .4 10.6 .9 10.7 1.3 13 2.2 13.7 2.8 9.5 2.6 11 3.7 22.8 8.4 13.2 5.3 14.4 6.3 13.4 6.4 7.7 4.2 18.4 10.9 27.8 15.7 6.4 4 13.8 9 5.9 3.6 6 3.2 8 4 6.3 2.7 6.4 2.3 7.5 2.4 6.9 1.9 2.1 .5 11.3 0M119.7 547.6l57.3-.1 2.7-.2 1.9-.4 1.6-.7 1.1-1 .8-1.1 .8-49.3 .3-11.5 .6-8.7 .6-3.6 .8-1.9 .5-.5 .6-.2 2.7-.1 17.5 .2 .9 .3 .8 .5 .6 .7 .5 1.3 1 4.5 .8 7.4 2.3 42 .9 12.4 .6 4.2 .8 3.1 .9 1.7 .6 .4 1 .4 5.7 .2 343.5 0 8.8-.1 3.8-.3 1.6-.4 1.3-.6 1-.9 .9-1.3 .8-48.6 .6-18.6 .7-9.4 .6-2.5 .4-.5 .4-.1 .9 .3 1.6 1.2 23.4 19.9 3 2.9 2 2.8 .7 1.8 .8 2.4 1.3 7.2 3.1 28.9 1.2 7.9 .5 2.5 .8 2.3 .8 1.4 .9 .9 1.9 .7 4.1 .2 69 0 7.7-.3 1.9-.3 1.5-.7 1.2-1 .9-1.3 .4-32.8 .6-24.5 .8-12.3 .5-3.3 .6-.8 .6 0 1 .6 6.3 5.8 .9 .5 1 .1 1.7-.4 13.5-4.9 12.2-4.2 8.5-2.5 7.6-2.1 9.8-2.2 12.7-2.4 13.6-2.2 16.1-2.4 23.2-3.2 15.2-1.9 20.3-2.1 16.7-1.5 16.5-1.1 22-1 22.6-.8 17.3-.2 15.5 .2 13.1 .5 10.9 1 11.5 1.5 13.3 2.3 13.4 2.8 10.1 2.9 12.1 4.2 21.3 8 13.1 5.3 14 6.1 13 6.3 7.3 4 18.6 11 27.8 15.8 25.7 16.4 4.6 2.5 6.7 3.4 10 4.3 10.7 3.8 5.8 1.7 5.5 1.4 3.7 0M119.7 552.4l52.7-.1 2.5-.2 2-.5 1.5-.7 1.1-1.1 .6-.8 .8-46.5 .4-12.8 .5-9.6 .6-4.1 .8-2 .6-.5 .5-.3 2.9-.1 17.3 .2 .9 .2 .8 .5 .6 .6 .5 1.2 1 4.3 1 9.5 2.3 42.4 .9 11.4 .6 3.8 .8 2.8 .9 1.5 .6 .4 1 .3 5.7 .2 353.3 0 8.6-.1 3.8-.3 1.6-.4 1.3-.6 1.2-1.1 .9-1.3 .6-46.5 .6-19.8 .7-9.9 .6-2.6 .4-.6 .4-.1 .9 .3 1.6 1.2 23 19.5 3.1 3 1.9 2.9 .7 1.8 .8 2.6 1.2 6.3 .9 7.8 2.1 21.1 1.2 8.2 .6 2.7 .7 2.4 .8 1.5 1.1 1.1 2 .7 4 .2 69.2 0 7.7-.3 1.9-.3 1.5-.7 1.2-.9 .9-1.3 .6-39.8 .6-20.8 .8-10.4 .5-2.7 .6-.6 .6 0 1 .7 7.2 6.9 1.2 .7 .9 .1 2-.5 18-6.5 10.5-3.6 8.5-2.5 9.6-2.5 12.1-2.6 14-2.6 38.5-5.9 16.1-2.2 15.4-1.8 16.4-1.7 15.6-1.3 16.5-1 19.5-.8 20.4-.7 15.9-.2 15.9 .2 13.8 .5 11.1 1 11.9 1.6 14 2.5 13.3 2.9 10.5 3.1 12.7 4.5 19.5 7.4 12.1 4.8 12.9 5.6 12 5.8 9.6 5.1 19.6 11.5 26.6 15.2 6.8 4.1 15.7 10.2 8.2 4.8 9.4 4.7 8.1 3.5 9.6 3.3 9 2.6M119.7 557.1l48.1-.1 2.5-.2 1.9-.5 1.4-.7 1.1-1.2 .6-.8 .8-51.3 .4-10.6 .5-8 .6-3.4 .8-1.7 1.1-.6 2.9-.2 17.1 .2 .9 .2 .8 .5 .6 .6 .6 1.1 .9 4 1 9 2.3 42.3 .9 11.9 .6 4 .8 3 .9 1.6 .6 .4 1 .3 5.7 .2 362.9 0 8.8 0 3.8-.3 1.6-.4 1.3-.6 1.2-1 .9-1.4 .6-44.5 .6-20.9 .4-6.7 .5-5 .6-2 .4-.4 .4-.1 .9 .5 1.6 1.2 22.4 19 3.1 3 1.7 2.6 .8 1.8 .7 2.6 1.2 6 .9 7.7 2.1 21.3 1.2 8.6 .6 2.8 .7 2.6 .8 1.5 1.2 1.2 1.9 .7 4 .2 69.8 0 7.7-.2 1.9-.4 1.3-.6 1.2-.9 1-1.2 .7-45.9 .4-13.3 .8-11.8 .5-3.1 .6-.8 .8 .1 .9 .7 8.5 8.2 1.1 .7 1 .1 2.5-.7 19.2-7 9.4-3.3 8-2.5 9.8-2.6 12.5-2.8 14-2.7 39.3-6.4 15.3-2.2 15.7-1.9 15.8-1.7 14.7-1.2 15.8-1 18.8-.8 21.4-.7 15.4-.2 16.1 .2 14.6 .5 10.9 1 11.7 1.5 14.2 2.6 14 3 10.5 3.1 12.7 4.4 20.3 7.7 12.5 5.1 13.2 5.8 12.7 6 8.4 4.6 19.2 11.4 27.2 15.4 6.4 4 15.1 9.8 7.7 4.6 8 4.1 7.5 3.4 6.3 2.4 8.5 2.8M119.7 561.9l43.5-.1 2.5-.3 1.8-.5 1.3-.7 1.1-1.2 .4-.6 .8-48.7 .4-11.9 .6-8.8 .5-3.7 .8-1.9 .6-.5 .5-.2 3.1-.2 17.1 .2 .9 .2 .8 .5 .6 .7 .6 1.3 .9 4.5 .8 7.3 2.3 42 1.1 14.1 .6 3.6 .8 2.6 .9 1.5 1.6 .6 5.7 .2 373 0 8.7 0 3.6-.4 1.6-.4 1.3-.7 1-.8 .9-1.3 .6-42.5 .6-22.1 .3-7.1 .6-5.3 .6-2.2 .4-.4 .4-.1 .9 .4 1.6 1.2 22 18.7 3.1 3.1 1.7 2.7 .8 1.9 .7 2.7 1.2 6.4 .9 8 2.2 21.4 1.1 8.3 .6 2.7 .8 2.4 .7 1.5 1 1 1.9 .7 4 .2 70.2 0 7.7-.2 1.9-.4 1.5-.7 1.2-.9 .9-1.3 .6-42.3 .6-19.9 .8-9.9 .3-2.1 .4-.8 .4-.2 .8 .2 .9 .8 9.4 9.2 1.2 .8 1.1 .2 3.7-1.1 18.8-7.1 9-3.2 8.4-2.6 9-2.5 12.9-3 14-2.9 39.7-6.8 14.8-2.2 15.9-2 15.3-1.6 14.2-1.3 15.4-.9 17.8-.8 22.4-.8 14.8-.2 16.3 .1 15.1 .6 10.6 .9 11.5 1.5 14.4 2.5 15.1 3.2 10.4 3 12.5 4.4 21.1 8 12.8 5.2 13.6 6 12.9 6.2 7.8 4.3 19 11.3 27.6 15.7 6.4 3.9 14.3 9.4 7.1 4.3 6.4 3.3 6.9 3.3 5.7 2.4 5.8 2.1M119.7 566.7l38.9-.1 2.3-.3 1.8-.5 1.3-.9 1.2-1.2 .1-.3 .2-5.1 .8-48.3 .8-15.4 .5-4.2 .8-2.1 .6-.5 .6-.3 3-.1 17.1 .1 1 .3 .7 .4 .6 .7 .6 1.2 .9 4.2 1 9.4 2.3 42.4 1 11.5 .5 3.8 .8 2.8 1 1.6 .5 .4 1 .3 5.7 .2 382.6 0 8.7-.1 3.8-.3 1.5-.4 1.4-.7 .9-.8 1-1.3 .6-40.3 .6-23.4 .3-7.5 .6-5.6 .6-2.4 .4-.4 .4-.1 .9 .4 1.5 1.2 22.1 18.7 3.1 3 1.7 2.7 .8 1.9 .7 2.6 1.2 6.3 .9 7.9 2.2 21.5 1.1 8.4 .6 2.7 .7 2.5 .8 1.5 1.2 1.1 1.9 .7 4 .2 69.8 0 7.7-.2 1.9-.4 1.5-.7 1.2-.9 .9-1.2 .6-38.5 .6-22.4 .8-11.2 .5-3 .6-.7 .8 .2 .9 .7 10.8 10.7 1.1 .8 1.2 .2 3.8-1.2 27.6-10.4 8.7-2.8 8.4-2.5 13-3.1 14.2-3.1 19.2-3.6 20.5-3.6 14.2-2.2 15.9-2 15.2-1.8 14-1.2 14.8-1 17.2-.8 23.6-.7 13.8-.3 16.7 .1 15.7 .6 10.4 .8 11.1 1.5 14.8 2.5 15.9 3.4 10.2 2.8 12 4.2 22.1 8.5 13 5.3 14 6.1 13.1 6.4 7.7 4.2 18.7 11.1 28 16 20.2 12.9 6.5 4 9.8 5 9.4 4.2M119.7 571.5l28.6 0 5.9-.2 2.1-.3 1.8-.6 1.3-1 1.1-1.5 .6-42.4 .4-14.5 .6-10.9 .6-4.6 .3-1.5 .6-1.1 1.2-.6 3-.2 16.9 .2 1 .2 .7 .4 .6 .6 .6 1.2 .9 3.9 1 8.9 2.3 42.2 1 12.1 .7 5 .8 2.5 1 1.4 1.5 .6 5.7 .2 392.2 0 8.7-.1 3.8-.3 1.5-.4 1.4-.6 .9-.9 1-1.3 .8-48.6 .5-18.7 .8-9.3 .6-2.5 .4-.5 .4-.1 .9 .3 1.5 1.2 22.1 18.7 3.1 3.1 1.7 2.6 .8 1.8 .7 2.6 1.2 6.2 .9 7.8 2.1 21.5 1.2 8.5 .6 2.9 .7 2.5 .8 1.5 1.2 1.2 1.9 .7 4 .2 69.8 0 7.7-.3 1.9-.4 1.5-.7 1.2-.9 .9-1.4 .4-33.8 .6-25.2 .8-12.7 .5-3.4 .6-.8 .8 0 1.1 1 11.7 11.8 1.4 .9 1.1 .2 4.2-1.3 27.5-10.7 8.8-3 8.2-2.4 13.1-3.3 14.2-3.2 20.5-4.1 18.8-3.4 13.6-2.2 15.9-2.1 15.2-1.8 13.6-1.2 14.2-1 16.9-.8 21.8-.7 15.6-.3 17 .1 15.8 .5 10.3 .8 10.9 1.3 15.2 2.6 16.9 3.5 9.9 2.8 11.5 3.9 23.3 8.9 13.2 5.4 14.2 6.2 13.4 6.6 7.3 4 19 11.3 28 15.9 19.7 12.7 6 3.7 5.7 3.1 8.1 3.9M119.7 576.3l24.4-.1 5.5-.2 2.1-.3 1.6-.6 1.3-1 1-1.3 .7-48.1 .4-12.1 .6-9.1 .6-3.8 .3-1.2 .6-1 1.2-.5 3-.1 16.9 .1 1 .3 .7 .5 .6 .7 .6 1.2 1 4.4 .7 7.3 2.3 42 1.2 14.2 .5 3.7 .8 2.6 1 1.5 1.5 .7 5.8 .2 401.7 0 8.9-.1 3.8-.3 1.5-.4 1.4-.6 1.1-1.1 1-1.4 .6-46.4 .5-19.8 .8-9.9 .6-2.6 .4-.6 .3-.1 1 .3 1.5 1.2 22.3 18.8 3.1 3.1 1.7 2.8 .7 2 .8 2.8 1.2 6.6 2.8 27.8 1.2 8.7 .6 2.9 .7 2.6 .8 1.5 1.2 1.2 1.9 .7 4 .2 69.6 0 7.7-.2 1.9-.4 1.5-.7 1.2-.9 .9-1.3 .6-41 .6-21.4 .8-10.8 .5-2.7 .6-.7 .8 .2 1.1 1 12.7 13 1.5 1.1 1.2 .1 4.8-1.6 26.8-10.8 8.8-3 8.3-2.5 13-3.5 14.2-3.3 21.1-4.4 17.7-3.4 13.2-2.1 15.7-2.2 15.2-1.9 13.4-1.2 13.8-1 16.3-.8 19.4-.7 17.6-.4 16.7 .1 15.3 .4 11.2 .7 11.3 1.4 15.5 2.5 17.9 3.7 9.5 2.6 11 3.7 24.1 9.2 13.5 5.5 14.5 6.4 13.7 6.6 7.4 4.1 19.2 11.4 26.7 15.2 6.3 3.9 17.6 11.4 5.4 3.1 5.4 2.8M119.7 581l19.9 0 5.2-.2 1.9-.3 1.6-.6 1.3-1 1-1.2 .2-3.5 .7-49.5 .8-15.8 .6-4.2 .4-1.4 .5-1 .6-.4 .8-.2 3-.1 16.7 .1 1 .3 .8 .4 .5 .7 .6 1.1 1 4.2 .9 9.3 2.3 42.4 1 11.7 .8 4.8 .7 2.4 1 1.3 1.5 .6 5.8 .1 411.5 0 8.7 0 3.8-.3 1.5-.4 1.4-.6 1.1-1 1-1.4 .6-44.5 .5-20.9 .4-6.7 .6-5 .6-2 .3-.4 .4-.1 1 .5 1.5 1.2 21.5 18.2 2.9 2.9 1.7 2.6 .8 1.9 .7 2.6 1.2 6.3 1 7.9 2.1 21.7 1.1 8.6 .6 2.8 .8 2.5 .7 1.6 1.2 1.1 1.9 .7 4 .2 70 0 7.7-.2 1.9-.4 1.5-.6 1.2-1 .9-1.2 .8-47.3 .4-13.7 .8-12.1 .5-3.2 .6-.8 .8 .1 1.1 1 14 14.5 1.4 .9 1.1 .2 1.8-.4 3.2-1.3 18.2-7.6 8.7-3.4 8.6-3.1 8.4-2.6 13.1-3.6 14-3.5 21.1-4.6 16.8-3.3 13.1-2.3 15.3-2.2 15.4-1.9 13.2-1.3 13.4-1 16.1-.8 36.3-1.1 16.3 0 15.1 .4 12.3 .7 10.9 1.2 16.2 2.6 18.7 3.8 9.1 2.4 10.3 3.4 25.1 9.6 13.7 5.5 14.9 6.6 14 6.8 7.7 4.2 19 11.3 28 15.9 20.5 13.2 7.3 4.4M119.7 585.8l15.9 0 4.8-.3 1.9-.4 1.4-.6 1.1-.9 1-1.3 .7-50.4 .4-11.2 .6-8.3 .6-3.6 .4-1.1 .5-.9 1.2-.5 3.1-.1 14.2 0 2.6 .2 1 .2 .8 .5 .5 .8 .6 1.3 1 4.7 .7 7.5 2.3 42.4 1 12.2 .8 5.1 .7 2.5 1 1.4 1.5 .6 6 .2 420.9 0 8.9 0 3.8-.3 1.5-.4 1.4-.6 1.1-1 1-1.4 .5-42.4 .6-22.2 .4-7.1 .6-5.3 .6-2.1 .3-.4 .4-.1 1 .4 1.5 1.2 20.3 17.3 2.9 2.9 1.8 2.8 .7 2 .8 2.9 1.1 6.7 2.9 28.7 1.2 8.9 .5 3 .8 2.7 .8 1.6 1.1 1.3 1.9 .7 4.1 .2 71.3 0 7.7-.3 1.9-.3 1.5-.7 1.2-1 .9-1.3 .6-43.6 .6-20.4 .8-10.3 .3-2.1 .4-.8 .4-.2 .8 .2 1.1 1 14.8 15.5 1.5 1.2 1.2 .2 1.5-.3 3.3-1.3 18.6-8 8.6-3.6 8.4-3.1 8.7-2.7 12.8-3.7 14-3.6 20.7-4.7 16.5-3.4 12.7-2.3 15.1-2.2 15.4-2 13-1.4 12.9-1 15.9-.8 35.5-1.1 16.1-.1 14.9 .4 13.5 .7 10.7 1.1 15.3 2.4 17.7 3.5 10.3 2.5 11.2 3.5 13.6 5.1 26.1 10.3 15.1 6.6 14.4 7 7.9 4.3 19.3 11.5 27.8 15.9 22.5 14.4M119.7 590.6l11.9-.1 4.4-.3 1.5-.3 1.4-.7 .9-.8 1-1.2 .8-47.9 .3-12.5 .6-9.3 .6-3.9 .4-1.3 .6-.9 .5-.4 .8-.2 3.1-.1 16.7 .1 .9 .3 .8 .5 .6 .7 .5 1.2 1 4.4 .9 9.7 2.2 39.7 1.1 14.5 .8 4.6 .7 2.2 1 1.3 1.5 .5 6 .2 430.7 0 8.6-.1 3.9-.3 1.5-.3 1.4-.6 1.1-1 1-1.3 .5-40.3 .6-23.4 .4-7.5 .6-5.6 .6-2.4 .3-.4 .4-.1 1 .4 1.5 1.2 19.4 16.4 2.7 2.8 1.7 3 1.3 4.4 1.2 6.7 .9 8.5 2.2 22.4 1.1 8.6 .6 2.8 .7 2.5 .8 1.6 1.2 1.1 1.9 .7 4 .2 72.3 0 7.7-.3 1.9-.3 1.5-.7 1.2-1 .9-1.3 .6-39.6 .6-23 .8-11.6 .5-3 .6-.7 .8 .2 1.3 1.1 15.9 16.9 1.6 1.2 1.1 .1 1.8-.5 3-1.2 18.4-8.2 8.7-3.6 8-3.1 8.6-2.8 12.9-3.9 13.8-3.6 20.5-4.9 16.1-3.5 12.5-2.4 14.6-2.2 15.5-2.1 13.1-1.4 12.2-1 15.6-.9 34.3-1.1 16.3-.1 14.8 .3 14.7 .7 10.2 1 14.6 2.1 16.1 3.1 12.8 2.9 11.1 3.4 13.5 4.9 27.2 10.8 15.5 6.8 14.6 7 8.5 4.5 19.5 11.7 27.1 15.4 6.5 4 11.5 7.5M119.7 595.4l8.2-.1 3.7-.4 1.3-.4 1.2-.6 .9-.8 .8-1.1 .2-1.9 .6-43.3 .7-21.7 .6-5.9 .6-2.5 .8-1.2 1.3-.5 19.4 0 1.1 .3 .8 .4 .6 .7 .5 1.1 1 4.2 1 9.3 2.3 43 .9 11.9 .8 4.9 .8 2.5 .5 .9 .6 .5 1.5 .5 6 .2 440.7 0 8.6-.1 3.7-.3 1.5-.4 1.3-.7 1-.8 1-1.3 .7-48.6 .6-18.7 .8-9.3 .5-2.5 .4-.5 .4-.1 .8 .2 1.5 1.1 18.2 15.5 2.7 2.8 1.7 3 1.4 4.3 1.1 6.7 1 8.4 2.1 23 1.2 8.9 .5 3 .8 2.6 .8 1.6 1.1 1.2 1.9 .7 3.7 .3 78.8-.1 3.5-.3 2.1-.6 1.5-1 1.3-1.8 .4-34.8 .6-25.9 .8-13.1 .5-3.5 .6-.9 .8 .1 1.3 1.2 17.1 18.3 1.5 1.2 1.2 .1 1.7-.5 3.1-1.3 18.4-8.4 8.4-3.7 7.7-3 8.4-2.9 12.5-3.9 13.4-3.7 19.6-4.9 15.7-3.6 12.3-2.4 12.6-2.1 16.7-2.4 13.3-1.6 11.1-1 14.9-.9 15.2-.7 16.9-.4 17.6-.3 15.2 .1 14.7 .6 11.9 1 13.8 1.8 15 2.8 15.9 3.4 10.6 3.1 13.6 4.8 27.2 10.8 15.5 6.7 14.6 6.9 10.4 5.5 20.3 12 24.7 14.1 6.7 4 8.7 5.6M119.7 600.1l5-.1 2.7-.5 2.1-1.1 1.5-1.8 .6-42.2 .8-24.4 .5-6.6 .6-2.8 .8-1.4 .6-.4 .7-.1 19.4 0 1.1 .2 .8 .4 .6 .7 .6 1.1 .5 1.9 .6 3.3 .8 7.7 2.3 43.3 1.1 14.3 .8 4.5 .8 2.2 .5 .8 .6 .5 1.5 .4 456.3 .1 8.6 0 3.7-.3 1.5-.4 1.3-.7 1.2-1 .9-1.4 .6-46.5 .6-19.7 .8-9.9 .5-2.7 .4-.5 .4-.2 .8 .3 1.5 1.1 17.1 14.5 2.7 2.9 1.7 3.1 1.3 4.7 1.2 7.2 2.9 30.4 1.1 9.3 .6 3.1 .8 2.8 .7 1.7 1.2 1.3 .7 .4 1.2 .3 3.6 .2 80 0 3.5-.3 2.1-.6 1.5-1 1.3-1.7 .6-42.3 .6-22 .8-11 .5-2.9 .6-.6 .8 .2 1.3 1.2 17.9 19.4 1.5 1.3 1.1 .2 1.6-.4 3.2-1.3 18.4-8.7 8.7-3.9 7.3-2.9 8.2-3 12.3-3.9 13.2-3.9 18.8-4.9 15.4-3.7 11.8-2.4 11.4-2 16.8-2.6 13.8-1.8 11.2-1 13.2-.9 14.8-.7 16.1-.5 19.2-.4 15.5 .1 14.9 .5 12.9 1 13.2 1.7 14.4 2.5 17.5 3.8 9.7 2.7 13.9 4.8 26.6 10.5 15.7 6.7 14.6 6.8 6.9 3.5 6.3 3.5 19.6 11.7 25.9 14.7 9.8 6M119.7 604.7l2.1-.3 1.7-.6 1.4-.9 1.1-1.5 .8-49.6 .8-20.8 .5-5.7 .6-2.3 .8-1.2 1.3-.5 19.2 0 1.2 .2 .7 .4 .6 .6 .6 1.1 .5 1.9 .6 3.1 .8 7.5 2.5 47.5 .9 12 .8 4.8 .8 2.4 .5 1 .6 .5 1.6 .5 5.9 .1 459.9 0 8.6 0 3.9-.3 1.5-.4 1.3-.7 1.2-1 .9-1.3 .6-44.6 .6-20.8 .4-6.8 .6-5 .5-2 .4-.3 .4-.1 .8 .3 1.5 1.2 15.7 13.4 2.7 2.9 1.5 2.9 1.4 4.6 1.1 7.2 3.1 32.7 1.2 8.9 .5 3 .8 2.6 .8 1.5 1.1 1.2 1.9 .7 3.7 .2 80.7 0 3.5-.3 2.1-.5 1.7-1.1 1.3-1.6 .8-48.7 .4-14.1 .8-12.4 .5-3.4 .6-.8 .8 .2 1.3 1.2 19 20.8 1.5 1.3 1.2 .2 1.5-.4 3.3-1.5 18.2-8.8 8.3-3.8 7.1-3 8.4-3.1 12.3-4.1 12.8-3.9 18.4-5 15-3.7 11.3-2.5 10.4-1.9 17-2.8 14.4-1.9 11.1-1.1 12.1-.9 14.4-.7 15.5-.5 20-.4 15.9 0 15.1 .5 13.5 .9 12.4 1.6 14 2.4 18.6 4 9.2 2.5 14 4.8 25.9 10.2 15.8 6.6 14.5 6.7 8.3 4.1 6.1 3.4 20.2 12 22.6 12.8 9.4 5.6M119.7 607.8l1.5-2.1 .6-48.3 .4-15.5 .6-11.6 .5-4.9 .6-2.1 .4-.6 .6-.5 1.9-.4 18.4 .1 1.2 .3 .7 .5 .6 .7 .6 1.2 .9 4.5 1 10.1 2.3 46.9 1.1 14.8 .8 4.6 1 2.6 .5 .7 .8 .5 2.1 .4 475.3 0 8-.1 3.7-.2 1.5-.4 1.3-.7 1.2-.9 .9-1.4 .6-42.4 .6-22.2 .4-7.1 .5-5.3 .6-2.1 .4-.4 .4-.1 .8 .3 1.5 1.1 14.8 12.7 2.5 2.8 1.5 3 1.3 5 1.2 7.8 2.9 31.6 1.1 9.3 .6 3.1 .7 2.7 .8 1.7 1.2 1.2 1.9 .8 4 .2 76.9 0 7.9-.3 1.9-.4 1.5-.7 1.2-1 .9-1.4 .4-32.7 .6-28 .8-14 .5-3.8 .6-1 .8 .1 1.5 1.3 20 22.1 1.5 1.3 1.1 .2 1.6-.5 3.1-1.4 18-9 8-3.8 6.7-2.9 8.7-3.3 12.1-4.2 12.6-4 17.9-5 14.5-3.8 11-2.6 9.9-1.9 16.9-2.9 14.4-2 10.7-1.2 11.2-.9 14-.7 15.1-.6 20.3-.4 17.1 0 15.5 .4 13.8 .9 12.1 1.5 13.8 2.4 17.1 3.6 10.9 2.8 6.7 2.1 7.5 2.7 25.1 9.9 15.8 6.5 14.7 6.8 9.2 4.5 6 3.2 21.5 12.8 27.8 15.9"/>
</g>
<g font-family="Liberation Sans, Arial, sans-serif" fill="#262626">
<text x="119.7" y="680.5" font-size="29.7" text-anchor="middle">0</text>
<text x="311.5" y="680.5" font-size="29.7" text-anchor="middle">100</text>
<text x="503.3" y="680.5" font-size="29.7" text-anchor="middle">200</text>
<text x="695.0" y="680.5" font-size="29.7" text-anchor="middle">300</text>
<text x="886.8" y="680.5" font-size="29.7" text-anchor="middle">400</text>
<text x="1078.6" y="680.5" font-size="29.7" text-anchor="middle">500</text>
<text x="1270.4" y="680.5" font-size="29.7" text-anchor="middle">600</text>
<text x="77.3" y="621.9" font-size="29.7" text-anchor="end">0</text>
<text x="77.3" y="526.3" font-size="29.7" text-anchor="end">2</text>
<text x="77.3" y="430.8" font-size="29.7" text-anchor="end">4</text>
<text x="77.3" y="335.2" font-size="29.7" text-anchor="end">6</text>
<text x="77.3" y="239.7" font-size="29.7" text-anchor="end">8</text>
<text x="77.3" y="144.1" font-size="29.7" text-anchor="end">10</text>
<text x="592.9" y="708.4" font-size="32.7" text-anchor="middle">Time [ms]</text>
<text transform="translate(27.6 372.0) rotate(-90)" font-size="33" text-anchor="middle">Space [cm]</text>
</g>
<text transform="translate(133.2 77.3) scale(0.81 1)" font-family="Liberation Sans, Arial, sans-serif" font-weight="bold" font-size="67" fill="#000">a</text>
<g font-family="Liberation Serif, Times New Roman, serif" fill="#000" stroke="#000" stroke-width="0.6">
<text x="1066.3" y="71.2" font-size="54" font-style="italic">d</text>
<text x="1100.0" y="49.2" font-size="32">0</text>
<text x="1097.5" y="83.2" font-size="40" font-style="italic">w</text>
<text transform="translate(1146.1 72.7) scale(1.25 1)" font-size="53">=</text>
<text transform="translate(1201.1 71.2) scale(1.045 1)" font-size="53">0.43</text>
</g>
<path d="M119.7 903.3V1382.4M119.7 1382.4H1270.4M119.7 1381.4v30M311.5 1381.4v30M503.3 1381.4v30M695.0 1381.4v30M886.8 1381.4v30M1078.6 1381.4v30M1270.4 1381.4v30M120.7 1382.4h-32M120.7 1286.6h-32M120.7 1190.8h-32M120.7 1094.9h-32M120.7 999.1h-32M120.7 903.3h-32" stroke="#2e2e2e" stroke-width="2" fill="none"/>
<path fill="#f20000" fill-opacity="0.55" d="M360.6 1142.9 L360.6 1025.5 L515.9 785.9 L515.9 903.3 Z"/>
<g fill="none" stroke-width="2.9" stroke-linejoin="round" stroke-linecap="butt">
<path stroke="#f20000" d="M119.7 903.3l381.6 0 6.9-.1 3.3-.5 1.5-.8 1.4-1.4 .9-1.8 1-3.1 .8-103.3 .4-10.8 .3-5.4 .2-.7 .4 .7 .4 2 1.7 15.1 .8 4.7 1.9 6 1.5 3.9 1.6 2.6 .7 .7 .6 .2 3.5-.2 4-.6 35.3-7.3 26.6-4 8.1-.8 7.1-.4 21.1 0 17.6 .5 22.5 .9 9 .6 9.8 .9 82 9.7 21.3 3 19 3 8.6 1.6 13.1 3.3 5.6 1.2 32 5.4 15.5 3.1 10.4 2.4 9.4 2.5 9.6 2.8 6.5 2.1 7.6 3.1 10 4.4 7.7 3.7 8.2 4.3 7.5 4.2 30.7 18.6 14.4 8.3 6.9 3.7 10.3 4.8 6.4 2.6 5.3 1.7 7.1 1.5 6.4 .9 5.7 .5 211 0M119.7 908.1l378.4 0 6.9-.1 3.2-.5 1.6-.7 1.3-1.3 1-1.7 .9-2.8 1-101.3 .6-11.7 .4-2.1 .3 .7 .4 1.5 1.8 11.2 .7 3.5 2.1 6.3 1.6 3.8 1.3 2.2 .8 .8 .5 .2 3.5-.2 4-.6 29.4-6.1 7.1-1.4 22-3.3 12.3-1.4 8.8-.4 17.5 .1 19.7 .5 24 1 11.7 .9 14 1.5 66 7.9 28.7 3.9 24 3.9 20.9 4.9 33.6 5.7 18 3.8 15 3.7 13.4 3.9 8.6 3.2 11.7 5 10 4.8 10.9 5.8 33.4 20.1 14.9 8.7 6.8 3.6 10.9 5.2 6.7 2.7 5.6 1.7 7.4 1.6 6.2 .8 5.3 .5 213.9 0M119.7 912.9l375.3 0 6.9-.1 3.3-.5 1.5-.8 1.4-1.3 .9-1.7 1-2.9 .7-90.7 .4-14.3 .4-6 .2-1.3 .2-.2 .4 .7 .5 2.2 2 10.5 1.7 5.2 1.5 4.2 1.4 2.9 1.1 1.6 1 .5 3.4-.2 4.1-.6 36.2-7.5 22.3-3.3 12-1.4 8.9-.4 17.2 .1 19.8 .5 24.1 1 11.7 .9 14 1.4 66 7.9 28.4 3.8 24.5 4.1 21.3 5 32.6 5.5 16.7 3.4 15.7 3.8 14.2 4.2 8.8 3.2 11.6 4.9 10.1 4.8 11.1 6 33.6 20.2 14.8 8.5 6.9 3.8 10.9 5.1 6.7 2.8 5.8 1.7 7.5 1.5 11.1 1.3 216.9 0M119.7 917.7l372.2 0 6.9-.1 3.3-.5 1.5-.8 1.4-1.4 .9-1.8 1-2.9 .8-94 .4-11.8 .5-6.5 .4 .3 .6 1.9 2.1 11.4 1.9 5.7 1.6 4.1 1.1 2.4 1.2 1.5 .9 .5 3.5-.2 4-.6 36.2-7.5 22.1-3.3 12.3-1.4 8.8-.4 17.4 .1 19.8 .5 24.2 1 11.7 .9 13.8 1.4 65.9 7.9 28.4 3.8 24.8 4.1 21.1 5 32.7 5.5 16.5 3.4 15.8 3.8 14.2 4.1 8.8 3.2 11.5 4.9 10.2 4.9 11.1 5.9 33.5 20.2 15 8.7 6.7 3.6 10.9 5.1 6.9 2.9 5.8 1.7 7.5 1.5 5.9 .8 5.2 .5 219.8 0M119.7 922.5l369 0 6.9-.1 3.2-.5 2-1 1.3-1.6 1.4-3.1 .3-2.4 .8-95.7 .4-9.8 .4-5 .2-.6 .3 .4 .6 2 2.1 11.3 1.6 4.6 1.5 4.2 1.3 3 1.2 1.7 1 .6 3.4-.2 4-.6 29.6-6.2 6.9-1.3 22-3.3 12.3-1.4 8.8-.4 17.7 .1 19.7 .5 24.2 1 11.7 .8 13.8 1.5 66 7.9 28.3 3.8 24.8 4.1 21.1 4.9 32.8 5.6 16.5 3.4 15.7 3.8 14.2 4.1 8.8 3.2 11.5 4.9 10.2 4.9 11.1 5.9 33.8 20.3 14.7 8.6 6.9 3.7 11 5.1 6.7 2.8 5.7 1.7 7.7 1.5 10.9 1.3 222.7 0M119.7 927.3l365.9 0 6.9-.2 3.3-.4 1.5-.7 1.4-1.4 .9-1.7 1-2.8 .9-99.4 .6-11.3 .2-1.6 .2-.3 .4 .5 .6 2.2 1.9 10.5 1.7 5.3 1.5 4.1 1.4 3 1.1 1.6 1 .6 3.4-.2 4.1-.6 29.3-6.2 7.1-1.3 22.1-3.4 12.2-1.3 8.9-.4 17.8 .1 19.7 .5 24.2 1 11.7 .8 13.8 1.5 66 7.9 28.4 3.8 24.7 4.1 21.1 4.9 32.8 5.6 16.5 3.4 15.7 3.8 14.2 4.1 8.8 3.2 11.5 4.9 10.2 4.9 11.1 5.9 33.8 20.3 14.7 8.6 6.9 3.7 11 5.1 6.7 2.8 5.7 1.7 7.7 1.5 10.9 1.3 225.6 0M119.7 932l362.8 0 7-.1 3.2-.5 1.5-.7 1.4-1.4 .9-1.7 1-2.9 .8-91.2 .4-13.8 .3-6 .2-1.3 .2-.1 .4 .7 .6 2.2 1.9 10.5 1.7 5.2 1.6 4.2 1.3 2.9 1.2 1.5 .9 .6 3.5-.2 4-.6 36.2-7.5 22.3-3.4 12.1-1.3 9-.4 17.8 .1 20 .5 24.1 1 11.7 .8 13.8 1.5 66 7.8 28.4 3.9 24.7 4.1 21.3 4.9 32.6 5.5 16.3 3.4 15.9 3.9 14.2 4.1 8.9 3.2 11.5 4.9 10.1 4.8 11.3 6 33.6 20.3 14.8 8.5 6.9 3.8 10.9 5.1 6.9 2.8 5.8 1.7 7.6 1.5 10.8 1.2 228.4 0M119.7 936.8l359.8 0 6.9-.1 3.2-.5 1.6-.7 1.3-1.4 1-1.8 .9-3 .8-94.5 .4-11.4 .6-6.3 .3 .3 .6 1.9 2.1 11.4 2 5.7 1.5 4 1.1 2.4 1.2 1.6 .9 .4 3.5-.1 4-.7 36.3-7.4 22-3.4 12.3-1.3 8.8-.5 18.4 .1 19.8 .6 24.1 .9 11.9 .9 13.8 1.5 66 7.8 28.4 3.9 24.7 4.1 21.1 4.9 32.8 5.6 16.3 3.3 16 3.9 14.1 4.1 8.9 3.2 11.5 4.9 10.1 4.9 11.2 5.9 33.7 20.3 14.8 8.6 6.9 3.7 10.9 5.1 6.7 2.8 5.8 1.7 7.7 1.5 10.9 1.2 231.1 0M119.7 941.6l356.7 0 6.9-.1 3.3-.5 1.9-1.1 .8-.8 .7-1.3 1.2-3.2 .2-3 .7-94.7 .4-9.6 .4-4.9 .2-.5 .4 .4 .6 2 2.1 11.3 1.5 4.6 1.5 4.2 1.4 3 1.1 1.6 1 .6 3.4-.1 4.1-.6 29.5-6.2 6.9-1.3 22.1-3.4 12.2-1.3 8.9-.5 18.6 .1 19.7 .5 24.4 1 11.7 .9 13.8 1.5 65.9 7.8 28.4 3.8 24.8 4.1 21.3 5 32.6 5.5 16.3 3.4 15.9 3.8 14.2 4.1 8.8 3.2 11.5 4.9 10.2 4.9 11.3 6 33.7 20.3 14.8 8.6 6.9 3.7 10.9 5.1 6.9 2.8 6 1.8 7.5 1.4 10.5 1.2 234 0M119.7 946.4l353.8 0 6.7-.1 3.3-.5 1.5-.8 1.2-1.2 1-1.7 .9-2.9 1-99.6 .5-11.1 .2-1.5 .2-.3 .4 .5 .6 2.2 1.9 10.5 1.7 5.2 1.6 4.2 1.3 3 1.2 1.6 .9 .5 3.5-.2 4-.6 29.3-6.1 7.1-1.3 22.1-3.4 12.3-1.4 8.8-.4 19 .1 19.7 .5 24.4 1 11.9 .9 13.8 1.5 65.8 7.8 28.3 3.8 25 4.1 21.1 5 32.6 5.5 16.3 3.3 15.9 3.9 14.2 4.1 8.8 3.2 11.5 4.9 10.2 4.8 11.3 6.1 33.7 20.3 14.8 8.5 6.9 3.8 10.9 5.1 7 2.8 5.9 1.8 7.5 1.4 10.7 1.2 236.5 0M119.7 951.2l350.6 0 6.7-.1 3.2-.5 1.6-.7 1.3-1.4 1-1.8 .9-2.9 .8-91.8 .6-16.8 .2-2.4 .2-1.2 .2-.1 .3 .6 .6 2.3 1.9 10.5 1.8 5.2 1.5 4.1 1.3 2.9 1.2 1.6 .9 .5 3.5-.2 4-.6 36.3-7.4 22.2-3.4 12.3-1.4 8.8-.4 19.4 .1 19.7 .5 24.4 1 11.9 .9 13.8 1.4 66 7.9 28.2 3.8 24.9 4.1 21.3 5 32.6 5.5 16.1 3.3 15.9 3.9 14.4 4.1 8.8 3.2 11.5 4.9 10.2 4.9 11.3 6 33.8 20.3 14.7 8.6 6.9 3.7 11 5.1 6.9 2.8 5.9 1.8 7.5 1.4 10.5 1.2 239.2 0M119.7 956l347.5 0 6.7-.1 3.3-.5 1.5-.8 1.4-1.4 .9-1.8 1-3 .7-94.9 .4-11 .6-6.3 .4 .4 .6 1.9 2.1 11.4 1.7 5.1 1.5 4.2 1.2 2.5 1.1 1.7 1 .6 3.4-.2 4.1-.6 36.4-7.4 22.3-3.4 12.2-1.4 8.8-.4 20 .1 19.7 .5 24.4 1 11.9 .9 13.8 1.4 66 7.9 28.2 3.8 24.9 4.1 21.3 5 32.4 5.5 16.1 3.3 16.1 3.8 14.4 4.2 8.6 3.1 11.5 4.9 10.4 5 11.3 6 33.8 20.3 14.7 8.6 6.9 3.7 11 5.1 6.9 2.8 5.9 1.8 7.5 1.4 10.5 1.2 241.7 0M119.7 960.8l344.4 0 6.7-.1 3.3-.5 1.5-.8 1.2-1.2 1-1.7 .9-2.7 .2-4.3 .8-93.9 .5-12.2 .4-2.4 .4 .5 .6 2 2.1 11.3 1.5 4.6 1.6 4.2 1.3 2.9 1.2 1.7 .9 .6 3.5-.2 4-.6 29.3-6.1 7.1-1.4 22.3-3.3 12.3-1.4 8.8-.4 20.5 .1 19.8 .5 24.3 1 11.9 .9 13.8 1.4 66 7.9 28.2 3.8 24.9 4.1 21.3 5 32.6 5.5 15.9 3.2 16.1 3.9 14.4 4.2 8.6 3.1 11.5 4.9 10.4 4.9 11.3 6 33.8 20.4 14.7 8.5 6.9 3.8 11 5.1 6.9 2.8 5.9 1.7 7.7 1.5 10.3 1.2 244.2 0M119.7 965.6l341.4 0 6.7-.1 3.2-.6 1.6-.8 1.1-1.2 1-1.7 .9-2.8 .8-88.7 .4-15.8 .4-6.3 .2-1.5 .2-.3 .3 .6 .6 2.2 1.9 10.5 1.8 5.2 1.5 4.2 1.3 2.9 1.2 1.7 1 .5 3.4-.2 4-.6 29.4-6.1 7.1-1.4 22.2-3.4 12.3-1.3 8.8-.4 20.9 .1 19.8 .5 24.5 1 11.9 .8 13.8 1.5 66 7.9 28.2 3.7 25.1 4.2 21.3 5 32.4 5.4 15.7 3.3 16.1 3.8 14.6 4.2 8.6 3.1 11.5 4.9 10.4 5 11.3 6 34 20.4 14.7 8.6 6.9 3.7 11 5.1 6.9 2.8 5.9 1.8 7.7 1.4 10.3 1.2 246.5 0M119.7 970.4l338.3 0 6.7-.1 3.3-.6 1.5-.8 1.2-1.2 .9-1.8 1-2.9 .7-92.4 .6-16.4 .2-2.3 .2-1.2 .2-.1 .4 .7 .6 2.3 1.9 10.5 1.7 5.2 1.5 4.1 1.4 2.9 1.1 1.6 1 .5 3.4-.2 4.1-.6 36.2-7.5 22.4-3.4 12.3-1.3 8.8-.4 21.5 .1 19.8 .5 24.5 1 11.9 .8 13.8 1.5 66 7.8 28.2 3.8 25.1 4.2 21.3 4.9 32.4 5.5 15.7 3.2 16.1 3.9 14.6 4.2 8.8 3.2 11.5 4.9 10.2 4.8 11.3 6 34 20.5 14.7 8.5 6.9 3.8 11 5.1 6.9 2.8 5.9 1.7 7.7 1.5 10.3 1.2 249 0M119.7 975.2l335 0 6.8-.1 3.2-.6 1.5-.7 1.4-1.4 .9-1.8 1-3 .8-95.4 .4-10.7 .5-6.1 .4 .4 .6 1.9 2.1 11.3 1.7 5.2 1.6 4.1 1.1 2.5 1.2 1.7 .9 .7 3.5-.2 4-.6 29.5-6.2 7.1-1.3 22.3-3.4 12.3-1.3 8.8-.4 22 .1 19.8 .5 24.5 .9 11.9 .9 13.8 1.5 66 7.8 28.2 3.8 25.1 4.1 21.3 5 32.4 5.5 15.5 3.2 16.3 3.9 14.6 4.2 8.7 3.1 11.5 4.9 10.1 4.8 11.5 6.1 34 20.4 14.7 8.6 6.9 3.7 11 5.2 6.9 2.8 6.1 1.8 7.7 1.4 10.2 1.2 251.4 0M119.7 980l332 0 6.7-.2 3.2-.5 1.6-.8 1.1-1.1 1-1.7 .9-2.8 .2-5.5 .8-92.9 .6-12.1 .4-2.2 .3 .5 .6 2 1.9 10.6 1.8 5.3 1.5 4.2 1.3 2.9 1.2 1.7 1 .6 3.4-.2 4-.6 29.4-6.2 7.1-1.3 22.2-3.4 12.5-1.4 8.6-.3 22.8 .1 19.8 .5 24.5 .9 11.9 .9 13.8 1.5 66 7.8 28 3.8 25.3 4.1 21.5 5 32 5.4 15.6 3.2 16.5 4 14.5 4.2 8.7 3.1 11.5 4.8 10.1 4.9 11.5 6.1 34 20.4 14.8 8.6 6.9 3.7 10.9 5.2 6.9 2.8 6.1 1.8 7.7 1.4 10.2 1.2 253.9 0M119.7 984.7l328.9 0 6.7-.1 3.3-.5 1.5-.8 1.2-1.2 .9-1.7 1-2.9 .7-89.3 .4-15.3 .4-6.2 .2-1.5 .2-.2 .4 .6 .6 2.2 1.9 10.5 1.7 5.2 1.5 4.2 1.4 2.9 1.1 1.6 1 .6 3.4-.2 4.1-.6 29.3-6.2 7.1-1.3 22.2-3.4 12.5-1.4 8.6-.3 23.3 0 19.7 .5 24.6 1 11.8 .9 14 1.5 66 7.8 28 3.8 25.3 4.1 21.3 5 32.2 5.4 15.4 3.2 16.5 3.9 14.5 4.2 8.9 3.2 11.5 4.9 10.3 4.9 11.3 6 34 20.5 14.8 8.5 6.9 3.7 10.9 5.2 6.9 2.8 6.1 1.8 7.7 1.4 10.2 1.1 256.4 0M119.7 989.5l325.8 0 6.7-.1 3.3-.5 1.5-.9 1.2-1.2 1-1.8 .9-2.9 .8-92.8 .6-16 .1-2.3 .2-1.2 .2 0 .4 .7 .6 2.3 1.9 10.5 1.7 5.2 1.6 4.1 1.3 2.9 1.2 1.6 .9 .4 3.5-.1 4-.7 36.2-7.4 22.5-3.4 12.4-1.4 8.7-.4 23.4 .1 19.7 .5 24.8 1 11.9 .9 14 1.4 65.9 7.9 28 3.7 25.3 4.2 21.3 5 32.3 5.4 15.3 3.1 16.5 4 14.6 4.2 8.8 3.1 11.5 4.9 10.3 5 11.4 6 33.9 20.4 14.8 8.6 6.9 3.7 11.1 5.2 6.9 2.8 6.1 1.8 7.7 1.5 10 1 259.1 0M119.7 994.3l322.8 0 6.7-.1 3.2-.6 1.6-.8 1.1-1.3 1-1.8 .9-3 .8-95.8 .4-10.4 .6-5.9 .4 .4 .5 1.9 2.1 11.3 1.6 4.6 1.5 4.3 1.3 2.9 1.2 1.7 1 .6 3.4-.1 4-.6 29.6-6.2 7.1-1.4 22.2-3.3 12.5-1.4 8.6-.4 23.8 .1 19.9 .5 24.6 1 11.9 .9 13.8 1.4 66 7.8 28 3.8 25.3 4.2 21.4 5 32.1 5.4 15.3 3.1 16.5 3.9 14.6 4.2 8.8 3.2 11.5 4.9 10.4 4.9 11.5 6.1 33.9 20.5 14.8 8.5 6.9 3.7 10.9 5.2 6.9 2.8 6.2 1.8 7.6 1.4 10.2 1.1 261.8 0M119.7 999.1l319.9 0 6.7-.1 3.1-.6 1.5-.9 1.2-1.3 .9-1.8 .8-2.4 .2-6.8 .7-91.9 .6-11.8 .4-2.2 .4 .6 .6 2 1.9 10.6 1.7 5.3 1.5 4.2 1.4 2.9 1.1 1.7 1 .5 3.4-.1 4.1-.7 29.3-6.1 7.1-1.3 22.4-3.4 12.5-1.4 8.6-.4 24 .1 20 .5 24.5 1 11.9 .9 13.8 1.4 66 7.8 28 3.8 25.3 4.1 21.5 5.1 32 5.4 15.3 3.1 16.5 3.9 14.6 4.2 8.8 3.2 11.5 4.8 10.4 5 11.5 6.1 33.9 20.4 14.8 8.6 6.9 3.7 10.9 5.2 7 2.8 6.1 1.7 7.9 1.5 9.9 1.1 264.7 0M119.7 1003.9l316.6 0 6.7-.1 3.1-.5 1.5-.9 1.2-1.2 1-1.7 .9-2.8 .8-89.9 .4-14.9 .3-6.2 .2-1.4 .2-.1 .4 .6 .6 2.2 1.9 10.5 1.7 5.2 1.6 4.2 1.3 2.9 1.2 1.6 .9 .5 3.5-.2 4-.6 29.3-6.1 7.1-1.4 22.3-3.3 12.4-1.4 8.7-.4 24 .1 19.9 .5 24.7 1 11.9 .8 14 1.5 65.8 7.8 28 3.7 25.5 4.2 21.3 5 32.2 5.5 15.2 3 16.5 4 14.5 4.2 8.9 3.1 11.5 4.9 10.3 4.9 11.5 6.1 34.2 20.6 14.7 8.6 6.9 3.7 11 5.1 6.9 2.8 6.3 1.8 7.7 1.5 9.8 1 267.7 0M119.7 1008.7l313.6 0 6.7-.1 3-.6 1.6-.8 1.1-1.2 1-1.8 .9-2.9 .8-93.4 .4-12.2 .6-6.7 .4 .2 .5 1.9 2.1 11.4 2.1 6.2 1.4 3.6 1.1 2.4 1.2 1.5 1 .5 3.4-.2 4-.6 36.3-7.4 22.4-3.4 12.5-1.4 8.6-.4 24.2 .1 19.7 .5 24.8 1 11.9 .8 14 1.5 65.7 7.8 28 3.7 25.5 4.2 21.5 5 32.1 5.4 15.1 3.1 16.5 3.9 14.6 4.2 8.8 3.2 11.5 4.8 10.4 5 11.5 6.1 34.1 20.6 14.8 8.5 6.9 3.7 10.9 5.2 6.9 2.8 6.1 1.7 7.9 1.5 9.8 1.1 270.8 0M119.7 1013.5l310.5 0 6.7-.1 3.1-.6 1.5-.9 1.2-1.2 .9-1.8 1-3.1 .7-96.1 .4-10.2 .6-5.8 .4 .4 .6 2 2.1 11.3 1.5 4.6 1.5 4.2 1.4 3 1.1 1.7 1 .6 3.4-.2 4.1-.6 29.5-6.2 7.1-1.3 22.2-3.4 12.5-1.3 8.6-.4 24.2 .1 19.8 .5 24.7 1 11.9 .8 14 1.5 65.8 7.7 28 3.8 25.5 4.2 21.3 5 32.2 5.4 15.1 3.1 16.5 3.9 14.6 4.2 8.8 3.2 11.5 4.8 10.4 5 11.5 6.1 33.9 20.5 14.8 8.5 6.9 3.8 11.1 5.2 6.9 2.8 6.4 1.8 7.6 1.4 9.8 1.1 273.9 0M119.7 1018.3l307.4 0 6.7-.2 3.1-.5 1.5-.9 1.2-1.3 .9-1.9 .8-2.3 1-99.1 .5-11.5 .4-2.1 .4 .5 .6 2.1 1.9 10.6 1.7 5.3 1.6 4.2 1.3 2.9 1.2 1.6 .9 .6 3.5-.2 4-.6 29.3-6.1 7.1-1.4 22.3-3.4 12.5-1.3 8.6-.4 24 .1 19.9 .5 24.7 .9 11.9 .9 14 1.5 65.8 7.7 28 3.7 25.5 4.2 21.5 5 32 5.5 15.2 3 16.5 4 14.7 4.2 8.9 3.2 11.5 4.9 10.1 4.8 11.5 6.1 34.2 20.6 14.7 8.6 6.9 3.7 11.2 5.2 6.9 2.8 6.3 1.8 7.7 1.4 9.6 1.1 277.1 0M119.7 1023.1l304.4 0 6.7-.2 3-.6 1.6-.9 1.1-1.3 1-1.9 .7-2.4 .8-90.5 .4-14.4 .4-6.1 .2-1.3 .2-.2 .3 .7 .6 2.2 1.9 10.5 1.8 5.2 1.5 4.2 1.3 2.9 1.2 1.6 1 .5 3.4-.2 4-.6 29.4-6.2 7.1-1.3 22.2-3.4 12.5-1.3 8.6-.4 24 .1 19.9 .5 24.8 .9 11.9 .9 14 1.4 65.5 7.8 28 3.7 25.6 4.2 21.4 5 32.1 5.4 15.3 3.1 16.5 4 14.6 4.2 8.8 3.1 11.5 4.9 10.2 4.8 11.5 6.1 34.3 20.7 14.8 8.6 6.9 3.7 10.9 5.2 6.9 2.7 6.3 1.9 7.9 1.5 9.4 1 280.4 0M119.7 1027.9l301.3 0 6.7-.2 3.1-.6 1.5-.9 1.2-1.4 .9-1.9 .8-2.5 .7-93.9 .4-11.8 .6-6.6 .4 .3 .6 1.9 2.1 11.3 1.9 5.8 1.5 4 1.2 2.4 1.1 1.6 1 .5 3.4-.2 4.1-.6 36.2-7.5 22.4-3.4 12.5-1.4 8.6-.3 23.8 .1 20 .5 24.7 .9 11.9 .9 14 1.4 65.6 7.7 28 3.7 25.5 4.2 21.5 5 32 5.5 15.3 3.1 16.3 3.9 14.8 4.2 8.8 3.2 11.5 4.8 10.4 5 11.5 6.1 34.1 20.6 14.8 8.6 6.9 3.7 11.1 5.2 6.9 2.8 6.4 1.8 7.8 1.5 9.2 1 283.7 0M119.7 1032.7l298 0 6.7-.2 3.1-.5 1.5-.9 1.4-1.6 1.1-2.5 .6-2.5 .8-96.1 .4-9.9 .3-5 .2-.6 .4 .4 .6 2 2.1 11.3 1.5 4.6 1.6 4.2 1.3 3 1.2 1.7 .9 .6 3.5-.2 4-.6 29.5-6.2 7.1-1.3 22.3-3.4 12.4-1.4 8.7-.3 23.8 .1 19.9 .4 24.6 1 11.8 .9 14 1.4 65.6 7.7 28 3.7 25.5 4.2 21.5 5 32.2 5.4 15.2 3.1 16.3 3.9 14.8 4.2 8.8 3.2 11.5 4.9 10.3 4.9 11.5 6.1 34.2 20.6 14.7 8.6 7 3.8 11.1 5.2 6.9 2.8 6.3 1.8 7.9 1.5 9.2 1 286.9 0M119.7 1037.4l295 0 6.7-.1 3-.6 1.6-.8 1.1-1.4 1-1.8 .7-2.4 1-99.3 .6-11.3 .2-1.7 .2-.3 .4 .5 .5 2.1 1.9 10.6 1.8 5.2 1.5 4.2 1.3 3 1.2 1.6 1 .6 3.4-.2 4-.6 29.4-6.2 7.1-1.3 22.2-3.4 12.5-1.4 8.6-.3 23.6 0 20 .5 24.7 1 11.9 .8 14 1.5 65.6 7.6 28 3.7 25.7 4.2 21.3 5 32.2 5.5 15.1 3.1 16.5 3.9 14.8 4.2 8.8 3.2 11.5 4.9 10.2 4.8 11.5 6.2 34.3 20.7 14.6 8.5 6.9 3.7 11.1 5.3 6.9 2.7 6.5 1.9 7.9 1.5 9.2 .9 290 0M119.7 1042.2l291.9 0 6.7-.1 3.1-.6 1.5-.9 1.2-1.3 .9-2 .8-2.4 .7-91 .4-14 .4-6 .2-1.3 .2-.1 .4 .6 .6 2.3 1.9 10.5 1.7 5.2 1.5 4.1 1.4 2.9 1.1 1.6 1 .5 3.4-.1 4.1-.7 29.3-6.1 7.1-1.3 22.3-3.4 12.4-1.4 8.6-.4 23.6 .1 20 .5 24.7 1 11.9 .8 14 1.5 65.6 7.6 27.8 3.7 25.7 4.2 21.3 4.9 32.2 5.5 15.4 3.1 16.3 3.9 14.7 4.3 8.8 3.1 11.6 4.9 10.1 4.8 11.5 6.2 34.5 20.8 14.6 8.5 6.9 3.8 11 5.1 7.1 2.9 6.5 1.8 8 1.5 8.8 .9 293.3 0M119.7 1047l289 0 6.5-.1 3.1-.6 1.5-.9 1.2-1.4 .9-2 .8-2.5 .8-94.3 .4-11.5 .5-6.4 .4 .3 .6 1.9 2.1 11.3 1.9 5.8 1.6 4 1.1 2.4 1.2 1.6 .9 .4 3.5-.2 4-.6 36.2-7.4 22.5-3.4 12.3-1.4 8.8-.4 23.2 .1 19.9 .5 25 1 11.9 .8 14 1.4 65.5 7.6 27.8 3.7 25.7 4.2 21.5 5 32.1 5.4 15.3 3.1 16.3 3.9 14.8 4.3 8.8 3.1 11.5 4.9 10.2 4.8 11.5 6.1 34.7 21.1 14.4 8.3 7.1 3.9 10.9 5.1 7.1 2.9 6.7 1.9 7.9 1.4 8.6 .9 296.5 0M119.7 1051.8l285.9 0 6.6-.1 3-.7 1.8-1.1 1.3-1.9 1.2-3.2 .1-2.5 .8-95.1 .4-9.7 .4-4.8 .2-.7 .4 .5 .5 2 2.1 11.3 1.6 4.6 1.5 4.2 1.3 3 1.2 1.6 1 .6 3.4-.1 4-.7 29.6-6.1 6.9-1.3 22.4-3.4 12.3-1.4 8.6-.4 23.4 .1 20.2 .5 24.7 .9 11.9 .9 14.2 1.4 65.4 7.5 27.8 3.7 25.7 4.2 21.3 4.9 32.2 5.5 15.3 3.2 16.3 3.9 14.8 4.2 8.8 3.1 11.5 4.9 10.2 4.9 11.5 6.1 34.7 21 14.4 8.4 7.1 3.9 10.9 5.1 7.1 2.9 6.7 1.9 8.1 1.5 8.4 .8 299.6 0M119.7 1056.6l282.9 0 6.5-.1 3.1-.7 1.3-.8 1.2-1.3 .9-1.9 .8-2.3 .9-99.6 .6-11.2 .2-1.5 .2-.4 .4 .6 .6 2.1 1.9 10.5 1.7 5.3 1.5 4.2 1.4 2.9 1.1 1.7 1 .5 3.4-.2 4.1-.6 29.3-6.1 7.1-1.3 22.3-3.4 12.4-1.4 8.7-.4 23.3 .1 20.2 .5 24.7 .9 11.9 .9 14.2 1.4 65.2 7.4 27.8 3.6 25.9 4.3 21.5 5 32 5.4 15.2 3.1 16.3 3.9 14.7 4.2 9 3.2 11.6 4.9 10.1 4.8 11.5 6.2 34.7 21 14.4 8.5 7.1 3.8 10.9 5.2 7.1 2.8 6.9 2 8.3 1.5 7.9 .8 302.8 0M119.7 1061.4l279.8 0 6.5-.2 1.8-.2 1.3-.4 1.3-.8 1.2-1.4 .9-1.9 .8-2.4 .8-91.6 .6-17.1 .1-2.4 .2-1.2 .2-.1 .4 .6 .6 2.3 1.9 10.4 1.7 5.3 1.6 4.1 1.3 2.9 1.2 1.6 .9 .5 3.5-.2 4-.6 29.3-6.1 7.1-1.4 22.3-3.3 12.5-1.4 8.6-.4 23.6 .1 20.1 .5 24.7 .9 11.9 .8 14.2 1.5 65 7.3 27.9 3.6 25.8 4.2 21.5 5 32.2 5.5 15.2 3.1 16.3 3.9 14.8 4.2 9 3.3 11.5 4.8 10.1 4.9 11.6 6.1 34.7 21.1 14.3 8.5 7.1 3.8 11 5.2 7.1 2.8 6.9 2 8.2 1.5 7.9 .8 305.7 0M119.7 1066.2l276.5 0 6.6-.2 3-.6 1.6-.9 1.1-1.4 1-2 .7-2.4 .8-94.8 .4-11.2 .6-6.3 .4 .4 .5 1.9 2.1 11.3 2 5.8 1.5 4 1.1 2.4 1.2 1.5 1 .5 3.4-.2 3.8-.6 36.5-7.5 22.4-3.4 12.3-1.3 8.8-.4 23.4 .1 20.1 .4 25 1 12.1 .8 14.2 1.4 65 7.3 27.6 3.5 26.1 4.3 21.4 5 32.1 5.5 15.1 3 16.5 4 14.8 4.2 9 3.2 11.5 4.9 10.2 4.9 11.3 6 35.1 21.4 14.2 8.3 7.1 3.9 10.9 5.2 7.1 2.8 7.1 2 8.2 1.5 7.5 .8 308.8 0M119.7 1071l273.5 0 6.5-.2 3.1-.6 1.3-.8 1.2-1.3 .9-1.8 .8-2.3 .2-3.8 .7-94.2 .6-12.4 .4-2.4 .4 .5 .6 2 2.1 11.3 1.5 4.6 1.5 4.2 1.4 2.9 1.1 1.7 1 .6 3.4-.2 4.1-.6 29.3-6.1 7.1-1.4 22.4-3.4 12.3-1.3 8.7-.4 23.5 .1 20.4 .4 24.9 1 12.1 .8 14.2 1.4 64.8 7.1 27.6 3.5 13.1 2 13.2 2.3 21.5 5 32 5.5 15.1 3.1 16.3 3.9 15 4.3 9 3.2 11.7 4.9 10 4.8 11.3 6.1 35.1 21.4 14.2 8.3 7.1 3.9 10.9 5.2 7.1 2.9 7.3 2 8.2 1.6 7.3 .7 311.7 0M119.7 1075.8l270.4 0 6.5-.2 1.8-.2 1.3-.4 1.3-.8 1.2-1.3 1-1.9 .7-2.4 1-99.8 .6-11 .1-1.5 .2-.3 .4 .6 .6 2.1 1.9 10.5 1.7 5.3 1.6 4.2 1.3 2.9 1.2 1.6 .9 .6 3.5-.2 4-.6 29.3-6.2 7.1-1.3 22.3-3.4 12.5-1.3 8.6-.4 23.8 .1 20.3 .4 25.1 .9 12.1 .9 14.4 1.3 64.4 7.1 27.6 3.4 13.1 2 13.2 2.3 21.5 5 32 5.5 15.2 3.1 16.3 3.9 14.9 4.3 9.2 3.3 11.7 4.9 10 4.8 11.3 6.1 35.1 21.4 14 8.3 7.1 3.9 10.9 5.2 7.1 2.9 7.3 2.1 8.3 1.6 7.3 .7 314.5 0M119.7 1080.6l267.3 0 6.6-.2 1.7-.2 1.3-.5 1.4-.8 1.1-1.3 1-2 .7-2.4 .8-92.1 .6-16.6 .2-2.4 .2-1.2 .2-.1 .4 .7 .5 2.3 1.9 10.4 1.8 5.3 1.5 4.1 1.3 2.9 1.2 1.6 1 .5 3.4-.2 4-.6 29.4-6.2 7.1-1.3 22.2-3.4 12.5-1.3 8.6-.4 24 0 20.3 .5 25.1 .9 12.1 .8 14.4 1.4 64.4 6.9 27.5 3.4 13 2 13.4 2.3 21.5 4.9 32 5.6 15 3 16.5 3.9 15 4.3 9.2 3.3 11.8 5 10 4.8 11.1 6 35.3 21.7 14 8.3 7.1 3.9 11 5.2 7.1 2.9 7.4 2.1 8.1 1.6 7.1 .7 317.4 0M119.7 1085.4l264.3 0 6.5-.2 1.7-.3 1.4-.4 1.3-.8 1.2-1.4 .9-2 .8-2.5 .7-95.2 .4-10.9 .6-6.1 .4 .4 .6 1.9 2.1 11.3 1.7 5.2 1.5 4.1 1.2 2.5 1.1 1.7 1 .6 3.4-.1 4.1-.6 29.5-6.2 7.1-1.3 22.3-3.4 12.4-1.4 8.6-.3 24.2 0 20.5 .5 25.2 .9 12.2 .8 14.4 1.3 64.1 6.8 27.4 3.3 12.8 1.9 13.7 2.4 21.6 4.9 32.1 5.6 14.9 3.1 16.3 3.9 15 4.2 9.4 3.4 12.1 5.1 9.7 4.7 11.2 6.1 35.2 21.6 13.9 8.3 7.1 3.9 10.9 5.3 7.1 2.9 7.8 2.3 7.9 1.5 6.9 .7 320.3 0M119.7 1090.1l261.2 0 6.5-.1 1.8-.3 1.3-.4 1.3-.9 1-1.1 1-1.9 .7-2.3 .2-5 .8-93.3 .6-12.1 .3-2.3 .4 .5 .6 2 1.9 10.5 1.7 5.4 1.6 4.2 1.3 2.9 1.2 1.7 .9 .5 3.5-.1 4-.6 29.3-6.2 7.1-1.3 22.3-3.4 12.5-1.4 8.6-.3 24.3 0 20.8 .5 25.3 .8 12.2 .8 14.8 1.4 63.5 6.5 27.2 3.2 12.9 2 14 2.3 21.5 4.9 32.2 5.7 14.7 3 16.3 3.9 15.2 4.4 9.6 3.4 12.1 5.1 9.7 4.7 11 6 35.5 21.9 13.6 8.2 7.1 3.9 10.9 5.3 7.1 3 8 2.3 7.7 1.5 6.7 .6 323.2 0M119.7 1094.9l258.1 0 6.4-.1 1.7-.3 1.3-.4 1.4-.8 1.1-1.3 1-1.9 .8-2.4 .7-89 .4-15.5 .4-6.3 .2-1.5 .2-.2 .4 .6 .5 2.1 1.9 10.5 1.8 5.3 1.5 4.2 1.3 2.9 1.2 1.6 1 .5 3.4-.1 4-.6 29.4-6.2 7.1-1.3 22.2-3.4 12.5-1.4 8.6-.4 24.4 .1 20.9 .4 25.5 .9 12.5 .8 14.9 1.3 62.9 6.3 27.2 3.1 12.7 1.9 14.2 2.4 21.7 4.9 32.2 5.7 14.6 3 16.3 3.9 15.3 4.4 9.8 3.5 12.3 5.2 9.5 4.7 10.8 5.9 35.7 22.1 13.4 8.1 7.1 4 10.7 5.2 7.3 3.1 8.4 2.5 7.3 1.4 6.6 .6 326 0M119.7 1099.7l255.1 0 6.3-.1 1.7-.3 1.4-.4 1.3-.8 1.2-1.4 .9-1.9 .8-2.5 .8-92.6 .5-16.2 .2-2.3 .2-1.2 .2 0 .4 .7 .6 2.3 1.9 10.4 1.7 5.2 1.5 4.2 1.4 2.9 1.1 1.6 1 .4 3.4-.1 4.1-.7 29.3-6.1 7.1-1.3 22.3-3.4 12.4-1.4 8.7-.4 24.5 .1 21.3 .4 25.5 .8 12.7 .8 15.1 1.3 62.1 6 27.3 3.1 12.6 1.8 14.4 2.5 21.7 4.9 32.2 5.7 14.6 3 16.3 3.9 15.3 4.4 10 3.6 12.5 5.3 9.5 4.7 10.6 5.8 35.7 22.3 13.2 8 7.1 4 10.7 5.3 7.1 3 3.7 1.2 5.2 1.5 7 1.4 6.4 .6 328.9 0M119.7 1104.5l252 0 6.3-.1 1.8-.3 1.3-.4 1.3-.9 1.2-1.4 .9-2 .8-2.5 .8-95.6 .4-10.6 .5-5.9 .4 .3 .4 1.2 2.1 11.3 1.7 5.4 1.6 4.2 1.3 3 1.2 1.7 .9 .6 3.5-.1 4-.6 29.5-6.2 7.1-1.4 22.3-3.3 12.3-1.4 8.6-.4 24.7 .1 21.7 .4 25.7 .8 20.7 1.3 53.3 4.9 26.9 2.6 15.7 1.8 12.7 1.9 14.7 2.4 21.9 4.9 32 5.8 14.4 3 16.3 3.8 15.3 4.4 10.4 3.7 12.7 5.4 9.4 4.7 10.3 5.7 35.9 22.5 13 8 7.1 4.1 10.6 5.3 7.2 3.1 9.3 2.8 6.7 1.4 6.1 .6 331.8 0M119.7 1109.3l248.9 0 6.4-.2 1.7-.2 1.3-.5 1.4-.8 .9-1.2 1-1.8 .8-2.3 .1-6.4 .8-92.3 .6-11.9 .4-2.2 .4 .5 .5 2.1 1.9 10.5 1.8 5.4 1.5 4.2 1.4 2.9 1.1 1.6 1 .6 3.4-.2 4-.6 29.4-6.1 7.1-1.3 22.2-3.4 12.5-1.4 8.6-.4 24.8 .1 22.2 .3 25.9 .8 20.7 1.3 53.3 4.6 27.3 2.5 14.7 1.6 12.5 1.9 15.1 2.5 22.1 4.9 32 5.8 14.2 3 16.1 3.8 15.6 4.4 10.5 3.8 12.9 5.4 9.4 4.7 10.3 5.9 44.5 28 11.1 6.6 10.6 5.4 7.3 3.2 9.4 3 6.3 1.3 6.3 .6 334.5 0M119.7 1114.1l245.9 0 6.3-.2 1.7-.2 1.4-.5 1.3-.9 1-1.1 .9-2 .8-2.3 .8-89.7 .3-15 .4-6.2 .2-1.5 .2-.1 .4 .6 .6 2.1 1.9 10.5 1.7 5.3 1.5 4.2 1.4 2.9 1.1 1.6 1 .5 3.4-.2 4.1-.6 29.3-6.1 7.1-1.4 22.3-3.3 12.4-1.4 8.7-.4 24.7 0 22.8 .4 26.1 .7 20.7 1.2 53.1 4.3 28 2.4 13.6 1.5 12.3 1.7 15.7 2.7 22.3 4.9 31.8 5.8 14 2.9 16.1 3.9 15.8 4.5 11.1 4 12.6 5.3 9.3 4.7 10.3 5.9 11.5 7.2 33.2 21.3 10.7 6.4 10.4 5.3 7.3 3.3 9.8 3.2 5.9 1.3 6.1 .6 337.4 0M119.7 1118.9l242.8 0 6.3-.2 1.7-.3 1.4-.4 1.3-.9 1-1.2 1-2 .7-2.4 .8-93.2 .6-15.7 .2-2.3 .1-1.1 .2 0 .4 .7 .6 2.3 1.9 10.4 1.7 5.2 1.6 4.2 1.3 2.9 1.2 1.5 .9 .5 3.5-.2 4-.6 36.3-7.4 22.4-3.5 12.5-1.3 8.4-.4 25.1 0 24 .4 26.1 .6 20.7 1.2 53.1 3.8 28.8 2.3 11.9 1.3 12 1.7 16.2 2.7 22.8 5 31.4 5.9 13.6 2.8 16.2 3.8 15.9 4.6 11.5 4.1 12.6 5.4 9.4 4.8 10.4 6 12.8 8.1 31.5 20.5 10.3 6.2 10.4 5.5 7.3 3.3 10.2 3.6 5.5 1.3 6 .5 340.2 0M119.7 1123.7l239.7 0 6.4-.2 1.7-.3 1.3-.4 1.4-1 .9-1.2 1-2 .7-2.5 .8-96.1 .4-10.2 .6-5.9 .4 .4 .5 2 2.1 11.3 1.6 4.6 1.5 4.2 1.4 3 1.1 1.7 1 .6 3.4-.2 4-.6 29.6-6.2 7.1-1.3 22.2-3.4 12.5-1.3 8.4-.4 25.1 0 25.7 .3 26.1 .6 20.9 1.1 52.4 3.3 29.7 2.2 10 1 12.1 1.7 16.7 2.8 23.7 5.1 30.9 5.9 13.1 2.7 16.1 3.8 15.9 4.6 12.1 4.3 12.4 5.3 9.6 5 10.8 6.4 13.6 8.7 30.3 20.1 9.9 6 10.2 5.5 7.3 3.4 10.4 3.8 2.6 .8 2.5 .5 6 .5 342.9 0M119.7 1128.5l236.5 0 6.3-.2 1.7-.3 1.4-.4 1.3-.9 1-1.1 .9-1.9 .8-2.3 .9-99 .6-11.6 .4-2.1 .4 .5 .6 2.1 1.9 10.5 1.7 5.3 1.5 4.2 1.4 3 1.1 1.6 1 .6 3.4-.2 4.1-.6 29.3-6.1 7.1-1.4 22.5-3.4 12.4-1.3 8.5-.4 25.3 0 29.5 .3 24.9 .5 21.3 .9 51.2 2.8 28.2 1.8 9.8 1 11.9 1.6 17.4 2.9 26.3 5.6 41.1 8.1 16.1 3.9 16.1 4.6 12.6 4.5 7.1 2.9 5.2 2.4 10.4 5.5 12 7.4 11.2 7.2 30.3 20.5 9.9 6.2 9.8 5.4 7.3 3.5 10.4 4.1 2.7 .8 2.3 .4 5.9 .6 345.8 0M119.7 1133.3l233.6 0 6.1-.2 1.8-.3 1.3-.4 1.3-.9 1-1.2 1-1.9 .7-2.4 .8-90.3 .4-14.5 .4-6.1 .1-1.4 .2-.2 .4 .6 .6 2.2 1.9 10.5 1.7 5.3 1.6 4.2 1.3 2.9 1.2 1.6 .9 .5 3.5-.2 4-.6 29.3-6.2 7.1-1.3 22.7-3.4 12.4-1.4 8.3-.3 26.6 0 42.8 .4 15.9 .3 23.6 .9 47.2 2 25.1 1.4 9.8 .9 11.9 1.6 18.2 3 30.5 6.4 35.9 7.2 16.1 3.9 16.3 4.6 13.4 4.8 6.9 2.9 4.8 2.2 5.4 2.8 5.9 3.4 15.2 9.5 36.8 25.3 10.3 6.6 9.6 5.4 7.3 3.7 10.6 4.4 2.5 .8 2.1 .5 5.9 .5 348.5 0M119.7 1138.1l230.5 0 6.2-.2 1.7-.3 1.3-.5 1.4-.9 .9-1.2 1-1.9 .8-2.5 .7-93.7 .4-12 .6-6.6 .4 .3 .5 1.9 2.1 11.3 2 5.8 1.5 4 1.1 2.4 1.2 1.6 1 .5 3.4-.2 3.8-.6 29.6-6.2 7.3-1.3 22.8-3.5 13-1.4 7.7-.2 40.1 0 36.4 .2 25.3 .5 65.8 2.1 15.2 .6 9.6 .9 11.8 1.7 18.8 3 33.8 7.2 31.1 6.3 16.1 3.9 16.7 4.8 13.8 4.9 6.3 2.6 5 2.3 10.9 6.1 15.9 10.1 36.1 25.5 10.2 6.6 9.5 5.7 7.5 3.9 10.4 4.7 2.3 .8 2.1 .5 5.9 .5 351.2 0M119.7 1142.9l227.5-.1 6.1-.1 1.7-.3 1.4-.5 1.3-.9 1-1.3 .9-2 .8-2.5 .8-96.4 .3-10 .4-5 .2-.7 .4 .4 .6 2 2.1 11.3 1.9 5.7 1.5 4 1.2 2.4 1.1 1.5 1 .5 3.4-.2 3.9-.6 29.5-6.2 7.5-1.4 23.6-3.5 7.3-.9 6.5-.5 6.3-.2 87.7 .1 31.2 .2 30.7 .5 33.6 .8 7.8 .6 9.4 1.2 18.1 2.8 9.2 1.7 32 6.9 28.6 5.9 16.6 4 17.1 4.9 7.3 2.5 6.7 2.5 5.6 2.3 5 2.4 10.3 5.9 16.7 10.8 35.5 25.8 10 6.8 9.5 5.8 7.7 4.3 10.2 5 2.3 .9 1.9 .4 5.8 .5 354 0"/>
<path stroke="#0000ff" d="M119.7 1147.6l229 0 6.7-.1 3.3-.6 1.9-1 1.5-1.9 .6-41.1 .6-21 .7-9.7 .6-2.1 .6-.5 .7 .5 1.2 1.4 2.5 4.3 1.5 4 1.4 5.5 1.7 11.8 3.4 33.7 .8 5.3 1 4.7 .9 2.8 1.2 1.9 .7 .6 .8 .3 1.7-.1 4.3-1.4 3.8-.5 .2-.3 2.5-.5 1.7-.6 1.3-.9 1.2-1 1-1.4 .9-1.7 1.7-4.9 1.8-7.4 1.5-8.9 3.6-23.8 1.2-6.3 1.1-5.1 1.4-4.4 1.5-3.3 1.8-2.2 1.1-.9 1.2-.6 2.6-.7 3.9-.3 32.8-.2 5.1-.2 4.1-.4 4.2-.9 21.1-4.9 22.6-6.5 9.2-2.3 21.3-4 19.2-2.7 16.5-1.9 13.4-1.2 26.3-1.4 18.2-.4 7.9 .5 9.2 1.4 15.1 3.2 19.4 3.7 57.9 12.2 11.7 2.7 13.4 3.7 10.8 3.3 9.6 3.5 7.4 3.1 7.1 3.6 8.1 4.8 12.5 8 9 6.2 17.2 12.7 15.4 11.1 5.7 3.9 6.7 4.2 7.5 4.4 6.7 3.5 6.5 3 7 2.7 358.6 0M119.7 1152.4l224 0 6.7-.1 3.3-.5 1.9-1 1.5-1.8 .8-47 .4-13.1 .7-11 .6-2.5 .4-.6 .4-.1 .8 .3 1.3 1.4 3.1 4.1 1.5 3.2 1.3 4.7 1 5.3 1 7.6 2.4 27.4 1.2 10.4 1.3 7.3 .8 2.3 .8 1.5 .7 .9 1 .6 1.3 .4 1.6 .1 2.3-.1 4.8-.8 2.7-.2 17.6-.1 2.5-.2 .8-.3 .7-.5 1-1.5 .8-2.7 .5-3.5 1.2-13.7 1.7-32.7 .8-11.3 .6-5.3 .5-3.3 .8-2.2 1-1 1.1 0 1.9 .8 23.2 12.5 2.3 .9 1.8 .1 3.2-.8 15.7-5.2 11.5-3.6 22.9-6.2 27-9.1 10.8-3 10.5-2.6 22.8-4.6 8.5-1.5 7.8-1 28.2-2.7 10-.5 9-.2 7.9 .4 9.2 1.5 15.1 3.1 19.6 3.8 56.9 12 11.9 2.7 18.4 4.8 9.8 3 8.5 3 4.6 2 4.2 2.2 4.8 3 5.5 3.8 20 14.8 34.3 27.3 7.3 5.3 8.8 5.3 7.3 3.7 6.7 2.6 7.1 2 362.5 0M119.7 1157.2l219.2 0 6.7-.1 3.3-.6 1.9-1 1.5-1.9 .6-43.2 .6-19.1 .7-9 .6-2.1 .4-.5 .4-.1 .9 .4 1.6 1.4 2.1 2.1 1.5 1.9 1.8 3.2 1.1 3.9 1 5.2 .9 7.9 2.5 29.6 1 9 1.3 7.6 .8 2.2 .9 1.6 .8 .7 1.2 .5 3.4 .4 4.6-.1 8.8-.5 27.7-.1 .9-.5 .6-1.1 .6-2.7 .3-3.7 .8-15 1.2-36.8 .5-12.4 .8-7.2 .4-1.2 .6-.6 .7 .1 1.2 .7 23.4 18.3 2.1 1.3 .8 .2 .9 0 3.1-.8 15.9-5.5 12.3-3.9 24.5-7.2 22.1-8 6.9-2.4 13.6-4 13.4-3.3 15.9-3.5 13.1-2.2 26.3-2.9 9.2-.7 8.4-.2 7.9 .5 9.2 1.4 38.1 7.7 41.8 9 17.3 3.9 26.3 6.5 9.4 2.8 8 2.9 3.7 1.6 3.4 1.9 3.7 2.4 4.2 3.2 21.8 18.4 20.6 18.2 12.2 9.8 5.4 4 5.4 3.2 9.6 4.3 7.3 2.6 6.5 1.6 368.6 0M119.7 1162l214.4 0 6.5-.1 3.3-.6 1.9-1 1.5-1.8 .6-39.4 .6-21.2 .8-10.2 .5-2.4 .4-.7 .6-.2 1 .4 1.9 1.4 2.7 2.2 1.5 1.6 .9 1.4 .8 1.5 1.2 3.6 .9 5.2 .8 6.5 2.5 31.3 1.1 11.2 .6 3.7 .8 3.3 .7 1.9 .8 1.1 .8 .6 .9 .4 3.5 .3 17.8-.2 33.2-.1 1-.5 .5-1.3 .4-2.1 .4-4 .6-12.6 1.5-52.5 .6-7.1 .4-1.7 .6-.8 .5 .1 1.2 .9 23.9 21.2 2.2 1.4 1.5 .2 2.9-.7 16.1-5.7 12.4-4.1 24.4-7.3 22.4-8.5 6.9-2.4 8.1-2.5 19.4-5.3 9-2.2 7.8-1.6 18.1-2.7 17.8-2.1 7.3-.5 6.9-.2 6.7 .4 7.9 1.3 46 10.7 40.3 10.1 39.3 10.5 9.4 2.8 8 3 3.9 1.7 3.6 2 4 2.8 4.7 3.6 19.9 17.3 18.4 17.6 4 3.4 3.7 2.7 9.4 6.4 3.2 1.9 3.1 1.5 2.9 1.1 5.2 1.6 8.4 1.9 3.3 .4 3 .2 372.1 0M119.7 1166.8l209.6 0 6.5-.1 3.3-.6 1.9-1.1 1.4-1.5 .1-3.6 .6-42.1 .6-17.5 .8-8.5 .5-2 .4-.5 .6-.2 1.2 .5 2.3 1.4 2.8 2 1.8 1.5 .9 1.2 .8 1.4 1.1 3.4 1 5.4 .8 6.8 2.5 33.3 .9 9.6 1.2 6.5 .7 2.1 1 1.4 .8 .6 .9 .3 3.3 .3 60.6-.2 .7-.4 .6-1.1 .4-1.9 .4-3.7 .6-12.6 1.3-50.3 .6-9.4 .4-2.5 .5-1.1 .6 .1 1.2 .8 24.7 23 2.1 1.5 1.5 .3 2.9-.8 15.9-5.6 12.3-4.1 24.2-7.3 22.2-8.4 6.9-2.4 25.7-7.4 8.5-2.1 7.4-1.6 21.7-3.5 14.2-1.7 6.1-.5 5.8-.1 6.5 .5 7.3 1.3 31.8 9 33 10.3 62.9 19.3 7.3 2.4 6.3 2.5 5.2 2.3 3.9 2.2 4.4 2.9 5.2 4 18.4 15.7 4 3.9 11.7 11.9 3.6 3.3 3.3 2.4 3.8 2 5.4 1.8 9.4 2.5 8.2 1.7 6.6 .8 6.1 .3 376.1 0M119.7 1171.6l204.8 0 6.5-.2 3.3-.6 1.9-1.1 1.4-1.6 .5-42 .6-19.5 .4-6.2 .6-4.3 .5-1.7 .4-.4 .6-.2 1.2 .4 2.1 1.1 3.6 2.1 1.9 1.4 1 1 .8 1.1 1.1 3 1 4.9 .9 8.7 2.3 32.6 1 10.3 .6 4 .7 3.3 .8 1.9 1 1.1 .7 .4 1.2 .3 3.6 .2 59.5-.1 4.4-.1 2.7-.3 1.5-.4 1.1-.7 1-.9 1-1.4 .3-35.2 .6-26.3 .8-13.2 .6-3.5 .2-.7 .3-.5 .8 0 1.5 1.2 25.5 24.1 2 1.5 .7 .3 .8 0 2.9-.7 15.9-5.7 12.3-4.1 23.4-7 27.2-10.2 13.8-4.2 10.6-3 14.9-3.6 23.8-4.2 12.5-1.7 5.5-.4 5.2-.1 3.6 .2 3.9 .6 4 1.1 4.6 1.5 28 11.4 26.7 12.4 11.3 4.8 14.2 5.2 27.4 9.3 24.4 7.7 5.7 2.1 5.2 2.2 6.1 3.2 6.9 4.5 13.1 9.6 7.8 5.5 11.7 9.4 4.8 3.5 2.7 1.6 2.7 1.4 2.5 .9 2.3 .5 8.2 1.1 7.7 .7 7.3 .5 6.9 .2 380.7 0M119.7 1176.4l199.8 0 6.6-.2 3.2-.5 1.9-1.1 1.4-1.6 .7-47.8 .6-16.2 .4-5 .6-3.7 .6-1.4 .3-.3 .6-.1 1.4 .4 3.2 1.5 3.5 1.7 1.7 1.1 1 .8 .7 1.1 1.2 3 .9 5.1 .8 7 2.3 33.9 1 10.9 .5 4.1 .8 3.5 .8 1.8 .9 1.2 1.7 .6 3.9 .2 67.9 0 4.8-.1 2.7-.3 1.5-.4 1.3-.8 1-.9 .9-1.3 .4-35.3 .6-26.3 .8-13.2 .6-3.5 .1-.7 .4-.5 .8 0 1.5 1.2 26.5 25.4 2.1 1.6 1.3 .3 2.9-.8 15.4-5.3 11.9-3.8 23.7-6.8 21.9-7.9 3.6-1.1 12.5-3.8 10.7-3 13.5-3.2 25.1-4.8 11.1-1.5 9.8-.5 4.6 .4 5 1.3 5.4 2.2 6.3 3.3 20.7 12.4 3.8 2.4 6.4 4.6 14 10.7 6.5 4.6 5.5 3.3 6.8 3.1 11.5 4.6 14.3 4.8 15.8 5 22.8 6.3 10.4 3.3 7.8 3.2 18 8.3 16.7 6.6 8.8 3.1 3.9 1 3.4 .7 15.4 1.5 12.3 .6 384.3 0M119.7 1181.2l195.2 0 6.4-.2 3.2-.6 1.6-.8 1.3-1.4 .2-.3 .2-2 .6-42.8 .5-17.9 .4-5.7 .6-4.1 .8-1.9 .3-.3 .6-.1 1.4 .4 3.2 1.2 6 2.7 .9 .7 .8 1 1.1 2.6 1 4.7 1 8.9 2.3 35.4 .9 10.4 .6 3.8 .6 2.5 .7 1.9 1 1.1 1.7 .6 3.9 .2 74.6 0 6.5-.1 3.2-.3 1.6-.4 1.3-.8 1-.9 .9-1.3 .4-35.3 .6-26.3 .8-13.2 .5-3.5 .2-.7 .4-.5 .4-.1 .6 .2 1.5 1.3 27.4 26.4 1.9 1.5 .8 .3 .8 .1 2.9-.8 14.7-5.1 11.7-3.7 22.8-6.6 29.6-10.3 13.6-4.3 23-6.1 8.6-2 9.1-1.4 7.8-.5 2.1 .3 2.5 1.2 6.7 4.3 10.2 5.3 5.9 4 8.3 6.6 19.5 17.3 10 8.2 12.7 10.8 7.1 5.2 3 1.9 3.1 1.6 6.9 2.6 7.5 2.5 8.2 2.2 9.8 2.3 19 3.9 28.8 4.9 20.1 4 8.5 1.4 14.7 1.9 10.2 1 9.4 .6 13.2 .4 395.1 0M119.7 1186l190.4 0 6.4-.2 3.2-.6 1.8-1.1 1.3-1.6 .6-41.2 .7-23.5 .4-4.8 .6-3.4 .8-1.5 .9-.3 1.6 .3 5.5 1.9 4.4 1.8 1 .6 .8 .9 1.1 2.8 1 5 .7 7.2 2.3 36.3 1 11 .6 4 .7 3.2 .8 1.6 1 .9 1.7 .5 4 .2 83.2 0 6.6-.1 3.2-.3 1.6-.5 1.1-.6 1-.8 .9-1.3 .6-39.2 .6-24.1 .7-12.1 .6-3.3 .6-1 .4 0 .6 .2 1.5 1.3 27.2 26.3 2.1 1.6 1.4 .3 2.9-.6 18.7-6.5 50.9-16.5 17.8-6.8 6-2.1 4.4-1.2 4-.9 3.8-.5 3.7-.2 3.2 .2 3.3 .4 3.6 .8 3.9 1.1 7.8 2.9 2.1 1.2 2.3 1.7 4.3 4 7.8 8.6 9.6 12.7 15.2 18.1 5.9 6.2 5.2 4.2 7.1 4.6 6.5 4 5.9 3.3 5.6 2.7 5.4 2.2 5 1.7 5 1.3 4.7 .8 9.3 1.1 9.9 .9 27.4 1.5 55.1 2 32.4 .6 415.8 .1M119.7 1190.8l185.5 0 6.3-.2 3.2-.6 1.8-1 1.3-1.6 .8-47.1 .6-16.6 .3-5.2 .6-3.9 .8-1.7 .9-.5 3.7 .9 6.5 1.9 2.3 .8 1 .6 .7 .8 1.2 2.4 .9 4.7 1 9.2 2.1 34.6 1 11.6 .5 4.3 .8 3.3 .8 1.7 .9 .9 2 .6 4.4 .1 91.6 0 6.9-.1 3.3-.4 1.3-.5 1.2-.7 .9-.9 .8-1.1 .6-42.6 .6-22.2 .7-11.1 .6-3 .4-.7 .4-.2 .7 .3 1.6 1.3 26.6 25.7 2.3 2 1.4 .5 1.1-.2 1.8-.4 16.4-5.8 12.5-4 19.4-5.2 14.9-4.3 6.4-1.6 6.7-1 6.1-.2 6.2 .7 5.5 1.5 4.4 1.9 4.4 2.6 4.3 3.2 4.4 4.1 3.8 4.1 4.2 5 14.4 18.6 6.1 7.5 6.6 6.8 3.2 2.9 3.3 2.6 3.8 2.7 4.1 2.3 4.2 2 4.4 1.7 4.8 1.5 5 1.2 5.5 .9 6.4 .8 9.7 .8 12.1 .5 37.6 .4 523.2 .1M119.7 1195.6l180.7-.1 6.3-.1 1.9-.3 1.3-.4 1.8-1 1.3-1.7 .6-43.7 .6-18.5 .3-5.8 .6-4.3 .8-2.1 .6-.4 .5-.1 4.1 .8 9.2 2.4 .9 .5 .8 .7 1.2 2.2 .9 4.4 1 8.8 2.3 38 .9 11 .6 3.9 .6 2.4 .7 1.7 1.2 1.1 2.1 .5 6.3 .1 98.4 0 6.9-.2 3.3-.4 1.3-.4 1.2-.7 .9-1 .8-1.1 .6-45.7 .6-20.4 .7-10.2 .6-2.7 .4-.6 .4-.1 .7 .3 1.6 1.3 26.4 25.6 2.1 1.8 1.4 .7 1.1 0 1.8-.4 14-4.8 9.2-2.9 6.3-1.6 5.4-1 6.1-.6 5.6 .2 4.8 1 4.2 1.7 2.9 1.8 2.6 2.2 2.7 2.7 2.7 3.4 4.8 7.2 9.2 15.9 4 6.4 4.4 6 4.3 4.6 2.6 2.4 2.7 1.9 2.9 1.7 3.1 1.4 3.2 1.1 3.7 1 4 .8 4.6 .5 6.7 .6 8.7 .3 28.1 .2 605.9 .1M119.7 1200.3l176.1 0 6.1-.1 1.9-.3 1.4-.4 1.5-1 1.3-1.6 .6-40.4 .8-24.1 .4-4.9 .5-3.6 .8-1.7 .6-.4 .5-.1 9.8 1.9 4.4 1.1 1 .5 .8 .7 .5 .9 .6 1.5 1 4.7 .7 7.2 2.3 38.5 1 11.5 .6 4.1 .6 2.5 .7 1.9 1.2 1.1 1.9 .5 5.2 0 108.5 0 6.9-.1 3.3-.3 1.3-.5 1.2-.6 .9-.9 .8-1.1 .8-48.8 .5-18.7 .8-9.4 .6-2.5 .4-.4 .3-.1 .8 .3 1.6 1.4 26 25.2 2.1 1.9 1.4 .8 1.1 .1 1.8-.4 17.4-6 7.9-2.2 2.7-.4 2.1 .1 1.9 .6 1.5 1.1 1.6 1.6 1.3 2.2 1.3 3 1.2 3.2 2.3 8.5 5.4 23.1 1.7 5.8 1.7 4.4 1.2 2.2 1.1 1.7 1.2 1.3 1.3 1.2 1.5 .9 1.8 .7 4.2 .8 6.1 .3 13.5 0 682.9 0M119.7 1205.1l171.1 0 6.1-.1 1.9-.3 1.4-.4 1.5-.9 1.3-1.6 .8-46.4 .6-17.1 .4-5.4 .5-4 .8-1.9 .6-.4 .8-.2 10.7 1.8 4.2 .9 1 .4 .7 .7 .6 .8 .6 1.3 .9 4.4 1 9.2 2.1 36.4 1 12.2 .5 4.3 .8 3.3 .8 1.6 1.1 1 1.6 .3 3.4 .1 133.5 0 1-51 .9-27.1 .6-6.7 1.7 .3 1.7 .8 2 1.3 2.1 1.9 2.7 3 6.5 7.8 5.3 5.8 9.6 12 2.9 2.9 2.7 1.9 1.3 .5 1.2 .3 1 0 .7-.4 1.6-1.4 7.4-8.7 1.6-1 .7-.1 .4 .3 1.2 2.2 1.9 5.6 2.5 11 5.5 22.9 1.8 5.9 2.3 4.6 1.1 1.6 1 1 3.6 1.9 3.5 .9 718.4 0M119.7 1209.9l166.3 0 6.1-.2 1.9-.3 1.4-.4 1.5-1 1.3-1.6 .6-43 .8-22.4 .4-4.5 .5-3.3 .8-1.6 .6-.4 .8-.1 11.7 1.6 4 .8 .9 .4 .8 .5 .6 .8 .6 1.2 .9 4.1 1 8.8 2.3 39.7 .9 11.4 .6 3.9 .6 2.4 .8 1.7 1.1 1 1.5 .4 3.3 .1 123.9 0 10.7 0 4.3-.5 1.3-.4 1.1-.7 1-1 .8-1.1 .5-44.7 .6-20.9 .4-6.8 .6-5 .6-2 .3-.4 .4-.1 1 .4 1.5 1.1 23.8 18.4 3.1 2.8 1.7 2.5 .8 1.7 .7 2.5 1.2 6 .9 7.7 2.5 25.3 1.4 8.6 .9 3.2 1 1.7 1.3 1.1 1.9 .5 8.3 .1 737.6 0M119.7 1214.7l161.7 0 6.1-.2 1.7-.3 1.4-.4 1.5-1.1 1.2-1.4 .5-39.6 .8-24.8 .6-6.6 .6-2.8 .7-1.3 .6-.3 .8-.1 12.2 1.5 3.5 .6 .9 .4 .8 .6 .6 .8 .6 1.3 .9 4.6 .8 7.1 2.3 39.9 1 12 .5 4.1 .8 3.2 .8 1.5 1.1 .9 1.5 .3 3.3 .1 135 0 9.6-.1 3.8-.4 1.4-.4 1.1-.6 1-.9 .8-1.1 .2-2.6 .5-45.3 .6-19.2 .4-6.2 .6-4.6 .5-1.8 .4-.3 .4-.1 1 .4 1.5 1.1 23.2 18 3.1 2.8 1.7 2.5 .8 1.8 .7 2.5 1.2 6 .9 7.8 2.5 25.5 1.4 8.6 .9 3.2 1 1.7 1.3 1.1 2 .5 8.2 .1 733.2 0M119.7 1219.5l156.7 0 6.1-.2 1.7-.3 1.4-.4 1.5-1 1.2-1.4 .7-45.8 .8-20.6 .6-5.5 .6-2.3 .7-1.1 1.4-.4 12.1 1.2 3.4 .6 1 .3 .7 .5 .6 .8 .6 1.2 .9 4.3 1 9.2 2.1 37.6 1 12.5 .5 4.5 .8 3.3 .8 1.6 1.1 1 1.6 .3 3.4 .1 144.4 0 9.8-.1 4-.4 1.4-.4 1.1-.7 1-.9 .8-1.1 .5-40.4 .6-23.5 .4-7.5 .6-5.6 .5-2.4 .4-.4 .4-.2 1 .3 1.5 1.1 22.8 17.7 3.1 2.8 1.7 2.5 .8 1.8 .7 2.5 1.2 6.1 1.1 9.7 2.2 22.1 .7 6.1 .8 4.2 1 3.3 .9 1.7 1.4 1.1 1.9 .5 8.2 .1 728.8 0M119.7 1224.3l151.9 0 6.1-.2 1.8-.3 1.3-.5 1.5-1 1.2-1.5 .6-42.3 .3-14.7 .6-10.9 .6-4.5 .6-2 .7-.9 1.4-.3 12.4 1.1 3.1 .4 1 .4 .7 .6 .6 .8 .6 1.4 .9 4.7 .8 7.5 2.3 40.8 1 11.8 .5 4 .8 2.9 .8 1.5 1.1 .8 1.6 .3 3.4 .1 154.8 0 9.2-.1 3.8-.4 1.4-.4 1.1-.6 1-.9 .9-1.3 .6-43.7 .6-21.5 .4-6.9 .5-5.2 .6-2.1 .4-.4 .4-.1 .9 .4 1.6 1 22.2 17.3 3.1 2.8 1.7 2.5 .8 1.8 .8 2.5 1.1 6.2 1.2 9.8 2.1 22.2 .7 6.1 .8 4.3 1 3.2 .9 1.8 1.4 1.1 1.9 .4 8.2 .2 724.4 0M119.7 1229.1l147.3 0 5.9-.3 1.8-.3 1.3-.5 1.3-.9 1.2-1.4 .8-48.1 .3-12.2 .6-9 .6-3.8 .6-1.6 .7-.8 1.4-.2 12.3 .9 3 .3 1 .4 .7 .5 .6 .8 .6 1.3 1 4.4 .9 9.6 2.1 38.3 1 12.3 .6 4.3 .7 3.1 1 1.8 1.1 .8 1.6 .2 3.4 .1 165.7 0 8.3-.1 3.6-.4 1.4-.4 1.1-.6 1-.9 .9-1.4 .6-46.6 .6-19.8 .4-6.4 .5-4.7 .6-1.9 .4-.3 .4-.1 .9 .4 1.6 1.1 21.8 17 2.9 2.6 1.7 2.5 .8 1.8 .8 2.6 1.1 6.2 1.2 9.8 2.1 22.4 .7 6.2 .8 4.3 1 3.2 .9 1.8 1.4 1.1 1.9 .4 8.2 .2 720 0M119.7 1233.9l142.3 0 5.9-.3 1.8-.3 1.3-.4 1.4-.9 1.1-1.4 .2-3 .6-42.2 .4-13.5 .5-10 .6-4.3 .6-1.7 .8-.9 1.5-.3 12.5 .8 2.8 .3 1 .4 .8 .6 .5 .8 .6 1.4 1 5 .7 7.8 2.3 41.4 1 11.5 .6 3.8 .7 2.9 .8 1.3 1.2 .8 1.5 .3 3.4 .1 174.6 0 9-.1 3.8-.4 1.3-.4 1.2-.6 1-.8 .9-1.3 .6-39.2 .6-24.2 .4-7.8 .5-5.8 .6-2.4 .4-.5 .4-.1 .9 .3 1.6 1.1 21.3 16.5 3 2.8 1.7 2.5 .8 1.8 .8 2.6 1.1 6.3 1 8 2.3 24.5 .8 6.1 .7 4.3 1 3.3 .9 1.7 1.4 1.1 1.9 .5 8.2 .2 715.6 0M119.7 1238.7l137.5 0 6-.3 1.7-.3 1.3-.5 1.4-1 1.1-1.4 .8-50.2 .4-11.2 .5-8.4 .6-3.5 .6-1.5 .8-.7 1.5-.2 12.3 .6 2.8 .3 1 .3 .8 .6 .5 .7 .6 1.4 1 4.6 .7 7.5 2.3 41.4 1 12 .6 4.1 .7 3 1 1.7 1.2 .7 1.5 .2 3.6 .1 184.9 0 8.4-.1 3.7-.4 1.3-.4 1.2-.6 .9-.9 1-1.3 .6-42.6 .6-22.2 .3-7.1 .6-5.3 .6-2.2 .4-.4 .4-.1 .9 .3 1.5 1.1 21 16.2 2.8 2.7 1.8 2.5 .7 1.8 .8 2.7 1.1 6.3 1 8.1 2.3 24.6 .8 6.2 .7 4.3 1 3.3 1 1.7 1.3 1.1 1.9 .5 8.3 .2 711.1 0M119.7 1243.5l132.9-.1 5.8-.2 1.7-.3 1.3-.6 1.4-1 .9-1.2 .8-47.5 .4-12.4 .6-9.3 .5-4 .6-1.6 1-.9 1.5-.2 15 .8 .9 .3 .8 .5 .6 .7 .5 1.3 1 4.3 .9 9.6 2.2 38.8 .9 12.5 .6 4.4 .8 3.2 .9 1.8 1.2 .7 1.5 .3 3.6 .1 193.9 0 9.1-.1 3.8-.4 1.5-.4 1.2-.7 .9-.8 1-1.4 .6-45.7 .5-20.3 .4-6.6 .6-4.8 .6-2 .4-.4 .3 0 1 .3 1.5 1.1 20.6 16 2.8 2.7 1.8 2.7 .7 2 .8 2.9 1.1 7 3.1 31.5 1.4 9.6 .9 3.7 1 2 1.3 1.3 2.1 .6 8.3 .2 706.7 0M119.7 1248.3l128.1-.1 5.8-.2 1.7-.4 1.3-.6 1.2-.8 .9-1.2 .2-1.4 .6-43.1 .4-13.8 .6-10.3 .5-4.4 .6-1.8 .4-.6 .6-.4 1.7-.2 12.1 .4 2.9 .3 .9 .3 .8 .6 .6 .8 .5 1.4 1 4.8 .8 7.8 2.3 41.9 .9 11.6 .6 3.9 .8 2.9 .9 1.6 1.2 .7 1.5 .2 3.7 .1 204.4 0 8.4-.1 3.7-.4 1.3-.4 1.2-.6 .9-.8 1-1.3 .8-48.8 .5-18.7 .8-9.4 .6-2.5 .4-.5 .3-.1 1 .3 1.5 1 20.2 15.7 2.8 2.7 1.8 2.8 .7 2 .8 2.9 1.2 7 3 31.7 1.4 9.7 .9 3.7 1 2 1.3 1.3 2.1 .6 8.3 .2 702.3 0M119.7 1253l123.3 0 5.6-.2 1.7-.4 1.3-.5 1.4-1.1 .9-1.2 .8-49.6 .4-11.5 .6-8.6 .5-3.6 .6-1.6 1-.8 1.7-.2 14.8 .6 .9 .3 .8 .6 .6 .7 .6 1.3 .9 4.6 .8 7.4 2.3 41.7 .9 12.2 .6 4.2 .8 3 .9 1.7 1.2 .7 1.5 .3 3.7 0 214 0 8.6 0 3.9-.4 1.3-.4 1.2-.6 .9-.9 1-1.3 .5-41.5 .6-22.8 .4-7.4 .6-5.4 .6-2.3 .3-.4 .4-.1 1 .3 1.5 1.1 19.6 15.2 2.9 2.7 1.7 2.8 .7 2 .8 2.9 1.2 7.1 3 31.9 1.4 9.8 .9 3.7 1 2 1.3 1.3 2.1 .6 8.3 .1 697.9 0M119.7 1257.8l118.5 0 5.6-.3 1.7-.3 1.4-.6 1.1-.9 1-1.2 .7-46.9 .4-12.7 .6-9.5 .6-4.1 .5-1.7 1-.9 1.9-.2 14.6 .5 .9 .3 .8 .5 .6 .7 .6 1.2 .9 4.3 1 9.5 2.1 39 1.1 14.4 .6 3.8 .8 2.7 .9 1.5 1.2 .7 1.5 .2 3.7 0 223.8 0 8.6 0 3.7-.4 1.5-.4 1.1-.7 1-.8 1-1.4 .5-44.7 .6-20.9 .4-6.7 .6-5.1 .5-2 .4-.4 .4-.1 1 .4 1.5 1.1 19.2 14.9 2.7 2.6 1.7 2.8 .8 2 .7 3 1.2 7.1 3 32.2 1.4 9.7 .9 3.8 1 2 1.3 1.3 2.2 .6 8.2 .1 693.5 0M119.7 1262.6l113.7 0 5.6-.3 1.7-.4 1.4-.6 1.1-.9 1-1.3 .7-51.6 .4-10.6 .6-7.9 .6-3.4 .5-1.4 1-.8 1.9-.2 11.9 .3 2.7 .2 1 .3 .7 .6 .6 .8 .6 1.3 .9 4.8 .8 7.8 2.3 42 1 11.9 .5 3.9 .8 3 1 1.6 1.1 .6 1.7 .3 3.7 0 233.4 0 8.6 0 3.8-.4 1.4-.4 1.1-.6 1-.8 1-1.3 .1-2.6 .6-45.3 .6-19.2 .4-6.2 .6-4.6 .5-1.8 .4-.3 .4-.1 1 .4 1.5 1.1 18.6 14.5 2.7 2.6 1.7 2.8 .8 2 .7 3 1.2 7.2 3.1 32.4 1.3 9.8 1 3.8 .9 2 1.4 1.3 2.1 .6 8.2 .1 689.1 0M119.7 1267.4l109.1 0 5.6-.3 1.5-.4 1.4-.7 .9-.8 1-1.2 .7-49.1 .4-11.7 .6-8.8 .6-3.7 .6-1.6 .9-.9 1.9-.2 14.6 .4 1 .3 .7 .5 .6 .8 .6 1.2 .9 4.5 .8 7.4 2.3 41.8 1 12.4 .5 4.2 .8 3.2 1 1.7 1.3 .8 1.7 .2 3.7 0 243.2 0 8.6-.1 3.6-.3 1.6-.4 1.1-.6 1-.9 .9-1.3 .6-40.4 .6-23.5 .4-7.5 .5-5.6 .6-2.4 .4-.4 .4-.2 .8 .2 1.5 1.1 18.6 14.4 2.9 2.7 1.7 2.7 .8 1.9 .7 2.8 1.2 6.7 .9 8.6 2.3 25.4 1.4 9.6 .9 3.6 1 2 1.3 1.2 2.2 .6 8.2 .1 684.1 0M119.7 1272.2l104.1 0 5.6-.3 1.5-.4 1.4-.6 .9-.8 1-1.2 .8-46.3 .3-13 .6-9.7 .6-4.1 .6-1.8 .9-1 2.1-.2 11.9 .2 2.7 .2 1 .3 .7 .6 .6 .8 .6 1.4 .9 5.1 .8 8 2.3 42.3 1 11.5 .6 3.8 .7 2.8 1 1.5 1.1 .6 1.8 .3 3.6 0 253 0 8.6-.1 3.8-.3 1.6-.5 1.1-.6 1-.9 .9-1.3 .6-43.7 .6-21.5 .4-6.9 .5-5.2 .6-2.1 .4-.4 .4-.1 .9 .4 1.6 1 18.6 14.5 2.7 2.6 1.7 2.7 .8 2 .7 2.9 1.2 6.9 .9 8.7 2.3 25.3 1.4 9.3 .9 3.6 1 1.8 1.3 1.2 1.9 .5 8.3 .2 679.3 0M119.7 1277l99.5 0 5.4-.4 1.5-.4 1.4-.6 .9-.9 1-1.2 .8-51.1 .3-10.8 .6-8.1 .6-3.5 .6-1.4 .9-.8 2.1-.2 11.7 .1 2.7 .2 1 .3 .8 .5 .5 .8 .6 1.4 1 4.7 .7 7.6 2.3 42.2 1 12 .6 4 .7 3 1 1.6 1.3 .8 1.8 .2 3.6 0 262.6 0 8.6-.1 3.8-.3 1.6-.4 1.3-.7 1-.9 .9-1.4 .6-46.6 .6-19.8 .3-6.4 .6-4.7 .6-1.9 .4-.3 .4-.1 .9 .4 1.6 1.1 18.6 14.5 2.6 2.5 1.8 2.8 .7 2 .8 3 1.2 7.1 3 32.4 1.4 9.9 .9 3.8 1 2 1.3 1.3 2.1 .6 8.3 .2 674.3 0M119.7 1281.8l94.7 0 5.4-.4 1.5-.4 1.4-.7 .9-.9 .8-1 .8-48.5 .4-12 .5-9 .6-3.8 .8-1.9 .9-.7 2.1-.2 14.2 .4 1 .2 .8 .5 .5 .7 .6 1.3 1 4.4 .9 9.8 2.1 39.4 1 12.5 .6 4.3 .7 3.2 1 1.7 1.3 .8 1.8 .2 3.6 .1 272.3 0 8.9-.1 3.8-.3 1.5-.4 1.2-.7 .9-.8 1-1.3 .6-39.2 .6-24.2 .3-7.8 .6-5.7 .6-2.5 .4-.5 .4-.1 .9 .3 1.6 1.1 18.7 14.6 2.7 2.6 1.8 2.8 1.3 4.3 1.1 6.7 1 8.5 2.3 25.4 1.4 9.6 .9 3.7 1 2 1.3 1.3 2.1 .5 8.3 .2 669.3 0M119.7 1286.6l90.1-.1 5.2-.3 1.5-.5 1.4-.7 1.5-1.7 .2-4.1 .6-41.5 .4-13.4 .6-9.9 .5-4.2 .8-2.1 .6-.6 .5-.2 2.2-.2 11.5 .1 2.6 .2 1 .3 .8 .6 .5 .8 .6 1.4 1 5 .7 8 2.4 42.3 .9 11.6 .6 3.9 .8 2.8 .9 1.6 1.4 .6 1.7 .2 3.8 .1 282.5 0 8.4-.1 3.7-.3 1.5-.5 1.2-.6 .9-.9 1-1.3 .6-42.6 .5-22.2 .4-7.1 .6-5.3 .6-2.2 .4-.4 .3-.1 1 .3 1.5 1.1 18.6 14.5 2.7 2.5 1.8 2.7 .7 2 .8 2.8 1.1 6.9 1 8.7 2.3 25.3 1.3 9.4 1 3.6 1 1.9 1.3 1.2 1.9 .5 8.3 .2 664.5 0M119.7 1291.4l85.3-.1 5.2-.4 1.6-.4 1.3-.8 1.5-1.8 .8-50.6 .4-11.1 .6-8.2 .5-3.5 .8-1.8 1.2-.7 2.1-.1 14 .3 .9 .2 .8 .6 .6 .7 .5 1.3 1 4.7 .8 7.6 2.3 42.2 .9 12.1 .6 4.1 .8 3 .9 1.7 1.4 .7 1.7 .2 3.8 .1 291.7 0 8.8-.1 3.9-.3 1.5-.4 1.4-.8 .9-.8 1-1.4 .6-45.7 .5-20.3 .4-6.6 .6-4.8 .6-2 .3-.3 .4-.1 1 .4 1.5 1 18.6 14.5 2.7 2.6 1.7 2.7 .8 2.1 .8 2.9 1.1 7 3.1 32.4 .8 6.4 .7 4.5 1 3.4 .9 1.8 1.4 1.2 1.9 .5 8.2 .2 659.6 0M119.7 1296.2l80.7-.1 5-.4 1.6-.5 1.3-.8 1.3-1.6 .8-47.9 .4-12.3 .6-9.2 .5-3.9 .8-1.9 .6-.6 .6-.2 2.3-.1 11.3 .1 2.7 .2 .9 .3 .8 .6 .6 .8 .5 1.5 1 5.2 .8 8.3 2.1 39.4 .9 12.7 .6 4.3 .8 3.2 .9 1.8 .6 .5 1 .3 5.5 .3 301.9 0 8.6-.1 3.7-.3 1.5-.5 1.2-.6 .9-.8 1-1.3 .7-48.8 .6-18.7 .8-9.3 .6-2.5 .3-.6 .4-.1 1 .3 1.5 1 18.8 14.7 2.7 2.6 1.7 2.8 .8 2 .8 3.1 1.1 7.2 3.1 32.4 1.3 9.7 1 3.7 .9 2.1 1.4 1.2 2.1 .6 8.2 .2 654.6 0M119.7 1301l75.9-.1 2.9-.1 2.1-.3 1.6-.6 1.3-.9 1.2-1.3 .2-2.5 .5-42.5 .4-13.6 .6-10.2 .6-4.3 .7-2.1 .6-.6 .6-.3 2.5-.1 11.3 0 2.7 .3 .9 .3 .6 .4 .6 .8 .6 1.4 .9 4.9 .8 7.9 2.3 42.4 .9 11.8 .6 3.9 .8 2.8 .9 1.6 1.4 .7 1.7 .2 3.8 .1 311.3 0 8.8-.1 3.9-.3 1.5-.4 1.3-.7 1-.9 1-1.3 .5-41.5 .6-22.8 .4-7.3 .6-5.5 .5-2.3 .4-.4 .4-.1 1 .3 1.5 1.1 18.6 14.4 2.7 2.6 1.7 2.7 .8 1.9 .8 2.8 1.1 6.8 1 8.7 2.3 25.3 1.3 9.5 1 3.6 .9 1.9 1.4 1.2 1.9 .6 8.2 .2 649.8 0M119.7 1305.7l71.2 0 2.8-.1 2.1-.4 1.6-.5 1.1-.8 1.4-1.7 .7-49.9 .4-11.4 .6-8.4 .6-3.6 .7-1.8 .6-.5 .6-.2 2.5-.1 11.3 0 2.5 .2 .9 .3 .6 .4 .6 .8 .6 1.3 .9 4.6 .8 7.5 2.3 42.2 1 12.2 .5 4.2 .8 3 1 1.7 .5 .5 1 .3 5.6 .2 321.4 0 8.6 0 3.7-.3 1.5-.5 1.3-.7 1-.8 .9-1.4 .6-44.7 .6-20.9 .4-6.7 .6-5.1 .5-2 .4-.4 .4 0 1 .3 1.5 1.1 18.6 14.5 2.7 2.5 1.7 2.8 .8 2 .7 2.9 1.2 6.9 .9 8.9 2.2 23.4 .7 6.5 .8 4.6 .9 3.4 1 1.9 1.4 1.2 1.9 .5 8.2 .1 644.8 0M119.7 1310.5l66.5 0 2.9-.2 1.9-.3 1.6-.6 1.1-.8 1.2-1.4 .7-47.3 .4-12.6 .6-9.4 .6-3.9 .7-2 .6-.6 .6-.2 2.5-.2 11.3 .1 2.7 .2 .9 .4 .6 .4 .6 .9 .6 1.5 .9 5.1 .8 8.2 2.1 39.4 1.2 14.5 .5 3.7 .8 2.8 1 1.4 1.3 .7 5.6 .2 331.2 0 8.6 0 3.8-.4 1.6-.4 1.1-.6 1-.8 .9-1.3 .2-2.6 .6-45.3 .6-19.2 .4-6.2 .5-4.6 .6-1.8 .4-.3 .4-.1 .9 .4 1.6 1.1 18.6 14.5 2.7 2.6 1.7 2.8 .8 2 .7 3 1.2 7.2 3 32.4 1.4 9.8 .9 3.8 1 2 1.3 1.3 2.2 .6 8.2 .1 639.8 0M119.7 1315.3l61.9 0 2.7-.2 1.9-.4 1.6-.6 1.1-.9 1-1.1 .2-.9 .8-51.4 .3-10.4 .6-7.8 .6-3.4 .8-1.6 1.1-.6 2.5-.2 11.3 .1 2.5 .2 1 .3 .5 .4 .6 .8 .6 1.4 .9 4.8 .8 7.9 2.3 42.3 1 11.9 .6 4 .7 2.9 1 1.6 .6 .4 .9 .3 5.6 .2 340.8 0 8.6 0 3.8-.3 1.6-.4 1.3-.7 1-.9 .9-1.3 .6-40.4 .6-23.5 .4-7.5 .5-5.6 .6-2.4 .4-.4 .4-.2 .9 .4 1.6 1 18.8 14.7 2.6 2.6 1.8 2.8 1.3 4.3 1.2 6.7 .9 8.6 2.3 25.4 1.4 9.6 .9 3.6 1 2 1.3 1.2 1.9 .6 8.3 .1 635 0M119.7 1320.1l57.3-.1 2.7-.2 1.9-.4 1.6-.7 1.1-1 .8-1.1 .8-49.4 .3-11.6 .6-8.6 .6-3.7 .8-1.8 .5-.5 .6-.2 2.7-.2 11.1 .1 2.5 .1 1 .4 .6 .4 .5 .7 .6 1.3 1 4.5 .7 7.5 2.3 42.1 1 12.4 .6 4.2 .7 3.1 1 1.7 .6 .4 .9 .4 5.8 .2 350.4 0 8.8 0 3.8-.4 1.6-.4 1.3-.7 1-.8 .9-1.4 .6-43.6 .6-21.6 .3-6.9 .6-5.2 .6-2.1 .4-.4 .4-.1 .9 .4 1.6 1.1 18.6 14.4 2.6 2.6 1.8 2.7 .7 2 .8 2.9 1.2 6.9 .9 8.7 2.3 25.3 1.4 9.4 .9 3.5 1 1.8 1.3 1.2 1.9 .6 8.1 .1 630.2 0M119.7 1324.9l52.7-.1 2.5-.2 2-.4 1.5-.8 1.1-1.1 .6-.8 .8-46.6 .4-12.9 .5-9.5 .6-4.1 .8-2.1 .6-.5 .5-.2 2.9-.2 11.1 0 2.5 .2 1 .4 .6 .5 .5 .8 .6 1.4 1 5.1 .7 8.2 2.3 42.5 1 11.4 .6 3.8 .7 2.8 1 1.5 .6 .4 .9 .3 5.8 .2 360.1 0 8.7-.1 3.8-.3 1.5-.3 1.4-.7 1.1-1 1-1.4 .6-46.6 .5-19.8 .4-6.4 .6-4.7 .6-1.9 .4-.3 .4-.1 .9 .4 1.5 1.1 18.6 14.5 2.7 2.5 1.8 2.8 .7 2.1 .8 2.9 1.1 7.1 3.1 32.4 1.4 9.9 .9 3.8 1 2 1.3 1.3 2.1 .7 8.1 .1 625.2 0M119.7 1329.7l48.1-.1 2.5-.2 1.9-.5 1.4-.8 1.1-1.1 .6-.9 .8-51.4 .4-10.7 .5-7.9 .6-3.4 .8-1.7 1.1-.7 2.9-.1 10.9 0 2.5 .2 1 .3 .6 .5 .5 .7 .6 1.4 1 4.8 .7 7.7 2.3 42.4 1 11.9 .6 4.1 .8 2.9 .9 1.6 .6 .5 .9 .3 5.8 .2 369.9 0 8.9-.1 3.8-.3 1.5-.4 1.4-.6 .9-.9 1-1.3 .6-39.2 .5-24.2 .4-7.7 .6-5.8 .6-2.4 .4-.5 .3-.2 1 .3 1.5 1.1 18.8 14.6 2.7 2.6 1.7 2.8 1.4 4.3 1.1 6.7 1 8.5 2.3 25.4 1.3 9.7 1 3.6 1 2 1.3 1.3 1.9 .5 8.1 .2 620.4 0M119.7 1334.5l43.5-.1 2.5-.3 1.8-.5 1.3-.8 1.1-1.2 .4-.6 .8-48.8 .4-11.9 .6-8.8 .5-3.8 .8-1.9 .6-.5 .5-.2 3.1-.1 10.9 0 2.5 .2 1 .4 .6 .5 .6 .8 .5 1.6 1 5.3 .8 8.5 2.1 39.5 .9 12.5 .8 5.3 .8 2.6 .9 1.4 1.5 .7 5.8 .2 379.7 0 8.7-.1 3.8-.3 1.5-.3 1.4-.7 1.1-.9 1-1.4 .6-42.6 .5-22.2 .4-7.1 .6-5.3 .6-2.2 .3-.4 .4-.1 1 .3 1.5 1.1 18.6 14.5 2.7 2.5 1.7 2.7 .8 2 .8 2.9 1.1 6.8 1 8.7 2.3 25.3 1.3 9.4 1 3.6 .9 1.9 1.4 1.2 1.9 .5 8.1 .2 615.4 0M119.7 1339.3l38.9-.2 2.3-.2 1.8-.6 1.3-.8 1.2-1.3 .1-.3 .2-5 .8-48.5 .8-15.4 .5-4.2 .8-2.1 .6-.5 .6-.3 3-.2 11 .1 2.5 .2 .9 .3 .6 .5 .6 .8 .5 1.4 1 5 .8 8.1 2.3 42.5 .9 11.6 .6 3.8 .8 2.8 .9 1.6 .6 .4 1 .3 5.7 .2 389.5 0 8.8-.1 3.9-.3 1.5-.4 1.4-.6 1.1-1 1-1.4 .5-45.7 .6-20.3 .4-6.5 .6-4.9 .5-2 .4-.3 .4-.1 1 .4 1.5 1.1 18.6 14.4 2.7 2.6 1.7 2.8 .8 2 .8 2.9 1.1 7 3.1 32.4 .7 6.4 .8 4.5 1 3.4 .9 1.9 1.4 1.1 1.9 .5 8 .2 610.5 0M119.7 1344.1l28.6 0 5.9-.2 2.1-.3 1.8-.6 1.3-1 1.1-1.5 .6-42.5 .4-14.6 .6-10.9 .6-4.6 .3-1.5 .6-1.1 1.2-.6 3-.2 10.8 0 2.5 .2 .9 .3 .6 .5 .6 .7 .6 1.4 .9 4.7 .8 7.6 2.3 42.4 .9 12.1 .8 5 .8 2.5 .9 1.4 1.6 .6 5.7 .2 399.5 0 8.6-.1 3.9-.3 1.5-.4 1.3-.7 1-.8 1-1.3 .7-48.8 .6-18.7 .8-9.3 .5-2.5 .4-.6 .4-.1 1 .3 1.5 1 18.8 14.7 2.7 2.6 1.7 2.8 .8 2 .7 3.1 1.2 7.2 3.1 32.4 1.3 9.7 1 3.8 .9 2 1.4 1.2 1.9 .6 8 .2 605.7 0M119.7 1348.9l24.4-.1 5.5-.1 2.1-.4 1.6-.6 1.3-1 1-1.3 .7-48.3 .4-12.1 .6-9.1 .6-3.8 .3-1.2 .6-1 1.2-.5 3-.1 10.8 0 2.5 .2 .9 .4 .6 .4 .6 .9 .6 1.5 .9 5.3 .8 8.4 2.1 39.5 1.1 14.3 .6 3.7 .8 2.6 .9 1.5 1.6 .7 5.7 .2 409.1 0 8.8-.1 3.9-.3 1.5-.3 1.3-.7 1.2-1 .9-1.3 .6-41.5 .6-22.8 .4-7.3 .6-5.5 .5-2.3 .4-.4 .4-.1 1 .3 1.5 1.1 18.6 14.4 2.7 2.6 1.7 2.7 .8 1.9 .7 2.8 1.2 6.8 .9 8.7 2.3 25.3 1.4 9.5 1 3.6 .9 1.9 1.4 1.3 1.9 .5 8 .2 600.7 0M119.7 1353.7l19.9-.1 5.2-.2 1.9-.3 1.6-.6 1.3-1 1-1.2 .2-3.5 .7-49.6 .8-15.8 .6-4.3 .4-1.4 .5-1 .6-.4 .8-.2 3-.1 10.6 0 2.5 .2 .9 .3 .6 .5 .6 .8 .6 1.4 .9 5 .8 7.9 2.3 42.6 1 11.7 .7 4.8 .8 2.4 1 1.3 1.5 .6 5.9 .2 418.9 0 8.6-.1 3.8-.3 1.6-.4 1.3-.6 1.2-1 .9-1.4 .6-44.7 .6-20.9 .4-6.7 .5-5 .6-2.1 .4-.3 .4-.1 .8 .2 1.5 1.1 18 14 2.7 2.5 1.7 2.8 .8 2 .8 2.8 1.1 7 1 8.8 2.3 25.5 1.3 9.5 1 3.5 .9 1.9 1.4 1.3 1.9 .5 8 .2 596.5 0M119.7 1358.4l15.9 0 4.8-.2 1.9-.4 1.4-.7 1.1-.9 1-1.3 .7-50.5 .4-11.2 .6-8.4 .6-3.6 .4-1.1 .5-.9 1.4-.5 3.1-.1 10.3 0 2.5 .2 1 .3 .5 .5 .6 .7 .6 1.3 .9 4.7 .8 7.6 2.3 42.4 1 12.3 .7 5.1 .8 2.5 1 1.4 1.5 .7 5.9 .1 428.3 0 9 0 3.8-.3 1.6-.3 1.3-.6 1.2-1 .9-1.3 .2-2.6 .6-45.3 .6-19.2 .4-6.2 .5-4.6 .6-1.8 .4-.3 .4 0 .9 .4 1.6 1 16.6 13.1 2.7 2.7 1.6 2.7 1.3 4.5 1.2 7 .9 9 2.3 26 1.4 9.6 .9 3.7 1 1.9 1.3 1.2 1.9 .6 8.1 .1 593 0M119.7 1363.2l11.9 0 4.4-.3 1.5-.4 1.4-.6 .9-.8 1-1.3 .8-48 .3-12.5 .6-9.3 .6-4 .4-1.2 .6-1 .5-.4 .8-.2 3.1-.1 10.5 0 2.5 .2 1 .4 .5 .5 .6 .8 .6 1.5 1 5.3 .7 8.3 2.1 39.8 1.2 14.5 .7 4.6 .8 2.3 1 1.2 1.5 .6 6 .1 438.4 0 8.6 0 3.8-.3 1.6-.4 1.3-.6 1.2-1 .9-1.3 .6-40.4 .6-23.5 .3-7.5 .6-5.6 .6-2.3 .4-.5 .4-.2 .7 .3 1.6 1 15.5 12.1 2.7 2.7 1.5 2.8 1.4 4.5 1.1 7.2 1 9.1 2.3 26.4 1.3 9.8 1 3.8 .9 1.9 1.4 1.3 1.9 .6 8 .1 589.6 0M119.7 1368l8.2-.1 3.7-.3 1.3-.4 1.2-.6 .9-.9 .8-1 .2-2 .8-51.3 .4-10.5 .5-7.8 .6-3.3 .4-1.1 .6-.8 1.3-.5 3.1-.1 10.3 .1 2.5 .1 1 .4 .6 .4 .5 .8 .6 1.5 1 4.9 .7 8 2.3 43.1 1 11.9 .8 5 .7 2.4 1 1.3 1.5 .7 6 .1 448.2 0 8.8 0 3.8-.3 1.5-.4 1.4-.6 1.1-1 1-1.4 .6-43.6 .5-21.6 .4-6.9 .6-5.2 .6-2.1 .4-.4 .4-.1 .7 .3 1.6 1 14.3 11.3 2.5 2.7 1.6 2.9 1.1 4.2 1.2 7.2 .9 9.3 2.3 26.9 1.4 10 .9 3.8 1 2 1.3 1.3 1.9 .6 8.1 .1 586.1 0M119.7 1372.8l5-.2 2.7-.4 2.1-1.1 1.5-1.9 .8-51.2 .4-11.7 .5-8.8 .6-3.7 .4-1.2 .6-.9 .6-.4 .7-.2 3.3-.1 10.1 0 2.5 .2 1 .3 .6 .5 .5 .7 .6 1.4 1 4.7 .7 7.7 2.3 43.4 1.2 14.3 .8 4.5 .7 2.2 1 1.2 1.5 .6 6 .1 457.7 0 8.9 0 3.8-.3 1.7-.4 1.4-.7 1.1-1 1-1.4 .6-46.6 .5-19.8 .4-6.3 .6-4.8 .6-1.9 .4-.3 .3-.1 .8 .3 1.5 1.1 13.1 10.2 2.3 2.5 1.5 3 1.2 4.2 1.1 7.4 1 9.4 2.3 27.4 1.3 10.1 1 3.9 .9 2.1 1.4 1.3 1.9 .5 8.1 .2 582.6 0M119.7 1377.4l2.1-.3 1.7-.6 1.4-1 1.1-1.5 1-57.3 .6-13.3 .5-5.6 .6-2.4 .4-.8 .6-.5 1.3-.4 3.9 0 9.3 0 2.5 .2 1 .4 .6 .5 .6 .8 .5 1.6 1 5.4 .8 8.6 2.1 41.7 1.1 15.3 .8 4.9 .7 2.4 .6 1 .6 .5 1 .4 1.1 .1 473.9 .1 8.2-.1 3.7-.3 1.5-.4 1.4-.6 .9-.9 1-1.3 .6-39.2 .5-24.2 .4-7.7 .6-5.8 .6-2.4 .3-.5 .4-.2 .8 .2 1.5 1 11.7 9.3 2.3 2.5 1.6 3 1.1 4.2 1.2 7.5 .9 9.5 2.3 27.9 1.4 10.4 .9 3.9 1 2.1 1.3 1.3 1.9 .6 8.1 .2 579.2 0M119.7 1380.5l1.5-2.1 .8-57.3 .6-15.5 .7-7.7 .8-2.5 .6-.7 .6-.2 1.9-.2 9.6 0 4.2 .1 1.7 .4 .6 .5 .6 .9 .9 3.1 .8 5.5 .8 9.9 2.1 44 1.1 14.9 .8 4.6 .8 2.3 .5 .8 .6 .5 1.9 .5 483.5 .1 8.4-.1 3.7-.2 1.5-.4 1.4-.7 1.1-.9 1-1.4 .5-42.6 .6-22.2 .4-7.1 .6-5.3 .6-2.2 .3-.4 .4-.1 .8 .2 1.5 1.1 10.6 8.4 2.1 2.4 1.5 3.4 1.2 4.7 1.1 8.2 3.1 36.4 1.3 10.5 1 4 .9 2.2 1.4 1.3 1.9 .6 8.1 .2 575.7 0"/>
</g>
<g font-family="Liberation Sans, Arial, sans-serif" fill="#262626">
<text x="119.7" y="1453.2" font-size="29.7" text-anchor="middle">0</text>
<text x="311.5" y="1453.2" font-size="29.7" text-anchor="middle">100</text>
<text x="503.3" y="1453.2" font-size="29.7" text-anchor="middle">200</text>
<text x="695.0" y="1453.2" font-size="29.7" text-anchor="middle">300</text>
<text x="886.8" y="1453.2" font-size="29.7" text-anchor="middle">400</text>
<text x="1078.6" y="1453.2" font-size="29.7" text-anchor="middle">500</text>
<text x="1270.4" y="1453.2" font-size="29.7" text-anchor="middle">600</text>
<text x="77.3" y="1394.6" font-size="29.7" text-anchor="end">0</text>
<text x="77.3" y="1298.8" font-size="29.7" text-anchor="end">2</text>
<text x="77.3" y="1203.0" font-size="29.7" text-anchor="end">4</text>
<text x="77.3" y="1107.1" font-size="29.7" text-anchor="end">6</text>
<text x="77.3" y="1011.3" font-size="29.7" text-anchor="end">8</text>
<text x="77.3" y="915.5" font-size="29.7" text-anchor="end">10</text>
<text x="592.9" y="1481.1" font-size="32.7" text-anchor="middle">Time [ms]</text>
<text transform="translate(27.6 1144.1) rotate(-90)" font-size="33" text-anchor="middle">Space [cm]</text>
</g>
<text transform="translate(131.8 849.2) scale(0.9 1)" font-family="Liberation Sans, Arial, sans-serif" font-weight="bold" font-size="67" fill="#000">b</text>
<g font-family="Liberation Serif, Times New Roman, serif" fill="#000" stroke="#000" stroke-width="0.6">
<text x="1080.5" y="843.9" font-size="54" font-style="italic">d</text>
<text x="1114.2" y="821.9" font-size="32">0</text>
<text x="1111.7" y="855.9" font-size="40" font-style="italic">w</text>
<text transform="translate(1160.3 845.4) scale(1.25 1)" font-size="53">=</text>
<text transform="translate(1215.3 843.9) scale(1.045 1)" font-size="53">0.4</text>
</g>
<path d="M119.7 1672.9V2151.5M119.7 2151.5H1270.4M119.7 2150.5v30M311.5 2150.5v30M503.3 2150.5v30M695.0 2150.5v30M886.8 2150.5v30M1078.6 2150.5v30M1270.4 2150.5v30M120.7 2151.5h-32M120.7 2055.8h-32M120.7 1960.1h-32M120.7 1864.3h-32M120.7 1768.6h-32M120.7 1672.9h-32" stroke="#2e2e2e" stroke-width="2" fill="none"/>
<path fill="#f20000" fill-opacity="0.55" d="M360.6 1912.2 L360.6 1794.9 L515.9 1555.6 L515.9 1672.9 Z"/>
<g fill="none" stroke-width="2.9" stroke-linejoin="round" stroke-linecap="butt">
<path stroke="#f20000" d="M119.7 1672.9l381.6 0 6.9-.1 3.3-.5 1.5-.8 1.4-1.4 .9-1.7 1-3 .8-100.9 .4-10.5 .3-5.3 .2-.7 .4 .7 .4 1.9 1.7 14.8 .8 4.6 1.9 5.9 1.5 3.7 1.6 2.6 .7 .7 .6 .2 3.5-.2 4-.6 36.4-7.3 22.1-3.2 12.1-1.4 9-.4 18.2 .1 27.4 .5 19.4 .6 19.6 1.5 31 3.4 47.6 6.3 34.1 4.3 9.8 1.6 21.1 4.4 33.6 5.7 19.3 4.1 13.7 3.4 12.4 3.7 8.8 3.3 11.7 5 9.8 4.7 10.6 5.7 33.1 19.9 15 8.6 6.7 3.7 10.8 5 6.9 2.9 5.5 1.7 7.3 1.5 9.8 1.3 212.5 0M119.7 1677.7l378.4 0 6.9-.1 3.2-.5 1.6-.7 1.3-1.3 1-1.6 .9-2.8 1-98.8 .6-11.4 .4-2.1 .3 .7 .4 1.4 1.8 10.9 .7 3.5 2.1 6.2 1.6 3.6 1.3 2.2 .8 .8 .5 .2 3.5-.2 4-.6 36.5-7.3 22-3.3 12.1-1.3 8.8-.4 17.9 .1 26.2 .4 20.4 .7 19.9 1.4 31.1 3.4 48.1 6.4 33.2 4.1 10.5 1.7 21.5 4.6 32.6 5.4 15.6 3.2 15.7 3.8 14 4.1 8.8 3.1 11.5 4.9 10.2 4.9 11.1 5.9 33.7 20.2 14.8 8.5 6.9 3.8 11 5.1 6.9 2.8 5.7 1.7 7.5 1.5 9 1.2 215.2 0M119.7 1682.5l375.3 0 6.9-.1 3.3-.5 1.5-.7 1.4-1.3 .9-1.8 1-2.8 .7-88.5 .4-13.9 .4-5.9 .2-1.3 .2-.1 .4 .6 .5 2.1 2 10.3 1.7 5.1 1.5 4.1 1.4 2.8 1.1 1.6 1 .5 3.4-.2 4.1-.6 36.2-7.3 22.1-3.3 12-1.3 8.9-.4 17.2 .1 25.9 .4 21.1 .6 20.1 1.5 31.3 3.4 48.3 6.4 33 4.1 10.8 1.7 20.3 4.3 31.1 5.2 16.1 3.2 16.7 4 14.7 4.2 8.8 3.1 11.5 4.9 10.4 4.9 11.5 6.1 33.8 20.2 14.7 8.5 6.9 3.8 11 5.1 6.9 2.8 5.9 1.7 7.7 1.5 8.6 1.2 217.9 0M119.7 1687.3l372.2 0 6.9-.2 3.3-.4 1.5-.8 1.4-1.3 .9-1.8 1-2.9 .8-91.8 .4-11.4 .5-6.3 .4 .3 .6 1.8 2.1 11.1 1.9 5.6 1.6 3.9 1.1 2.4 1.2 1.5 .9 .5 3.5-.2 4-.6 36.2-7.3 22.1-3.3 12.1-1.3 8.8-.4 17.4 0 26.1 .5 20.9 .6 20.2 1.5 31.2 3.3 48.4 6.5 32.9 4.1 10.8 1.7 20.3 4.3 31.1 5.2 16.1 3.2 16.7 3.9 14.7 4.2 8.9 3.2 11.7 4.9 10.3 4.9 11.5 6.1 33.8 20.2 14.7 8.5 7 3.7 10.9 5.1 6.9 2.9 5.9 1.7 7.7 1.5 8.6 1.2 220.6 0M119.7 1692l369 0 6.9-.1 3.2-.4 2-1 1.3-1.5 1.4-3.1 .3-2.4 .8-93.4 .4-9.5 .4-4.9 .2-.6 .3 .4 .6 2 2.1 11 1.6 4.5 1.5 4.1 1.3 2.9 1.2 1.6 1 .6 3.4-.1 4-.6 36.5-7.3 22-3.3 12.1-1.3 8.8-.4 17.5 0 25.9 .5 21.1 .6 20.1 1.5 31.5 3.3 48.3 6.5 33 4 10.7 1.8 20.3 4.3 31.3 5.2 16.1 3.2 16.7 3.9 14.8 4.2 8.8 3.2 11.5 4.8 10.3 4.9 11.5 6.1 34 20.3 15 8.6 6.9 3.7 10.9 5.1 6.9 2.8 5.9 1.7 7.7 1.5 8.6 1.1 223.1 0M119.7 1696.8l365.9 0 6.9-.1 3.3-.4 1.5-.7 1.4-1.3 .9-1.7 1-2.7 .9-97.1 .6-11 .2-1.6 .2-.3 .4 .5 .6 2.1 1.9 10.3 1.7 5.1 1.5 4.1 1.4 2.9 1.1 1.6 1 .5 3.4-.2 4.1-.5 36.4-7.3 22.1-3.3 12-1.3 8.9-.5 17.8 .1 26.1 .5 20.7 .6 20.1 1.5 31.5 3.3 48.3 6.5 33 4 10.7 1.7 20.6 4.4 31.2 5.2 16.1 3.2 16.7 3.9 14.8 4.2 8.8 3.2 11.5 4.8 10.4 4.9 11.5 6.1 33.9 20.3 15 8.6 6.9 3.7 11.1 5.1 6.9 2.8 5.9 1.8 7.7 1.4 8.5 1.1 225.7 0M119.7 1701.6l362.8 0 7-.1 3.2-.5 1.5-.7 1.4-1.3 .9-1.7 1-2.8 .8-89.1 .4-13.5 .3-5.8 .2-1.3 .2-.1 .4 .7 .6 2.1 1.9 10.3 1.7 5.1 1.6 4 1.3 2.9 1.2 1.5 .9 .5 3.5-.2 4-.6 36.2-7.2 22.1-3.3 12.1-1.3 8.8-.5 17.6 .1 26.1 .4 21.1 .7 20.2 1.4 31.4 3.4 48.7 6.5 32.8 4 10.9 1.8 20.4 4.3 31.2 5.1 16.1 3.3 16.7 3.9 14.8 4.2 8.8 3.1 11.7 4.9 10.4 4.9 11.5 6.1 33.9 20.2 15 8.6 6.9 3.7 11.1 5.2 6.9 2.8 6 1.7 7.6 1.5 8.7 1.1 228.2 0M119.7 1706.4l359.8 0 6.9-.1 3.2-.5 1.6-.7 1.3-1.4 1-1.8 .9-2.8 .8-92.3 .4-11.1 .6-6.2 .3 .3 .6 1.9 2.1 11 2 5.6 1.5 4 1.1 2.3 1.2 1.5 .9 .5 3.5-.2 4-.6 36.3-7.3 22-3.2 12.1-1.4 8.8-.4 17.9 .1 26 .4 21.1 .7 20.2 1.4 31.4 3.4 48.7 6.5 33 4 10.8 1.7 20.5 4.4 31.3 5.1 16.1 3.3 16.6 3.9 14.8 4.2 8.8 3.1 11.7 4.9 10.4 4.9 11.5 6 34.1 20.4 15 8.6 6.9 3.7 11.1 5.1 6.9 2.8 6 1.7 7.6 1.5 8.5 1.1 230.9 0M119.7 1711.2l356.7 0 6.9-.1 3.3-.5 1.9-1.1 .8-.8 .7-1.3 1.2-3 .2-3 .7-92.5 .4-9.3 .4-4.8 .2-.5 .4 .4 .6 2 2.1 11 1.5 4.5 1.5 4.1 1.4 2.9 1.1 1.6 1 .6 3.4-.2 4.1-.6 36.4-7.3 22.1-3.3 12-1.3 8.9-.4 18 .1 26.3 .4 20.9 .6 20.1 1.5 31.5 3.4 48.7 6.4 33 4.1 10.7 1.7 20.5 4.3 31.5 5.2 16.1 3.2 16.7 4 14.7 4.2 8.8 3.1 11.7 4.9 10.6 4.9 11.5 6.1 34.1 20.3 15 8.6 6.9 3.7 10.9 5.1 6.9 2.7 6 1.8 7.8 1.5 8.5 1.1 233.4 0M119.7 1716l353.8 0 6.7-.1 3.3-.6 1.5-.7 1.2-1.2 1-1.7 .9-2.7 1-97.3 .5-10.8 .2-1.6 .2-.2 .4 .5 .6 2.1 1.9 10.3 1.7 5.1 1.6 4.1 1.3 2.8 1.2 1.6 .9 .6 3.5-.2 4-.6 36.2-7.3 22.3-3.3 12.1-1.3 8.8-.4 18 .1 26.1 .4 21.1 .6 20.3 1.5 31.5 3.4 48.7 6.4 33 4 10.9 1.8 20.5 4.3 31.3 5.2 16.3 3.2 16.7 4 14.7 4.1 8.9 3.2 11.7 4.9 10.3 4.8 11.7 6.2 34.2 20.3 14.9 8.5 6.9 3.7 11.1 5.2 6.9 2.7 6 1.8 7.9 1.5 8.4 1.1 235.9 0M119.7 1720.8l350.6 0 6.7-.1 3.2-.5 1.6-.8 1.3-1.3 1-1.7 .9-2.8 .8-89.7 .6-16.4 .2-2.4 .2-1.2 .2 0 .3 .6 .6 2.2 1.9 10.2 1.8 5.1 1.5 4.1 1.3 2.8 1.2 1.6 .9 .5 3.5-.2 4-.6 36.3-7.3 22.2-3.3 12.1-1.3 8.8-.4 18.2 0 26.1 .5 21.1 .6 20.3 1.5 31.5 3.3 48.7 6.5 33.2 4 10.7 1.8 20.6 4.3 31.4 5.2 16.3 3.2 16.7 4 14.9 4.2 8.9 3.1 11.7 4.9 10.3 4.9 11.5 6 34.4 20.4 14.9 8.6 6.9 3.6 11.1 5.2 7 2.7 6.1 1.8 7.7 1.5 8.4 1.1 238.4 0M119.7 1725.5l347.5 0 6.7-.1 3.3-.5 1.5-.7 1.4-1.4 .9-1.7 1-2.9 .7-92.7 .4-10.8 .6-6.1 .4 .4 .6 1.9 2.1 11 1.7 5.1 1.5 4 1.2 2.4 1.1 1.7 1 .6 3.4-.1 4.1-.6 36.4-7.3 22.1-3.3 12.2-1.3 8.9-.4 18.4 0 26.2 .5 20.9 .6 20.4 1.5 31.4 3.3 48.9 6.5 33.2 4 10.7 1.8 20.6 4.3 31.4 5.2 16.3 3.2 16.7 3.9 15 4.2 8.8 3.2 11.7 4.8 10.3 4.9 11.7 6.1 34.2 20.3 15.1 8.7 6.9 3.6 11.2 5.2 6.9 2.7 6.1 1.8 7.9 1.5 8.2 1 240.9 0M119.7 1730.3l344.4 0 6.7-.1 3.3-.5 1.5-.8 1.2-1.1 1-1.6 .9-2.7 .2-4.2 .8-91.6 .5-12 .4-2.3 .4 .5 .6 2 2.1 11 1.5 4.4 1.6 4.1 1.3 2.9 1.2 1.6 .9 .6 3.5-.1 4-.6 36.4-7.3 22.1-3.3 12.1-1.3 8.8-.5 18.4 .1 26.3 .4 21.3 .7 20.3 1.5 31.6 3.3 48.8 6.5 33.1 4 11 1.7 20.7 4.4 31.2 5.1 16.3 3.3 16.7 3.9 15 4.2 8.8 3.1 11.7 4.9 10.5 4.9 11.7 6.1 34.4 20.4 14.9 8.5 7.1 3.8 11.2 5.1 6.9 2.7 6.1 1.8 7.9 1.5 8.2 1 243.2 0M119.7 1735.1l341.4 0 6.7-.1 3.2-.5 1.6-.8 1.1-1.2 1-1.6 .9-2.8 .8-86.6 .4-15.4 .4-6.2 .2-1.4 .2-.3 .3 .6 .6 2.1 1.9 10.2 1.8 5.2 1.5 4.1 1.3 2.8 1.2 1.6 1 .5 3.4-.2 4-.6 36.3-7.2 22.2-3.3 12.1-1.4 8.8-.4 18.6 .1 26.3 .4 21.3 .7 20.3 1.4 31.7 3.4 48.9 6.5 33.3 4 10.8 1.7 20.7 4.4 31.4 5.1 16.3 3.3 16.7 3.9 15 4.2 9 3.1 11.7 4.9 10.4 4.9 11.7 6.1 34.3 20.3 15.1 8.6 6.9 3.7 11.2 5.1 7.1 2.8 6.1 1.8 7.9 1.5 8.2 1 245.5 0M119.7 1739.9l338.3 0 6.7-.1 3.3-.6 1.5-.8 1.2-1.2 .9-1.7 1-2.8 .7-90.2 .6-16 .2-2.3 .2-1.1 .2-.1 .4 .7 .6 2.2 1.9 10.2 1.7 5.1 1.5 4.1 1.4 2.8 1.1 1.5 1 .5 3.4-.2 4.1-.6 36.2-7.3 22.3-3.3 12-1.3 8.9-.4 18.8 .1 26.2 .4 21.3 .7 20.3 1.4 31.9 3.4 48.9 6.4 33.4 4.1 10.9 1.7 20.5 4.3 31.6 5.2 16.2 3.2 16.8 4 15 4.2 9 3.1 11.7 4.9 10.6 4.9 11.7 6.1 34.3 20.3 14.9 8.5 7.1 3.8 11.2 5.1 7.1 2.8 6.1 1.8 7.9 1.5 8.2 1 247.8 0M119.7 1744.7l335 0 6.8-.1 3.2-.5 1.5-.8 1.4-1.3 .9-1.8 1-2.9 .8-93.1 .4-10.5 .5-5.9 .4 .3 .6 1.9 2.1 11.1 1.7 5 1.6 4.1 1.1 2.4 1.2 1.7 .9 .6 3.5-.2 4-.6 36.4-7.3 22.1-3.2 12.3-1.4 8.8-.4 19 .1 26.2 .4 21.3 .6 20.4 1.5 31.8 3.4 49.1 6.4 33.4 4.1 10.9 1.7 20.7 4.4 31.5 5.1 16.3 3.2 16.8 4 15 4.1 9 3.2 11.7 4.9 10.6 4.9 11.7 6.1 34.5 20.3 14.9 8.5 7.1 3.8 11.2 5.1 7.1 2.8 6.1 1.8 7.9 1.4 8.2 1.1 250.1 0M119.7 1749.5l332 0 6.7-.1 3.2-.5 1.6-.8 1.1-1.2 1-1.6 .9-2.7 .2-5.4 .8-90.7 .6-11.7 .4-2.3 .3 .5 .6 2 1.9 10.3 1.8 5.2 1.5 4.1 1.3 2.9 1.2 1.6 1 .6 3.4-.2 4-.6 36.5-7.3 22-3.3 12.3-1.3 8.8-.4 19.2 .1 26.5 .4 21.1 .6 20.3 1.5 31.8 3.4 49.3 6.4 33.4 4.1 10.9 1.7 20.7 4.3 31.7 5.2 16.3 3.2 16.8 4 15 4.1 9 3.2 11.7 4.8 10.6 4.9 11.7 6.1 34.5 20.4 15.1 8.6 7.1 3.7 11.2 5.1 7.1 2.8 6.1 1.8 7.9 1.4 8.2 1.1 252.4 0M119.7 1754.3l328.9 0 6.7-.2 3.3-.5 1.5-.8 1.2-1.1 .9-1.7 1-2.8 .7-87.2 .4-14.9 .4-6.1 .2-1.4 .2-.2 .4 .5 .6 2.2 1.9 10.2 1.7 5.1 1.5 4.1 1.4 2.9 1.1 1.5 1 .6 3.4-.2 4.1-.6 36.2-7.3 22.3-3.3 12-1.3 8.9-.4 19.1 0 26.5 .5 21.5 .6 20.5 1.5 31.8 3.4 49.1 6.4 33.6 4.1 10.9 1.7 20.7 4.3 31.7 5.2 16.3 3.2 16.9 3.9 15.1 4.2 9 3.2 11.7 4.8 10.6 4.9 11.7 6.1 34.5 20.3 15.1 8.6 7.1 3.7 11.2 5.1 7.1 2.9 6.3 1.8 7.8 1.4 8.3 1.1 254.7 0M119.7 1759l325.8 0 6.7-.1 3.3-.5 1.5-.8 1.2-1.2 1-1.7 .9-2.9 .8-90.6 .6-15.6 .1-2.3 .2-1.1 .2 0 .4 .7 .6 2.2 1.9 10.2 1.7 5.1 1.6 4 1.3 2.8 1.2 1.6 .9 .4 3.5-.1 4-.6 36.2-7.3 22.3-3.3 12.1-1.3 8.8-.4 19.4 0 26.2 .5 21.5 .6 20.5 1.5 32.1 3.3 49.3 6.5 33.3 4 11 1.7 20.9 4.4 31.6 5.2 16.3 3.2 16.9 3.9 14.9 4.1 9.1 3.2 11.8 4.9 10.6 4.9 11.9 6.1 34.5 20.3 15.1 8.6 7.1 3.7 11.4 5.2 7.1 2.8 6.3 1.8 7.8 1.4 8.1 1 257.2 0M119.7 1763.8l322.8 0 6.7-.1 3.2-.5 1.6-.9 1.1-1.2 1-1.8 .9-2.9 .8-93.5 .4-10.2 .6-5.8 .4 .4 .5 1.9 2.1 11.1 1.6 4.5 1.5 4.1 1.3 2.9 1.2 1.6 1 .6 3.4-.1 4-.6 36.5-7.3 22-3.3 12.3-1.3 8.8-.5 19.6 .1 26.5 .4 21.2 .7 20.6 1.5 32 3.3 49.3 6.5 33.3 4 11.2 1.8 20.9 4.3 31.4 5.1 16.3 3.2 15.8 3.6 14 3.8 9 3 10.5 4.2 12.3 5.5 13.2 6.8 35.9 21 15.1 8.6 7.5 3.8 11.5 5.2 7.3 2.8 7.3 1.8 9.4 1.5 4 .4 259.9 0M119.7 1768.6l319.9 0 6.7-.1 3.1-.6 1.5-.8 1.2-1.3 .9-1.8 .8-2.3 .2-6.6 .7-89.8 .6-11.5 .4-2.1 .4 .5 .6 2 1.9 10.3 1.7 5.2 1.5 4.1 1.4 2.8 1.1 1.7 1 .5 3.4-.2 4.1-.6 36.4-7.3 22.1-3.2 12.2-1.4 8.9-.4 19.5 .1 26.3 .4 21.5 .7 20.5 1.4 32 3.4 49.5 6.5 33.4 4 11.1 1.7 20.9 4.4 31.6 5.1 16.1 3.2 15.8 3.6 14 3.8 9 3 10.7 4.2 12.1 5.5 13.2 6.7 36.1 21.1 15.1 8.6 7.5 3.8 11.5 5.2 7.3 2.8 7.3 1.8 9.4 1.5 4 .4 262.6 0M119.7 1773.4l316.6 0 6.7-.1 3.1-.5 1.5-.8 1.2-1.2 1-1.7 .9-2.8 .8-87.7 .4-14.5 .3-6.1 .2-1.3 .2-.2 .4 .6 .6 2.1 1.9 10.3 1.7 5.1 1.6 4.1 1.3 2.8 1.2 1.6 .9 .5 3.5-.2 4-.6 36.2-7.2 22.3-3.3 12.3-1.4 8.8-.4 19.5 .1 26.3 .4 21.5 .7 20.5 1.4 32 3.4 49.5 6.4 33.6 4.1 10.9 1.7 20.9 4.4 31.7 5.1 16.3 3.2 15.7 3.6 14 3.8 9 2.9 10.6 4.3 12.2 5.4 13.3 6.8 36.2 21.2 15.2 8.6 7.4 3.8 11.4 5.1 7.2 2.7 7.3 1.9 9.6 1.5 3.9 .4 265.4 0M119.7 1778.2l313.6 0 6.7-.1 3-.6 1.6-.8 1.1-1.2 1-1.7 .9-2.9 .8-91.1 .4-11.9 .6-6.6 .4 .3 .5 1.8 2.1 11.1 2.1 6.1 1.4 3.4 1.1 2.4 1.2 1.5 1 .5 3.4-.2 4-.6 36.3-7.3 22.2-3.3 12.1-1.3 8.8-.4 19.6 .1 26.5 .4 21.4 .6 20.6 1.5 32 3.4 49.7 6.5 33.3 4 11.1 1.7 20.9 4.4 31.7 5.1 16.1 3.2 15.7 3.6 14 3.8 9 2.9 10.6 4.2 12.3 5.5 13.2 6.7 36.2 21.3 15.2 8.5 7.5 3.8 11.5 5.2 7.3 2.7 7.3 1.9 9.5 1.5 3.7 .4 268.5 0M119.7 1783l310.5 0 6.7-.2 3.1-.5 1.5-.8 1.2-1.3 .9-1.7 1-3 .7-93.9 .4-9.9 .6-5.7 .4 .5 .6 1.9 2.1 11 1.5 4.5 1.5 4.1 1.4 2.9 1.1 1.7 1 .6 3.4-.2 4.1-.6 36.4-7.3 22.1-3.3 12.2-1.3 8.9-.4 19.5 .1 26.5 .4 21.5 .6 20.5 1.5 32 3.4 49.5 6.4 33.6 4.1 10.9 1.7 20.9 4.3 31.8 5.2 16.1 3.2 15.8 3.6 14 3.8 9 2.9 10.5 4.2 12.3 5.5 13.2 6.7 36.3 21.3 15.1 8.5 7.5 3.9 11.5 5.1 7.3 2.7 7.3 1.9 9.6 1.5 3.6 .4 271.6 0M119.7 1787.8l307.4 0 6.7-.2 3.1-.5 1.5-.9 1.2-1.3 .9-1.8 .8-2.3 1-96.7 .5-11.2 .4-2.1 .4 .6 .6 2 1.9 10.3 1.7 5.1 1.6 4.1 1.3 2.9 1.2 1.6 .9 .6 3.5-.2 4-.6 36.4-7.3 22.1-3.3 12.3-1.3 8.8-.4 19.7 0 26.5 .5 21.3 .6 20.5 1.5 32 3.4 49.5 6.4 33.4 4 11.1 1.8 20.9 4.3 31.7 5.2 16.1 3.1 15.7 3.6 14 3.8 9 3 10.6 4.2 12.2 5.5 13.3 6.7 36.2 21.2 15.2 8.6 7.4 3.8 11.6 5.2 7.2 2.7 7.5 1.9 9.6 1.5 3.3 .4 275 0M119.7 1792.6l304.4-.1 6.7-.1 3-.6 1.6-.8 1.1-1.3 1-1.9 .7-2.4 .8-88.3 .4-14.1 .4-5.9 .2-1.3 .2-.2 .3 .7 .6 2.1 1.9 10.3 1.8 5.1 1.5 4 1.3 2.9 1.2 1.5 1 .5 3.4-.1 4-.6 36.3-7.3 22.2-3.3 12.3-1.3 8.8-.4 19.8 0 26.2 .5 21.3 .6 20.6 1.5 32 3.3 49.5 6.5 33.3 4 11.2 1.8 20.9 4.3 31.4 5.1 16.3 3.2 15.7 3.6 14 3.9 9.1 2.9 10.5 4.2 12.3 5.5 13.2 6.8 36.3 21.2 15.1 8.5 7.5 3.9 11.3 5.1 7.3 2.7 7.5 1.9 9.6 1.5 3.2 .4 278.5 0M119.7 1797.3l301.3 0 6.7-.1 3.1-.6 1.5-.9 1.2-1.3 .9-2 .8-2.4 .7-91.6 .4-11.6 .6-6.4 .4 .3 .6 1.9 2.1 11 1.9 5.6 1.5 4 1.2 2.3 1.1 1.6 1 .4 3.4-.2 4.1-.6 36.2-7.2 22.1-3.3 12.2-1.3 8.9-.5 19.3 .1 26.5 .4 21.5 .7 20.5 1.5 32 3.3 49.3 6.5 33.6 4 10.9 1.8 20.9 4.3 31.7 5.2 16.1 3.1 15.5 3.6 14 3.8 9 2.9 10.6 4.2 12.2 5.5 13.3 6.8 36.2 21.2 15.2 8.6 7.4 3.8 11.5 5.2 7.3 2.7 7.5 1.9 9.6 1.5 2.9 .3 282.3 0M119.7 1802.1l298 0 6.7-.1 3.1-.6 1.5-.8 1.4-1.5 1.1-2.5 .6-2.5 .8-93.7 .4-9.7 .3-4.9 .2-.6 .4 .4 .6 2 2.1 11 1.5 4.5 1.6 4.1 1.3 2.9 1.2 1.6 .9 .6 3.5-.2 4-.5 36.4-7.3 22.1-3.3 12.3-1.4 8.8-.4 19.4 .1 26.4 .4 21.3 .7 20.5 1.4 31.9 3.4 49.3 6.5 33.3 4 11.2 1.8 20.7 4.3 31.6 5.1 16.1 3.2 15.6 3.6 14 3.8 9 2.9 10.5 4.2 12.3 5.5 13.2 6.8 36.3 21.3 15.1 8.5 7.5 3.9 11.5 5.2 7.3 2.7 7.5 1.8 9.6 1.5 2.5 .3 286.3 0M119.7 1806.9l295 0 6.7-.1 3-.6 1.6-.8 1.1-1.3 1-1.9 .7-2.3 1-96.9 .6-11.1 .2-1.6 .2-.3 .4 .5 .5 2.1 1.9 10.2 1.8 5.2 1.5 4.1 1.3 2.9 1.2 1.6 1 .5 3.4-.2 4-.6 36.5-7.3 22-3.2 12.3-1.4 8.8-.4 19.4 .1 26.3 .4 21.1 .7 20.5 1.4 31.8 3.4 49.3 6.5 33.2 4 11.1 1.7 20.7 4.4 31.7 5.1 16.1 3.2 15.5 3.6 13.8 3.8 9 2.9 10.4 4.1 12.3 5.5 13.4 6.9 36 21.2 15.2 8.6 7.5 3.9 11.5 5.2 7.3 2.7 7.4 1.8 9.8 1.6 1.9 .2 290.8 0M119.7 1811.7l291.9 0 6.7-.2 3.1-.5 1.5-.9 1.2-1.3 .9-1.9 .8-2.4 .7-88.8 .4-13.7 .4-5.8 .2-1.3 .2-.1 .4 .6 .6 2.2 1.9 10.2 1.7 5.1 1.5 4.1 1.4 2.8 1.1 1.6 1 .5 3.4-.2 4.1-.6 36.2-7.3 22.3-3.3 12-1.3 8.9-.4 19 .1 26.2 .4 21.3 .6 20.3 1.5 31.9 3.4 49.1 6.4 33.1 4.1 11 1.7 20.9 4.4 31.4 5.1 16.1 3.2 15.6 3.6 13.8 3.8 8.8 2.8 10.6 4.3 12.2 5.5 13.3 6.8 36 21.3 15 8.5 7.6 3.9 11.4 5.2 7.3 2.7 7.4 1.8 10 1.6 1.2 .2 295.7 0M119.7 1816.5l289 0 6.5-.2 3.1-.6 1.5-.9 1.2-1.3 .9-1.9 .8-2.5 .8-92 .4-11.3 .5-6.2 .4 .3 .6 1.8 2.1 11.1 1.9 5.6 1.6 4 1.1 2.3 1.2 1.5 .9 .5 3.5-.2 4-.6 36.2-7.3 22.1-3.3 12.3-1.3 8.8-.4 18.8 .1 26.3 .4 20.9 .6 20.3 1.5 31.6 3.4 48.9 6.4 33.2 4.1 11 1.7 20.7 4.4 31.2 5.1 16.1 3.2 15.4 3.5 13.8 3.8 9 3 10.4 4.1 12.2 5.6 13.3 6.8 35.8 21.2 15.2 8.7 7.5 3.8 11.3 5.2 7.3 2.7 7.4 1.9 10.2 1.7 301.5 0M119.7 1821.3l285.9 0 6.6-.2 3-.6 1.8-1.1 1.3-1.9 1.2-3 .1-2.5 .8-92.9 .4-9.4 .4-4.8 .2-.6 .4 .5 .5 1.9 2.1 11.1 1.6 4.5 1.5 4.1 1.3 2.8 1.2 1.7 1 .5 3.4-.1 4-.6 36.5-7.3 22-3.3 12.1-1.3 8.8-.4 18.3 0 26.2 .5 20.9 .6 20.2 1.5 31.4 3.4 48.7 6.4 33.2 4.1 10.8 1.7 20.5 4.3 31.2 5.2 16.3 3.2 15.6 3.7 14 3.9 8.8 2.9 10.5 4.3 11.7 5.4 12.9 6.7 35.3 21 14.9 8.6 7.5 3.9 11.3 5.2 7.3 2.8 7.3 1.9 9.6 1.6 308.2 .1M119.7 1826.1l282.9-.1 6.5-.1 3.1-.6 1.3-.8 1.2-1.3 .9-1.8 .8-2.3 .9-97.3 .6-10.8 .2-1.6 .2-.3 .4 .6 .6 2.1 1.9 10.2 1.7 5.2 1.5 4.1 1.4 2.8 1.1 1.6 1 .5 3.4-.1 4.1-.6 36.2-7.3 22.1-3.3 12.1-1.3 8.8-.4 17.2 0 26.1 .5 21.1 .6 20.2 1.5 31.2 3.3 48.3 6.5 32.8 4 10.8 1.8 20.3 4.3 31.3 5.2 16.3 3.3 15.9 3.7 14.4 4.1 8.6 3 11.1 4.6 10.8 5.1 12.2 6.4 34.7 20.8 14.8 8.6 7.3 3.9 11.1 5.2 7.1 2.8 6.9 1.9 9.2 1.8 316.1 0M119.7 1830.8l279.8 0 6.5-.1 1.8-.3 1.3-.4 1.3-.8 1.2-1.3 .9-1.9 .8-2.3 .8-89.5 .6-16.6 .1-2.4 .2-1.2 .2-.1 .4 .7 .6 2.2 1.9 10.2 1.7 5.1 1.6 4.1 1.3 2.8 1.2 1.5 .9 .5 3.5-.2 4-.6 36.2-7.2 22.1-3.3 12.1-1.3 8.8-.4 16.9 0 25.9 .5 20.5 .6 19.7 1.5 31.1 3.3 48 6.5 32.8 4.1 10.5 1.7 19.9 4.3 31.3 5.2 16.5 3.3 16.1 3.9 14.6 4.2 8.8 3.2 11.5 4.9 10.2 4.9 11.3 6.1 33.6 20.3 14.9 8.7 6.9 3.8 11.1 5.3 6.8 2.8 6.1 1.9 8.2 1.8 325.7 0M119.7 1835.6l276.5 0 6.6-.1 3-.6 1.6-.9 1.1-1.4 1-1.9 .7-2.4 .8-92.5 .4-11 .6-6.1 .4 .4 .5 1.8 2.1 11.1 1.8 5 1.5 4.1 1.2 2.4 1.1 1.7 1 .6 3.2-.1 4.2-.6 36.5-7.3 21.8-3.3 12.1-1.3 8.8-.5 15.8 .1 25.7 .4 20.5 .7 19.7 1.5 30.7 3.3 47.4 6.5 32.6 4 10.4 1.7 19.7 4.3 31.3 5.3 16.7 3.5 15.9 3.8 14.4 4.2 9 3.4 12.1 5.3 9.7 4.8 10.6 5.7 32.2 19.8 15.3 9.1 6.4 3.5 10.9 5.4 6.3 2.9 5.6 1.9 6.9 1.8 336.4 0M119.7 1840.4l273.5 0 6.5-.1 3.1-.6 1.3-.8 1.2-1.3 .9-1.8 .8-2.2 .2-3.7 .7-92 .6-12.1 .4-2.3 .4 .4 .6 2 2.1 11.1 1.5 4.4 1.5 4.1 1.4 2.9 1.1 1.6 1 .6 3.4-.2 4.1-.6 36.4-7.3 21.9-3.2 12.1-1.3 8.8-.5 16.1 .1 25.9 .4 20.3 .7 19.8 1.5 30.6 3.3 47.6 6.5 32.6 4 10.4 1.7 21.4 4.6 31.9 5.4 15.1 3.2 15.9 3.9 14.2 4.2 9.4 3.5 12.9 5.7 9.6 4.7 9.9 5.5 31.7 19.4 22.4 13.3 9.8 5.1 5.8 2.8 4.9 1.9 5.4 1.5 341.6 0M119.7 1845.2l270.4 0 6.5-.2 3.1-.6 1.3-.8 1.2-1.3 1-1.8 .7-2.3 1-97.5 .6-10.7 .1-1.5 .2-.2 .4 .5 .6 2.1 1.9 10.3 1.7 5.1 1.6 4.1 1.3 2.9 1.2 1.6 .9 .5 3.5-.2 4-.6 36.3-7.3 22-3.2 12.1-1.4 8.8-.4 16.5 .1 26.1 .4 20.1 .7 19.8 1.4 30.9 3.4 47.3 6.4 33 4.1 10.2 1.7 21.5 4.6 32 5.4 15.7 3.3 16.1 4 14 4.1 10.2 3.9 13.6 6.1 10.5 5.4 9.6 5.5 35.3 21.9 14.4 9.4 7.1 4.3 4.4 2.3 4.4 1.9 4.2 1.5 4.1 1.1 347.3 0M119.7 1850l267.3 0 6.6-.2 1.7-.2 1.3-.4 1.4-.8 1.1-1.3 1-1.9 .7-2.4 .8-90 .6-16.1 .2-2.4 .2-1.1 .2-.1 .4 .7 .5 2.2 1.9 10.2 1.8 5.1 1.5 4 1.3 2.8 1.2 1.6 1 .5 3.4-.2 4-.6 36.3-7.3 22-3.2 12.1-1.4 8.8-.4 17.1 .1 26.3 .4 19.9 .7 19.6 1.4 30.9 3.4 47.5 6.4 33.2 4.2 10.2 1.6 21.3 4.6 32.4 5.4 16.5 3.5 15.9 4 14.4 4.3 11.5 4.6 14.2 6.5 7.8 4.1 7.3 4.1 19.4 12.4 9.6 7 13.4 11.3 8.1 5.5 4.2 2.3 5.7 2.3 4.2 1.4 6.2 1.4 354.6 0M119.7 1854.8l264.3 0 6.5-.2 1.7-.2 1.4-.5 1.3-.8 1.2-1.3 .9-2 .8-2.4 .7-93 .4-10.6 .6-6 .4 .4 .6 1.9 2.1 11.1 1.7 5 1.5 4 1.2 2.5 1.1 1.6 1 .6 3.4-.1 4.1-.6 36.4-7.3 22.1-3.3 12.1-1.3 8.8-.4 17.2 .1 26.5 .4 19.9 .7 19.6 1.4 30.9 3.4 47.7 6.4 33.2 4.1 10.2 1.7 21.3 4.5 32.6 5.5 16.8 3.6 16.5 4.2 14.2 4.3 6.2 2.4 7.3 3.1 6.9 3.2 6.7 3.4 11.1 6.3 4 2.6 3.5 2.6 4.4 3.9 13.2 13.4 5 4.8 4.6 3.9 5.8 4.1 5.5 3.2 6.7 2.7 5.6 1.5 7.7 1.4 363.6 .1M119.7 1859.6l261.2-.1 6.5-.1 1.8-.3 1.3-.4 1.3-.8 1-1.1 1-1.8 .7-2.3 .2-4.9 .8-91.1 .6-11.8 .3-2.3 .4 .5 .6 2 1.9 10.3 1.7 5.2 1.6 4.1 1.3 2.9 1.2 1.6 .9 .5 3.5-.1 4-.6 36.4-7.3 22.1-3.3 12.1-1.3 8.8-.4 17.8 0 26.9 .5 19.6 .7 19.5 1.4 30.9 3.4 47.5 6.4 33.8 4.2 9.8 1.6 21.3 4.5 33 5.6 17.6 3.8 15.5 3.9 13.5 4.2 5.1 2 5.6 2.4 5.9 2.8 4.5 2.4 5.5 3.6 5 4.2 4 4.2 9 10.4 7.7 8.1 6.3 6.1 5.2 4.3 7.1 4.7 2.9 1.6 3.4 1.5 6.4 2.1 8.6 1.6 5.6 .7 373 0M119.7 1864.3l258.1 0 6.4-.1 3-.6 1.4-.8 1.1-1.3 1-1.9 .8-2.3 .7-86.9 .4-15.2 .4-6.1 .2-1.4 .2-.3 .4 .6 .5 2.1 1.9 10.3 1.8 5.1 1.5 4.1 1.3 2.8 1.2 1.6 1 .5 3.4-.1 4-.6 36.3-7.3 22.2-3.3 12.1-1.3 8.8-.4 18.4 0 27.3 .5 19.2 .7 19.5 1.4 30.9 3.4 47.4 6.4 34.3 4.2 9.6 1.6 20.9 4.5 32.4 5.4 19.6 4.3 11.7 3 9.5 3 6.6 2.5 5 2.7 2.6 1.9 2.9 2.4 7.5 7 4 4.4 11.9 14 10 10.3 3.4 3.2 3.3 2.8 7.5 5.2 3 1.7 3.1 1.4 3.8 1.5 3.3 1 8.4 1.6 8.5 .8 385.1 0M119.7 1869.1l255.1 0 6.3-.1 1.7-.3 1.4-.4 1.3-.8 1.2-1.3 .9-1.9 .8-2.4 .8-90.5 .5-15.7 .2-2.3 .2-1.1 .2-.1 .4 .7 .6 2.2 1.9 10.3 1.7 5 1.5 4.1 1.4 2.8 1.1 1.5 1 .5 3.4-.2 4.1-.6 36.2-7.2 22.1-3.3 12.1-1.3 8.8-.5 17.8 .1 26.7 .5 20.1 .6 19.8 1.5 31.2 3.4 47.8 6.3 33.9 4.3 10 1.6 20.5 4.4 31.5 5.4 15.5 3.4 8.2 2.3 5.6 2 4.4 2.4 4.8 3.6 6.1 5.6 8.1 8.1 13.4 15.9 9.2 9.7 6.4 6.1 5.5 4.4 6.5 4.2 6.2 2.8 5.7 1.9 7.9 1.5 10.7 .9 400.3 0M119.7 1873.9l252 0 6.3-.2 1.8-.2 1.3-.4 1.3-.8 1.2-1.4 .9-2 .8-2.4 .8-93.4 .4-10.3 .5-5.8 .4 .4 .4 1.1 2.1 11.1 1.7 5.2 1.6 4.1 1.3 2.9 1.2 1.7 .9 .6 3.5-.2 4-.6 36.4-7.3 21.9-3.2 12.1-1.3 8.8-.5 15.7 .1 24.8 .4 22.4 .6 10.2 .6 10.5 .8 31.7 3.4 14.9 1.9 34.2 4.7 31.8 3.9 11.3 1.8 18.6 4 25.1 4.6 8.9 1.9 5.9 1.9 4.8 2.2 4.8 3.2 5.6 4.6 6.7 6.4 8.2 8.4 13.1 15.5 8 8.6 6.2 6.1 5.1 4.4 7.3 5 3.1 1.7 3.1 1.3 3.4 1.4 3.3 1 8.2 1.5 6.7 .7 6 .3 417.5 0M119.7 1878.7l248.9 0 6.4-.2 1.7-.2 1.3-.4 1.4-.9 .9-1.1 1-1.8 .8-2.3 .1-6.2 .8-90.1 .6-11.6 .4-2.1 .4 .5 .5 2 1.9 10.3 1.8 5.1 1.5 4.1 1.4 2.9 1.1 1.6 1 .6 3.4-.2 4-.6 36.3-7.2 21.7-3.3 11.8-1.3 8.7-.5 13.2 0 23.2 .3 24.6 .7 10.7 .5 11.3 .9 32.4 3.4 15.6 1.9 34.5 4.7 30.1 3.7 8.4 1.3 5.8 1.1 29.1 6.8 6.2 1.9 5.2 2.6 5.5 3.8 6.3 5.3 7.3 6.8 9.2 9.4 3.7 4.2 9.6 11.5 8 8.7 6.2 6.1 4.9 4.2 7.3 5 3.1 1.7 3.1 1.4 3.6 1.4 3.3 1 8.2 1.6 7.5 .7 6.7 .3 437.1 0M119.7 1883.5l245.9 0 6.3-.2 1.7-.2 1.4-.5 1.3-.9 1-1.1 .9-1.9 .8-2.3 .8-87.5 .3-14.7 .4-6 .2-1.4 .2-.2 .4 .6 .6 2.1 1.9 10.2 1.7 5.2 1.5 4.1 1.4 2.8 1.1 1.6 1 .5 3.4-.2 4.1-.6 35.6-7.2 20.4-3 10.3-1.3 6.9-.6 6.6-.2 36.8 .4 20.9 .5 11.3 .5 13.8 1 16.9 1.8 25.1 2.8 39.3 5.4 22.1 2.8 10.5 1.7 8.8 2 4.1 1.3 3.8 1.5 3.8 1.7 3.9 2.1 7.3 4.6 7.4 5.9 8.7 8 10.7 10.9 3.8 4.3 9.8 11.8 8.7 9.2 5.7 5.7 5 4.2 7.3 4.9 2.9 1.6 3.2 1.5 3.5 1.3 3 .9 8.3 1.5 7.9 .8 7.2 .3 461.1 0M119.7 1888.3l242.8 0 6.3-.2 1.7-.3 1.4-.4 1.3-.9 1-1.2 1-1.9 .7-2.4 .8-90.9 .6-15.4 .2-2.2 .1-1.1 .2 0 .4 .7 .6 2.2 1.9 10.2 1.7 5.1 1.6 4.1 1.3 2.8 1.2 1.5 .9 .5 3.5-.2 4-.6 35.1-7.1 26.1-3.8 8-.9 7.1-.4 20.6-.1 43.7 .9 12.6 .7 13.7 1.2 31 3.3 20.2 2.7 26.4 3.9 6.9 1.3 6 1.6 4 1.3 4 1.7 4.4 2.1 4.6 2.6 8.7 5.5 7.8 6.2 9 8.3 11.2 11.3 3.8 4.4 10 12 8.8 9.4 5.8 5.6 4.7 4 7.3 5 2.9 1.6 3.3 1.4 3.4 1.4 3.1 .9 8.2 1.5 8.1 .8 7.7 .3 487.3 0M119.7 1893.1l239.7-.1 6.4-.1 1.7-.3 1.3-.5 1.4-.9 .9-1.2 1-1.9 .7-2.5 .8-93.7 .4-10.1 .6-5.7 .4 .4 .5 2 2.1 11 1.6 4.5 1.5 4.1 1.4 2.9 1.1 1.6 1 .6 3-.1 3.9-.5 33.1-6.7 18.8-3 16-2 6.5-.5 5.9-.2 22.5 .1 24.5 .4 15.7 .5 13.3 .8 19 1.7 26.8 3.2 12.9 1.9 4.6 .9 3.8 1.1 4 1.4 6.3 2.7 6 2.9 5.7 3.1 5.2 3 4.8 3.1 4.2 3 4.3 3.4 4.8 4.1 4.9 4.7 12.3 12.4 3.8 4.3 10.4 12.5 9.4 10 5.8 5.5 4.9 4 6.9 4.6 2.9 1.5 3.3 1.5 6.1 2 8.1 1.5 8.2 .8 7.9 .3 515.7 0M119.7 1897.8l236.5 0 6.3-.1 1.7-.3 1.4-.4 1.3-.9 1-1.1 .9-1.8 .8-2.3 .9-96.6 .6-11.3 .4-2.1 .4 .5 .6 2.1 1.9 10.2 1.7 5.2 1.5 4.1 1.4 2.9 1.1 1.6 1 .5 3.4-.1 4.1-.6 29.7-6.1 7.7-1.4 24.9-3.6 7.9-.8 7.1-.4 15.3 0 20.9 .2 24.2 .6 10.9 .5 13.4 1.1 16.5 2 7.5 1.1 5.6 1.4 5.7 2.5 14 7.3 7.7 4.2 9.4 6 8 6.1 7.9 6.9 9 8.9 7.3 7.7 11.5 13.8 6.9 7.5 7.7 7.7 3.1 2.7 3 2.4 6.9 4.6 2.9 1.5 3.3 1.5 6.3 2.1 8 1.5 8.3 .7 8 .3 545.3 0M119.7 1902.6l233.6 0 6.1-.1 1.8-.3 1.3-.4 1.3-.9 1-1.2 1-1.8 .7-2.4 .8-88.1 .4-14.2 .4-6 .1-1.3 .2-.2 .4 .6 .6 2.2 1.9 10.2 1.7 5.1 1.6 4.1 1.3 2.8 1.2 1.6 .9 .5 3.5-.2 4-.6 29.5-6 7.5-1.3 23.8-3.5 7.5-.9 6.5-.4 5.9-.2 22.1 .2 18.4 .3 10.6 .4 10.5 .7 10.4 1.1 5.3 .8 4.3 1.2 5.1 2.4 25.9 14.4 8.8 5.7 7.5 5.6 8.1 7.2 9.2 9.1 7.1 7.4 11.5 13.9 6.5 7 7.9 8 3.2 2.9 2.9 2.2 7.1 4.8 2.9 1.5 3.2 1.4 6.4 2.2 8 1.5 8.3 .7 8.2 .3 574.8 0M119.7 1907.4l230.5 0 6.2-.2 1.7-.2 1.3-.5 1.4-.9 .9-1.2 1-1.9 .8-2.4 .7-91.4 .4-11.7 .6-6.5 .4 .3 .5 1.8 2.1 11.1 2 5.6 1.5 4 1.1 2.3 1.2 1.5 1 .5 3.4-.2 3.8-.5 29.6-6.1 7.3-1.3 22.8-3.4 13-1.3 6.6-.3 9.9 0 16.5 .7 9 .8 8.7 1 2.8 .6 2.9 1 4.4 2.2 8.5 5 12 6.6 7.1 4.1 8.5 5.5 7.1 5.5 7.8 7 9.4 9.2 6.9 7.3 11.4 13.6 6.3 6.9 8 8.2 3.3 2.9 2.9 2.2 7.1 4.8 2.8 1.6 3.3 1.4 3.5 1.3 3 1 8.3 1.5 8.2 .7 8.3 .3 611 0M119.7 1912.2l227.5 0 6.1-.2 1.7-.3 1.4-.4 1.3-.9 1-1.2 .9-2 .8-2.5 .8-94.1 .3-9.8 .4-4.9 .2-.6 .4 .4 .6 1.9 2.1 11.1 1.5 4.5 1.5 4.1 1.4 2.9 1.1 1.6 1 .6 3.5-.2 4-.6 35.8-7.2 16.2-2.4 9-1 9.6-.4 8.6 .4 6.7 .9 2.7 .8 2.9 1.3 3.6 1.9 7.7 4.7 12.6 6.9 7.5 4.3 8.3 5.5 6.9 5.4 7.8 7.1 9.4 9.3 6.5 6.9 11 13.2 5.5 6.1 8.5 8.6 3.2 3 3.1 2.4 7.3 5 2.9 1.6 3.2 1.4 3.5 1.4 3.2 .9 8.3 1.5 8.4 .8 8.3 .3 653 0"/>
<path stroke="#0000ff" d="M119.7 1917l228.8 0 6.7-.2 3.3-.5 2.1-1 1.5-1.9 .6-41.1 .6-20.8 .3-6.3 .4-3.3 .4-1.6 .6-.7 .6 .2 .9 1.1 2.9 4.8 1.7 4.1 1.2 4.2 .9 5.2 1 7.3 2.7 29.1 1.1 9.8 .8 4.3 1 3.4 .7 1.6 1.2 .5 1.1-.2 7.7-2.4 11.1-2.7 5.6-2 3.6-1.9 3.3-2.1 3.1-2.7 2.8-3.1 1.8-2.6 1.5-3.1 1.7-4.4 1.2-3.7 1.3-6.7 4.4-25.7 1-4.3 .9-2 1.6-2.2 1.3-1.2 1.2-.4 3.2 .2 3.5 .6 3.4 .9 3.7 1.3 4.6 2.1 5 2.7 1.5 1.2 1.5 1.7 1.8 2.6 1.3 4 2.3 9.2 2.7 13.3 1.1 4.3 1.8 4.5 1.5 3.1 1.1 1.6 2 1.4 3.8 1.9 8.6 2.7 19.4 4.6 18.2 4.8 8.5 1.6 14.5 1.7 30.5 2.1 25.3 1.1 661.7 0M119.7 1921.8l223.8 0 6.9-.2 3.3-.5 1.9-1 1.5-1.8 .8-47 .4-13.1 .7-11 .6-2.6 .4-.7 .4-.1 .8 .2 .9 .9 3.3 3.7 1.5 2.8 1.2 3.4 .9 4.8 1 7.4 2.8 34.4 1.4 11.2 1 4.3 .9 2.3 .6 .8 .8 .7 .9 .4 1.2 .1 3.2 0 5.8-.4 15.3-1.9 6.5-.6 7.1-.4 12.1-.3 1.6-.4 .9-.7 .8-1.3 .7-2.6 .6-3.5 .6-5.3 .8-10.5 1.7-30 .9-11 .6-3.6 .6-2.1 .8-1.3 .7-.3 1.2 .3 1.7 1.2 15.5 11.6 2.5 2.3 1.6 2.5 1.1 3.4 1.2 6 2.8 26.4 1 7 1.2 5 .5 1.5 .8 1.3 .8 .7 .9 .6 3.3 .9 10.5 1.6 11.7 1.3 18.4 1.3 22.3 .9 28 .5 38.5 .3 664 .2M119.7 1926.6l219.2 0 6.7-.2 3.3-.5 1.9-1.1 1.5-1.9 .6-43.2 .6-19.2 .7-9.3 .6-2.2 .4-.6 .6-.2 .9 .3 2 1.2 1.7 1.3 1.3 1.4 1.6 2.7 1.1 4.1 1 6 .7 7.5 2.3 31.2 1 10.1 .6 4.1 .7 3.6 .8 2.1 1 1.4 .7 .6 1.2 .4 4.2 .2 10.4-.3 22-1.1 25.5-.4 1-.6 .6-1.1 .5-2.5 .4-3.1 .8-12.1 1.9-48.4 .4-5 .6-3.7 .5-1.5 .4-.4 .4 0 .8 .2 1.1 .8 16.5 12.4 2.5 2.3 1.5 2.1 .8 1.7 .8 2.5 1.1 6.1 1 7.9 2.5 25.4 .9 6.4 1 3.9 .6 1.4 .7 1.2 .8 .7 1 .6 2.6 .6 7.1 .8 18.5 1.4 22.4 .9 28.2 .6 38.7 .3 675.3 .2M119.7 1931.3l214.6 0 6.5-.1 3.3-.6 1.9-1.1 1.3-1.6 .8-48.8 .6-16 .4-5 .5-3.6 .6-1.4 .4-.3 .6-.2 1.3 .4 2.5 1.2 1.5 .8 1.2 1 1.3 2 1.2 3.7 1 5.9 .7 7.7 2.3 33.5 1 10.5 .6 4.2 .7 3.5 .8 2 .9 1.3 .8 .5 1.2 .3 3.8 .2 37.6-.6 29.7-.2 .8-.5 .6-1.1 .7-5 .8-14.9 1.5-48.7 .8-8.8 .6-1.8 .5-.4 .6 .2 1.2 .7 17 12.9 2.5 2.4 1.6 2.4 1.3 4.1 1.2 6.5 .9 8.4 2.3 24.8 .8 6.1 .8 4.1 .9 3.2 .6 1.1 .8 .9 1.7 1 2.9 .5 17.8 1.1 22.6 .8 28.2 .5 38.9 .2 678.2 .1M119.7 1936.1l209.6 0 6.5-.1 3.3-.6 1.9-1 1.4-1.6 .1-3.6 .6-42.1 .6-17.8 .4-5.6 .6-4.1 .7-1.9 .6-.4 .6-.1 4.4 1.2 2.5 1.3 .7 .8 .8 1.3 1 3 .9 5.8 .8 7.9 2.3 35.5 1 10.7 .5 4.1 .8 3.4 .8 1.9 .9 1.1 1.8 .7 3.6 .2 76.5-.4 .8-.5 .6-1.2 .3-2 .4-4 .6-12.5 1.5-52.5 .6-7.1 .6-2.2 .6-.4 .5 .2 1.2 .7 17.1 12.9 2.5 2.5 1.5 2.6 1.3 4.5 1.2 7 3 32.6 .8 6.4 .8 4.4 .9 3.4 1.2 2.1 1.5 1.1 2.5 .5 16.3 .8 23 .5 67.3 .5 675.9 .1M119.7 1940.9l204.8 0 6.5-.1 3.3-.6 1.9-1.2 1.4-1.6 .5-42.1 .8-23.3 .4-4.7 .6-3.4 .7-1.6 .6-.4 .6-.1 5 .9 2.5 1 .7 .7 .8 1.1 1 2.9 .9 5.8 .8 8 2.3 37 .9 10.9 .6 4 .8 3.3 .7 1.7 1 1.1 .8 .3 1.1 .3 4.8 .1 74.8-.1 4.6-.2 2.7-.3 1.3-.5 1.2-.7 1-.9 .7-1.2 .6-46.3 .6-19.7 .4-6.3 .5-4.7 .6-1.9 .4-.3 .4-.1 .7 .3 1.6 1 16.1 12.1 2.7 2.6 1.5 2.5 1.3 4.2 1.2 6.6 1 8.6 2.3 26 .7 6.5 .8 4.5 1 3.4 1.1 2 1.3 1 2.3 .6 13.9 .5 23.9 .4 67.5 .4 673.2 0M119.7 1945.7l200 0 6.5-.2 3.3-.6 1.7-1 1.4-1.6 .7-47.9 .6-16.3 .6-6.9 .6-2.9 .7-1.4 .6-.3 .8-.1 5.5 .7 2.3 .7 .8 .6 .8 1.1 .9 2.7 1 5.8 .8 8.2 2.1 35.4 .9 12 .6 4.6 .8 3.6 .7 1.9 1 1.1 .8 .4 1.1 .3 4.2 .1 84.2-.1 4.8-.1 2.9-.4 1.3-.4 1.2-.7 .9-1 .8-1.1 .6-46.5 .6-19.7 .4-6.4 .5-4.7 .6-1.8 .4-.4 .4-.1 .7 .3 1.6 1 16.1 12.2 2.7 2.6 1.5 2.7 1.3 4.6 1.2 7.2 3.1 33.4 .7 6.6 .8 4.6 1 3.6 1.1 2.1 .8 .7 .7 .4 2.1 .5 10.8 .3 25.1 .3 67.7 .3 670.3 0M119.7 1950.5l195.2 0 6.4-.2 3.2-.6 1.7-1 1.4-1.5 .2-2 .6-42.8 .7-21.5 .6-5.7 .6-2.4 .7-1.2 .6-.3 1-.1 5.9 .5 2.3 .6 .8 .5 .8 1 .9 2.7 1 5.7 .7 8.4 2.2 36.4 .9 12.1 .6 4.4 .8 3.5 .7 1.8 1 1 .7 .4 1.2 .2 4.4 .1 92.8-.1 5.2-.1 2.9-.3 1.3-.5 1.2-.7 .9-1 .8-1.1 .6-45.6 .6-20.3 .3-6.5 .6-4.9 .6-1.9 .4-.4 .4-.1 .7 .3 1.6 1 15.9 12 2.7 2.6 1.5 2.6 1.3 4.4 1.2 7 .9 8.9 2.3 26.3 1.4 10 .9 3.7 1.2 2.3 .8 .8 .7 .4 2.1 .5 32.6 .5 68.5 .2 668 0M119.7 1955.3l190.4 0 6.4-.2 3.2-.6 1.8-1.1 1.3-1.6 .8-49.9 .3-11.4 .6-8.5 .6-3.6 .6-1.5 .7-.7 1.6-.3 6.3 .4 2.3 .5 .8 .5 .7 1 1 2.5 1 5.8 .7 8.6 2.1 37.1 1 12 .6 4.4 .5 2.7 .8 2 1.2 1.2 1.9 .6 4.8 .1 101.4 0 5.4-.2 2.9-.3 1.3-.5 1.2-.7 .9-.9 .8-1.2 .6-44.6 .5-20.9 .4-6.7 .6-5 .6-2 .4-.4 .3-.1 .8 .2 1.5 1 16 12 2.6 2.7 1.6 2.7 1.3 4.5 1.2 7.2 .9 9.1 2.3 26.4 1.4 9.7 .9 3.7 1 1.9 .8 .9 .7 .5 2.1 .5 27.8 .3 69.7 .2 666.8 0M119.7 1960.1l185.5 0 6.3-.2 3.2-.6 1.8-1 1.3-1.6 .8-47.1 .4-12.7 .5-9.4 .6-4 .6-1.7 .9-.9 1.6-.2 6.9 .3 2.3 .4 .8 .5 .7 .9 1 2.5 .7 4.3 .8 7.7 2.3 40.4 1 11.9 .5 4.2 .6 2.6 .8 1.9 1.1 1.2 2 .5 5.1 .1 110.1-.1 5.6-.1 2.9-.3 1.3-.5 1.1-.7 1-.9 .8-1.2 .6-43.5 .5-21.6 .4-6.9 .6-5.1 .6-2.1 .3-.4 .4-.1 .8 .2 1.5 1 15.9 12 2.7 2.7 1.6 2.7 1.3 4.7 1.2 7.3 3 33.8 .8 6.7 .8 4.7 .9 3.6 1 1.9 .7 .8 .8 .5 2.1 .5 22.7 .2 70.7 .1 665.9 .1M119.7 1964.8l180.7 0 6.3-.1 1.9-.3 1.3-.4 1.8-1 1.3-1.7 .8-51.8 .4-10.5 .5-7.9 .6-3.3 .6-1.4 .9-.8 1.8-.1 7.3 .2 2.3 .4 .7 .4 .8 .9 1 2.6 .7 4.3 .8 7.8 2.3 40.9 1 11.8 .5 4 .6 2.6 .8 1.8 1.1 1.1 2.1 .5 5.6 0 118.5 0 5.6-.1 3-.4 1.4-.4 1.1-.7 1-.9 .8-1.1 .5-42.6 .6-22.1 .4-7.1 .6-5.3 .5-2.2 .4-.4 .4-.2 .8 .2 1.5 1 15.9 12.1 2.7 2.7 1.6 2.7 1.3 4.7 1.1 7.4 3.1 33.9 1.4 10.4 .9 4 1.2 2.4 1.3 1.2 2.1 .5 12.9 .2 73.2 .1 668.4 0M119.7 1969.6l176.1 0 6.1-.2 1.9-.2 1.4-.5 1.5-.9 1.3-1.6 .8-49.3 .4-11.6 .6-8.7 .5-3.7 .6-1.6 1-.9 2.1-.2 6.9 .2 2.3 .3 .7 .4 .8 .8 1 2.4 .9 5.5 .8 8.5 2.1 38.4 1 12.4 .5 4.2 .8 3.3 .8 1.6 1.1 1 1.6 .3 3.2 .1 125.8 0 10 0 4-.5 1.4-.4 1.1-.7 1-.9 .7-1.1 .6-41.5 .6-22.8 .4-7.3 .6-5.4 .5-2.3 .4-.5 .4-.1 .8 .2 1.5 1 15.9 12 2.7 2.7 1.5 2.8 1.4 4.8 1.1 7.4 3.1 34 1.3 10.3 1 3.9 1.2 2.4 1.3 1.2 2.1 .6 7.5 .1 71.5 .1 670.5 0M119.7 1974.4l171.1 0 6.1-.2 1.9-.2 1.4-.4 1.5-1 1.3-1.5 1-53.8 .4-9.8 .6-7.2 .5-3.1 .6-1.3 1-.7 2.1-.2 6.9 .1 2.3 .3 .8 .5 .7 .9 1 2.6 .7 4.5 .8 8.1 2.1 38.4 1 12.9 .6 4.5 .7 3.4 .8 1.7 1.1 1.1 1.6 .3 3.2 .1 134.3 0 11.3 0 4.2-.5 1.4-.4 1.1-.7 1-.9 .7-1.1 .6-40.3 .6-23.5 .4-7.5 .5-5.6 .6-2.4 .4-.5 .4-.1 .8 .2 1.5 1 15.9 12 2.7 2.7 1.5 2.8 1.4 4.7 1.1 7.5 3.1 34 1.3 10.3 1 4 1.1 2.4 1.4 1.1 2.1 .6 6.1 .2 64.5 0 673.9 0M119.7 1979.2l166.3 0 6.1-.2 1.9-.3 1.4-.4 1.5-1 1.3-1.6 .8-51.2 .4-10.8 .6-8 .5-3.5 .8-1.7 1.2-.6 2.1-.1 6.7 .1 2.1 .3 .8 .3 .7 .9 1 2.4 .8 4.2 .7 7.7 2.3 41.6 1 12 .6 4.1 .7 3 .8 1.5 1.1 .9 1.6 .3 3.4 .1 146.6 0 9-.1 3.8-.4 1.3-.4 1.2-.7 1-.9 .7-1.1 .6-39.2 .6-24.1 .4-7.8 .5-5.7 .6-2.5 .4-.5 .4-.1 .7 .2 1.6 1 15.9 12 2.7 2.7 1.5 2.8 1.4 4.7 1.1 7.5 3.1 33.9 1.3 10.4 1 4 1.1 2.4 1.4 1.2 2.1 .5 5.3 .2 55.5 0 678.7 0M119.7 1984l161.7 0 6.1-.2 1.7-.3 1.4-.5 1.5-1 1.2-1.4 .7-48.7 .4-11.9 .6-8.9 .6-3.8 .7-1.9 .6-.5 .6-.2 2.3-.1 6.7 0 2.1 .4 .8 .4 .7 .9 1 2.7 .8 4.6 .7 8.4 2.1 39 1 12.5 .6 4.3 .7 3.3 .8 1.5 1.2 1 1.5 .3 3.4 .1 155.6 0 9.8-.1 4-.4 1.3-.4 1.2-.7 .9-.9 .8-1.1 .8-48.7 .5-18.7 .4-6 .6-4.4 .6-1.8 .8-.3 .9 .3 1.5 1.1 15.8 11.9 2.5 2.5 1.5 2.8 1.3 4.7 1.2 7.5 3.1 34 1.3 10.3 1 4 1.1 2.5 1.4 1.2 2.1 .5 4.9 .2 44.7 0 684.9 0M119.7 1988.8l156.7 0 6.1-.2 1.7-.3 1.4-.5 1.5-1 1.2-1.4 .9-53.3 .4-9.9 .6-7.4 .6-3.2 .7-1.5 1.2-.6 2.5-.2 6.5 .1 2.1 .4 .8 .4 .6 .7 .9 2.5 .8 4.4 .7 8 2.2 38.9 .9 13 .6 4.5 .8 3.5 .9 1.9 1.2 .8 1.5 .3 3.5 .1 166.6 0 8.6-.1 3.9-.4 1.3-.4 1.2-.7 .9-.9 .8-1 .2-2.6 .6-45.3 .5-19.2 .4-6.1 .6-4.6 .6-1.8 .4-.4 .3 0 .8 .2 1.5 1 15.8 11.9 2.6 2.7 1.6 2.8 1.3 4.7 1.2 7.4 3 33.9 .8 6.8 .8 4.7 .9 3.5 1 1.9 1.3 1.2 2.1 .6 4.5 .2 33.3 0 691.8 0M119.7 1993.6l151.9-.1 6.1-.2 1.8-.3 1.3-.4 1.5-1.1 1.2-1.5 .7-50.6 .4-11 .6-8.2 .6-3.5 .7-1.8 1.2-.6 2.7-.2 6.5 .1 2.1 .4 .8 .5 .6 .8 .9 2.8 .8 4.8 .7 8.8 2.2 39.3 .9 12.1 .6 4.1 .8 3 .7 1.5 1.2 .9 1.5 .3 3.5 .1 174.5 0 10.3-.1 4.1-.4 1.5-.4 1.2-.7 .9-.9 1-1.4 .5-46.5 .6-19.8 .4-6.3 .6-4.8 .6-1.8 .3-.4 .4-.1 .8 .3 1.5 1 15.8 11.9 2.6 2.7 1.6 2.7 1.3 4.7 1.2 7.3 3 34 .8 6.7 .8 4.8 .9 3.6 1 1.9 1.3 1.2 2.1 .6 25 .2 699.6 0M119.7 1998.3l147.3 0 5.9-.2 1.8-.3 1.3-.5 1.3-.9 1.2-1.5 .8-48 .5-16.1 .6-6.9 .6-2.9 .8-1.4 1.1-.6 2.9-.1 6.1 .1 2.1 .3 .8 .5 .6 .7 .9 2.6 .8 4.6 .8 8.3 2.1 39.2 .9 12.7 .6 4.3 .8 3.3 .9 1.7 1.2 .8 1.7 .3 3.5 0 185.6 0 9 0 3.9-.4 1.5-.4 1.1-.7 1-.8 1-1.4 .5-45.6 .6-20.4 .4-6.5 .6-4.9 .5-1.9 .4-.4 .4-.1 .8 .3 1.5 1 15.7 11.8 2.7 2.7 1.6 2.8 1.3 4.6 1.1 7.3 1 9.3 2.1 24.6 .8 6.8 .8 4.8 .9 3.6 1 2 1.3 1.2 2.1 .6 12.9 .1 706.7 0M119.7 2003.1l142.3 0 5.9-.2 1.8-.3 1.3-.5 1.4-.9 1.1-1.4 .2-3 .8-49.8 .4-10.1 .5-7.6 .6-3.2 .8-1.7 1.1-.6 3.1-.1 6.1 0 2.1 .5 .8 .5 .6 .8 .9 2.9 .8 5.1 .8 9 1.9 36.4 .9 13.1 .6 4.6 .8 3.4 .9 2 1.2 .8 1.5 .3 3.7 0 194.6 0 9.8 0 4-.4 1.6-.4 1.1-.7 1-.8 .9-1.4 .6-44.6 .6-21 .4-6.7 .6-5 .5-2 .4-.4 .4-.1 .8 .2 1.5 1 15.7 11.9 2.7 2.7 1.5 2.7 1.4 4.6 1.1 7.3 3.3 35.7 1.3 9.8 1 3.7 1 2 1.3 1.2 2.1 .6 9.8 .1 704.8 0M119.7 2007.9l137.5 0 6-.2 1.7-.3 1.3-.6 1.4-.9 1.1-1.5 .8-50.1 .6-14.9 .5-6.3 .6-2.7 .8-1.3 1.1-.5 3.1-.1 5.9 0 2.1 .4 .8 .5 .6 .8 .9 2.7 .8 4.7 .8 8.7 2.1 39.5 1 12.2 .5 4.1 .8 3.1 1 1.7 1.1 .7 1.5 .3 3.7 0 205.4 0 9 0 3.8-.4 1.6-.4 1.1-.7 1-.8 .9-1.4 .6-43.6 .6-21.5 .4-6.9 .5-5.2 .6-2.1 .4-.4 .4-.1 .7 .2 1.6 1 15.7 11.9 2.7 2.7 1.5 2.7 1.4 4.5 1.1 7.2 1 9.2 2.3 26.6 1.3 9.8 1 3.7 .9 2 1.4 1.3 2.1 .6 9.2 .1 700.4 0M119.7 2012.7l132.9 0 5.8-.3 1.7-.3 1.3-.5 1.4-1 .9-1.3 1-54.5 .4-9.4 .5-7 .6-3 .4-.9 .6-.7 1.1-.4 3.1-.1 5.8 0 2.1 .4 .7 .4 .6 .7 1 2.6 .7 4.4 .8 8.3 2.1 39.3 1 12.7 .5 4.4 .8 3.3 1 1.8 1.3 .8 1.5 .3 3.7 0 215.7 0 8.7-.1 3.6-.3 1.5-.5 1.2-.6 1-.8 .9-1.4 .6-42.5 .6-22.2 .4-7.1 .5-5.3 .6-2.2 .4-.4 .4-.1 .7 .2 1.6 1 15.7 11.9 2.7 2.6 1.5 2.7 1.4 4.5 1.1 7.1 1 9.1 2.3 26.7 1.3 9.9 1 3.8 .9 2 1.4 1.3 2.1 .6 8.8 .1 695.8 0M119.7 2017.5l127.9 0 5.8-.3 1.7-.3 1.3-.5 1.2-.8 .9-1.1 .2-.3 .2-1.4 .8-50.9 .4-10.4 .6-7.7 .5-3.3 .4-1.1 .6-.8 1.1-.5 3.1-.1 6 .1 2.1 .4 .7 .5 .6 .8 1 2.9 .7 4.9 .8 9 2.1 39.6 1 11.9 .5 3.9 .8 2.9 1 1.6 1.1 .7 1.7 .2 3.7 .1 225.1 0 8.9-.1 3.8-.3 1.5-.5 1.2-.6 .9-.8 1-1.4 .6-41.4 .6-22.8 .3-7.3 .6-5.5 .6-2.2 .4-.5 .4-.1 .7 .2 1.6 1 15.7 11.8 2.7 2.7 1.5 2.6 1.3 4.5 1.2 7.1 1 9 2.3 26.7 1.3 10 1 3.8 .9 2 1.4 1.3 2.1 .6 8.6 .2 691 0M119.7 2022.3l123.3 0 5.6-.3 1.7-.3 1.3-.6 1.4-1 .9-1.3 .8-49.6 .6-15.2 .6-6.4 .5-2.8 .4-.8 .6-.7 1.1-.4 3.1-.1 5.8 .1 2.1 .3 .7 .5 .6 .8 1 2.7 .7 4.6 .8 8.6 2.1 39.5 1 12.3 .6 4.2 .7 3.1 1 1.7 1.3 .8 1.8 .2 3.6 .1 235.3 0 8.6-.1 3.7-.3 1.5-.5 1.2-.6 .9-.8 1-1.3 .6-40.4 .5-23.4 .4-7.6 .6-5.6 .6-2.3 .4-.5 .3-.1 .8 .1 1.5 1 15.8 11.9 2.7 2.6 1.5 2.7 1.3 4.4 1.2 7 .9 9 2.3 26.7 1.4 10.1 .9 3.8 1 2.1 1.3 1.3 2.2 .6 8.4 .2 686.2 0M119.7 2027.1l118.5-.1 5.6-.2 1.7-.4 1.4-.6 1.1-.9 1-1.2 .9-54.1 .4-9.6 .6-7.1 .6-3 .3-1 .6-.7 1.4-.5 3-.1 5.8 .1 1.9 .3 .8 .5 .5 .7 1 2.4 .8 4.5 .7 8.1 2.1 39.3 1 12.9 .6 4.4 .7 3.3 1 1.9 1.3 .8 1.8 .2 3.6 .1 244.9 0 8.8-.1 3.9-.3 1.5-.5 1.2-.6 .9-.8 1-1.3 .6-39.2 .5-24.2 .4-7.7 .6-5.8 .6-2.4 .3-.5 .4-.2 .8 .2 1.5 1 15.8 11.9 2.6 2.6 1.6 2.6 1.3 4.4 1.2 7 .9 8.9 2.3 26.7 1.4 10.2 .9 3.9 1 2.1 1.3 1.3 2.1 .6 8.5 .2 681.2 0M119.7 2031.8l113.7 0 5.6-.3 1.7-.3 1.4-.7 1.1-.9 1-1.3 .7-51.5 .4-10.6 .6-8 .6-3.3 .4-1.1 .5-.8 1.4-.5 3-.1 5.8 .1 2.1 .3 .8 .6 .5 .7 1 2.9 .8 4.9 .7 8.8 2.1 39.7 1 11.9 .6 4 .7 3 1 1.6 1.3 .7 1.8 .2 3.6 0 255.1 0 8.6 0 3.7-.3 1.5-.5 1.1-.6 1-.8 1-1.3 .7-48.7 .6-18.7 .4-6 .6-4.5 .5-1.7 .8-.4 1 .4 1.5 1.1 15.7 11.9 2.5 2.5 1.6 2.8 1.3 4.8 1.1 7.5 3.1 34.1 1.4 10.3 .9 3.9 1 2.1 1.3 1.4 2.1 .6 8.3 .1 676.4 0M119.7 2036.6l108.9 0 5.6-.3 1.5-.3 1.4-.6 1.1-1 1-1.2 .7-49 .6-15.6 .6-6.5 .6-2.8 .4-.9 .5-.7 1.4-.4 3-.1 5.8 0 1.9 .4 .8 .5 .6 .7 .9 2.6 .8 4.7 .7 8.4 2.2 39.5 .9 12.5 .6 4.2 .8 3.2 .9 1.7 1.4 .8 1.7 .2 3.6 0 264.7 0 8.8 0 3.8-.4 1.6-.4 1.1-.6 1-.8 .9-1.3 .2-2.6 .6-45.2 .6-19.2 .4-6.2 .5-4.6 .6-1.8 .4-.3 .4-.1 .8 .3 1.5 1 15.7 11.9 2.7 2.7 1.5 2.8 1.4 4.7 1.1 7.5 3.1 34 1.3 10.3 1 4 1 2.2 1.3 1.3 2.1 .7 8.3 .1 671.4 0M119.7 2041.4l104.1 0 5.6-.3 1.5-.4 1.4-.6 .9-.8 1-1.2 1-53.6 .3-9.8 .6-7.3 .6-3.1 .4-1 .5-.8 1.4-.5 3.1 0 5.7 0 2.1 .4 .8 .6 .6 .8 .9 3 .8 5.1 .6 6.5 2.3 42.4 .9 11.6 .6 3.8 .8 2.8 .9 1.5 1.4 .7 5.3 .2 274.9 0 8.6 0 3.6-.4 1.6-.4 1.3-.7 1-.9 .9-1.4 .6-46.6 .6-19.7 .4-6.4 .5-4.7 .6-1.9 .4-.3 .4-.1 .7 .3 1.6 1 15.7 11.8 2.7 2.7 1.5 2.8 1.4 4.7 1.1 7.4 3.1 34 1.3 10.4 1 4.1 .9 2.1 1.4 1.4 2.1 .7 8.2 .1 666.5 0M119.7 2046.2l99.5 0 5.4-.4 1.5-.3 1.4-.7 .9-.8 1-1.3 .8-51 .3-10.9 .6-8.1 .6-3.4 .4-1.1 .6-.8 1.3-.6 3.3 0 5.7 0 1.9 .4 .8 .5 .6 .8 .9 2.7 .8 4.9 .8 8.8 2.1 39.6 .9 12.1 .6 4 .8 3 .9 1.6 1.4 .8 1.7 .2 3.8 0 284.3 0 8.8-.1 3.8-.3 1.6-.4 1.3-.7 1-.9 .9-1.4 .6-45.6 .6-20.3 .3-6.5 .6-4.9 .6-2 .4-.3 .4-.1 .7 .2 1.6 1 15.7 11.9 2.7 2.7 1.5 2.7 1.4 4.7 1.1 7.3 3.1 34 .7 6.8 .8 4.7 1 3.6 .9 2 1.4 1.2 1.9 .5 8.2 .2 661.5 0M119.7 2051l94.7 0 5.4-.4 1.5-.4 1.4-.7 .9-.9 .8-1 .8-48.4 .6-15.9 .5-6.8 .6-2.8 .4-1 .6-.6 1.3-.5 3.1-.1 5.7 .1 1.9 .3 .8 .5 .6 .7 .9 2.6 .8 4.6 .8 8.4 2.1 39.4 1 12.6 .5 4.3 .8 3.2 1 1.7 .5 .5 1 .4 5.5 .2 294.4 0 8.7-.1 3.6-.3 1.5-.4 1.4-.7 .9-.9 1-1.3 .6-44.7 .5-20.9 .4-6.7 .6-5 .6-2 .4-.4 .4-.1 .7 .2 1.6 1 15.7 11.9 2.7 2.7 1.5 2.7 1.3 4.6 1.2 7.3 .9 9.2 2.2 24.7 .7 6.8 .8 4.8 1 3.7 .9 1.9 1.4 1.3 2.1 .5 8.2 .2 656.3 0M119.7 2055.8l90.1-.1 5.2-.3 1.5-.5 1.4-.7 1.5-1.7 1-53.2 .4-10 .5-7.5 .6-3.1 .4-1 .6-.8 1.3-.5 3.3-.1 5.7 .1 2 .4 .7 .5 .6 .8 1 2.9 .7 5.1 .8 9.1 2.1 39.8 1 11.6 .5 3.9 .8 2.8 1 1.5 1.3 .7 1.7 .2 3.9 .1 303.9 0 8.9-.1 3.8-.3 1.5-.4 1.4-.7 .9-.9 1-1.3 .6-43.6 .5-21.6 .4-6.9 .6-5.1 .6-2.1 .4-.4 .3-.1 .8 .2 1.5 1 15.8 11.8 2.6 2.7 1.6 2.7 1.3 4.6 1.2 7.2 .9 9.2 2.3 26.6 1.4 9.8 .9 3.7 1 2 1.3 1.2 2.1 .6 8.3 .2 651.3 0M119.7 2060.6l85.3-.1 5.2-.4 1.6-.4 1.3-.8 1.5-1.9 .8-50.4 .4-11.1 .6-8.3 .5-3.5 .4-1.1 .6-.9 1.3-.5 3.3-.1 5.7 .1 2 .3 .7 .5 .6 .8 1 2.7 .7 4.8 .8 8.7 2.1 39.6 1 12.2 .5 4.1 .8 3 1 1.7 .5 .4 1 .4 5.6 .2 314.1 0 8.6-.1 3.7-.3 1.5-.4 1.4-.7 .9-.9 1-1.3 .5-42.6 .6-22.1 .4-7.1 .6-5.3 .6-2.2 .3-.4 .4-.2 .8 .3 1.5 1 15.8 11.8 2.6 2.7 1.6 2.7 1.3 4.5 1.2 7.1 .9 9.1 2.3 26.7 1.4 9.9 .9 3.7 1 2.1 1.3 1.2 2.1 .6 8.3 .2 646.3 0M119.7 2065.4l80.5-.1 5-.4 1.6-.4 1.3-.8 1.5-1.8 .8-47.8 .6-16.2 .6-6.9 .5-2.9 .4-1 .6-.7 1.3-.4 3.1-.1 5.8 .1 1.9 .3 .7 .5 .6 .7 1 2.5 .7 4.5 .8 8.3 2.1 39.5 1 12.6 .6 4.4 .7 3.2 1 1.8 .6 .5 .9 .3 5.6 .3 323.7 0 8.8-.1 3.9-.3 1.5-.4 1.3-.7 1-.9 1-1.3 .5-41.5 .6-22.8 .4-7.3 .6-5.4 .5-2.3 .4-.4 .4-.2 .8 .2 1.5 1 15.7 11.9 2.7 2.6 1.6 2.7 1.3 4.5 1.1 7.1 1 9 2.3 26.7 1.4 10 .9 3.8 1 2 1.3 1.3 2.1 .6 8.3 .2 641.3 0M119.7 2070.1l75.9 0 2.9-.1 2.1-.4 1.6-.5 1.1-.7 1.4-1.6 .2-2.4 .7-50.2 .4-10.2 .6-7.7 .6-3.2 .3-1.1 .6-.7 1.4-.5 3.2-.1 5.8 .1 1.9 .3 .8 .6 .5 .8 1 2.8 .8 5 .7 9.1 2.1 39.7 1 11.7 .6 3.9 .7 2.9 1 1.6 .6 .4 .9 .3 5.6 .2 333.9 0 8.6 0 3.6-.3 1.6-.4 1.3-.7 1-.9 .9-1.3 .6-40.3 .6-23.5 .4-7.5 .6-5.6 .5-2.4 .4-.4 .4-.2 .8 .2 1.5 1 15.7 11.9 2.7 2.6 1.5 2.7 1.4 4.4 1.1 7 1 9 2.3 26.7 1.3 10.1 1 3.8 1 2.1 1.3 1.3 2.1 .6 8.3 .1 636.3 0M119.7 2074.9l71.2 0 2.8-.2 2.1-.3 1.6-.5 1.1-.8 1.4-1.7 .7-49.9 .4-11.3 .6-8.5 .6-3.6 .3-1.1 .6-.9 .6-.4 .8-.1 3.2-.1 5.8 0 1.9 .4 .8 .5 .5 .7 1 2.7 .8 4.7 .7 8.7 2.1 39.5 1 12.3 .6 4.2 .7 3 1 1.7 .6 .5 .9 .3 5.8 .2 343.3 0 8.8 0 3.8-.3 1.6-.4 1.3-.7 1-.8 .9-1.4 .6-39.2 .6-24.1 .4-7.7 .5-5.8 .6-2.4 .4-.5 .4-.2 .7 .2 1.6 1 15.7 11.8 2.7 2.7 1.5 2.6 1.4 4.4 1.1 6.9 1 9 2.3 26.7 1.3 10.1 1 3.9 .9 2.1 1.4 1.3 2.1 .7 8.2 .1 631.4 0M119.7 2079.7l66.5 0 2.9-.2 1.9-.3 1.6-.6 1.1-.8 1.2-1.5 .9-54.4 .4-9.4 .6-7 .6-3 .4-1 .5-.7 1.4-.5 3.2 0 5.6 0 1.9 .3 .8 .5 .6 .7 .9 2.5 .8 4.5 .7 8.2 2.2 39.4 1.1 14.5 .6 3.7 .8 2.7 .9 1.5 .6 .4 .9 .3 5.8 .2 353.4 0 8.7-.1 3.6-.3 1.6-.3 1.3-.7 1-.8 .9-1.3 .8-48.8 .6-18.6 .3-6 .6-4.5 .6-1.7 .8-.4 .9 .4 1.6 1 15.7 11.9 2.5 2.6 1.5 2.8 1.3 4.8 1.2 7.5 3.1 34.1 1.3 10.2 1 4 .9 2.1 1.4 1.3 2.1 .6 8 .2 626.6 0M119.7 2084.5l61.9-.1 2.7-.1 1.9-.4 1.6-.6 1.1-.9 1-1.2 .2-.8 .8-51.3 .3-10.5 .6-7.8 .6-3.3 .4-1.1 .5-.8 1.4-.5 3.2-.1 5.8 .1 1.9 .4 .8 .5 .6 .8 .9 2.8 .8 5 .8 8.9 2.1 39.7 .9 11.9 .6 3.9 .8 2.9 .9 1.6 .6 .5 1 .3 5.7 .2 363.1 0 8.8-.1 3.8-.3 1.5-.4 1.4-.6 .9-.8 1-1.3 .2-2.6 .6-45.3 .5-19.2 .4-6.1 .6-4.6 .6-1.8 .4-.4 .3 0 .8 .2 1.5 1.1 15.8 11.8 2.7 2.7 1.5 2.8 1.3 4.8 1.2 7.4 3.1 34.1 1.3 10.3 1 4 .9 2.1 1.4 1.4 2.1 .6 8 .2 621.6 0M119.7 2089.3l57.2-.1 2.6-.2 2-.3 1.5-.7 1.1-.9 1-1.3 .8-49.4 .3-11.5 .6-8.7 .6-3.7 .4-1.1 .6-.9 .5-.4 .8-.2 3.3-.1 5.7 .1 1.9 .3 .8 .5 .6 .8 .9 2.6 .8 4.7 .8 8.5 2.1 39.6 .9 12.3 .8 5.2 .8 2.6 .9 1.4 1.6 .7 5.7 .2 373 0 8.7-.1 3.8-.3 1.5-.4 1.4-.6 1.1-1 1-1.4 .6-46.6 .5-19.8 .4-6.3 .6-4.7 .6-1.9 .3-.4 .4 0 .8 .2 1.5 1 15.8 11.9 2.6 2.7 1.6 2.8 1.3 4.7 1.2 7.4 3 34 1.4 10.4 .9 4 1 2.2 1.3 1.4 2.2 .6 8 .2 616.6 0M119.7 2094.1l52.7-.1 2.5-.2 2-.4 1.5-.8 1.1-1.1 .6-.8 1-53.9 .4-9.7 .5-7.2 .6-3 .4-1 .6-.7 1.3-.5 3.3-.1 5.5 .1 1.9 .3 .8 .5 .6 .6 .9 2.5 .8 4.4 .8 8.1 2.3 42.5 .9 11.5 .6 3.8 .8 2.8 .9 1.5 .6 .4 1 .3 5.7 .2 382.8 0 8.8-.1 3.9-.3 1.5-.4 1.4-.6 1.1-1 1-1.4 .5-45.6 .6-20.4 .4-6.5 .6-4.9 .6-1.9 .3-.4 .4-.1 .8 .3 1.5 1 15.7 11.9 2.7 2.7 1.6 2.7 1.3 4.7 1.2 7.3 3 34 .8 6.7 .8 4.8 .9 3.6 1 1.9 1.3 1.3 1.9 .5 8.1 .2 611.6 0M119.7 2098.9l48.1-.1 2.5-.3 1.9-.5 1.4-.7 1.1-1.2 .6-.8 .8-51.3 .4-10.7 .5-8 .6-3.4 .4-1.1 .6-.8 1.3-.5 3.3-.1 5.7 .1 2 .3 .7 .6 .6 .7 1 2.8 .7 4.9 .8 8.8 2.1 39.7 1 12 .7 5 .8 2.4 .9 1.4 1.6 .6 5.7 .2 392.8 0 8.6-.1 3.9-.3 1.5-.4 1.3-.6 1.2-1 1-1.4 .5-44.6 .6-20.9 .4-6.7 .6-5.1 .5-2 .4-.4 .4-.1 .8 .3 1.5 1 15.7 11.8 2.7 2.7 1.6 2.7 1.3 4.7 1.1 7.2 1 9.3 2.1 24.6 .8 6.9 .7 4.8 1 3.6 1 2 1.3 1.2 1.9 .6 8.1 .2 606.6 0M119.7 2103.6l43.5-.1 2.5-.2 1.8-.5 1.3-.8 1.1-1.2 .4-.6 .8-48.8 .4-11.9 .6-8.8 .5-3.8 .4-1.2 .6-.9 .6-.3 .7-.2 3.5-.1 5.5 0 2 .4 .7 .5 .6 .7 1 2.6 .7 4.6 .8 8.4 2.1 39.6 1 12.5 .7 5.2 .8 2.7 1 1.4 1.5 .7 5.7 .1 402.6 0 8.8 0 3.9-.3 1.5-.4 1.3-.6 1.2-1 .9-1.4 .6-43.6 .6-21.5 .4-6.9 .5-5.2 .6-2.1 .4-.4 .4-.1 .8 .2 1.5 1 15.7 11.9 2.7 2.7 1.5 2.7 1.4 4.6 1.1 7.2 1 9.1 2.3 26.6 1.3 9.9 1 3.7 1 2 1.3 1.2 1.9 .6 8.1 .1 601.6 0M119.7 2108.4l38.9-.1 2.3-.3 1.8-.5 1.3-.8 1.2-1.3 .1-.3 .2-5.1 .8-48.4 .4-9.8 .6-7.4 .5-3.1 .4-1 .6-.8 1.3-.5 3.3 0 5.6 0 1.9 .3 .7 .5 .6 .7 1 2.4 .7 4.3 .8 8.1 2.3 42.5 1 11.5 .7 4.8 .8 2.3 1 1.3 1.5 .6 5.8 .1 412.5 0 8.6 0 3.8-.3 1.6-.4 1.3-.6 1.2-1 .9-1.3 .6-42.6 .6-22.2 .4-7.1 .5-5.3 .6-2.1 .4-.5 .4-.1 .7 .2 1.6 1 15.7 11.9 2.7 2.6 1.5 2.7 1.4 4.6 1.1 7.1 1 9.1 2.3 26.6 1.3 9.9 1 3.8 .9 2 1.4 1.3 1.9 .6 8.1 .1 596.6 0M119.7 2113.2l28.6 0 5.9-.2 2.1-.3 1.8-.6 1.3-.9 1.1-1.5 .8-50.9 .4-10.9 .6-8.2 .6-3.4 .3-1.1 .6-.9 1.4-.5 3.2-.1 5.8 .1 1.9 .3 .8 .6 .5 .7 1 2.8 .8 4.8 .7 8.8 2.1 39.6 1 12.1 .8 5 .7 2.5 1 1.4 1.5 .6 6 .2 422.1 0 8.8 0 3.8-.3 1.6-.4 1.3-.6 1.2-1 .9-1.3 .6-41.5 .6-22.8 .3-7.3 .6-5.5 .6-2.2 .4-.5 .4-.1 .7 .2 1.6 1 15.7 11.8 2.7 2.7 1.5 2.7 1.4 4.5 1.1 7 1 9.1 2.3 26.6 1.3 10 1 3.8 .9 2.1 1.4 1.3 1.9 .5 8 .2 591.7 0M119.7 2118l24.4 0 5.5-.2 2.1-.4 1.6-.6 1.3-1 1-1.2 .7-48.3 .4-12.1 .6-9.1 .6-3.8 .3-1.2 .6-1 .6-.3 .8-.2 3.4-.1 5.6 0 1.9 .4 .8 .4 .5 .8 1 2.5 .8 4.6 .7 8.3 2.1 39.6 1 12.6 .8 5.3 .7 2.7 1 1.4 1.5 .7 6 .2 431.9 0 9-.1 3.8-.2 1.5-.4 1.4-.6 1.1-1 1-1.3 .6-40.4 .5-23.4 .4-7.5 .6-5.7 .6-2.3 .4-.5 .3-.1 .8 .2 1.6 1 15.7 11.8 2.7 2.7 1.5 2.6 1.3 4.4 1.2 7.1 .9 9 2.3 26.6 1.4 10.1 1 3.9 .9 2 1.4 1.3 1.9 .6 8 .2 586.7 0M119.7 2122.8l19.9 0 5.2-.2 1.9-.4 1.6-.5 1.3-1 1-1.2 .2-3.6 .7-49.5 .4-10.1 .6-7.6 .6-3.2 .4-1 .5-.8 1.4-.4 3.2-.1 5.8 0 1.9 .4 .8 .6 .5 .8 1 2.9 .8 5 .7 9.1 2.1 39.9 1 11.6 .8 4.9 .7 2.3 1 1.3 1.5 .6 6 .2 441.8 0 8.9-.1 3.8-.3 1.5-.3 1.4-.6 1.1-1 1-1.3 .6-39.2 .5-24.1 .4-7.8 .6-5.8 .6-2.4 .4-.5 .3-.1 .8 .1 1.5 1 14.6 11.1 2.5 2.5 1.5 2.9 1.4 4.9 1.1 7.7 3.1 34.7 1.3 10.4 1 3.9 1 2.1 1.3 1.4 1.9 .6 8.1 .2 583.2 0M119.7 2127.6l15.9-.1 4.8-.2 1.9-.4 1.4-.6 1.1-1 1-1.3 .7-50.4 .4-11.2 .6-8.4 .6-3.6 .4-1.1 .5-.9 1.4-.5 3.4-.1 5.6 .1 1.9 .3 .8 .5 .6 .8 .9 2.7 .8 4.8 .8 8.7 2.1 39.8 .9 12.2 .8 5.1 .8 2.6 .9 1.3 1.5 .7 6 .2 451.6 0 9-.1 3.9-.3 1.5-.3 1.4-.6 1.1-1 1-1.3 .7-48.7 .6-18.7 .4-6 .6-4.4 .5-1.8 .8-.4 .8 .3 1.5 1 13.1 10 2.3 2.4 1.5 2.8 1.3 5 1.2 7.7 3.1 35.3 1.3 10.6 1 4.1 .9 2.2 1.4 1.4 2.1 .6 8 .2 579.6 0M119.7 2132.4l11.9-.1 4.4-.3 1.5-.4 1.4-.6 .9-.8 1-1.3 .8-47.9 .3-12.5 .6-9.3 .6-4 .4-1.2 .6-1 .5-.4 .8-.2 3.5-.1 5.5 .1 1.9 .3 .8 .5 .6 .7 .9 2.5 .8 4.5 .8 8.4 2.1 39.7 1.1 14.5 .8 4.6 .8 2.3 .9 1.2 1.6 .6 5.9 .2 461.6 0 8.8-.1 3.9-.3 1.5-.3 1.3-.6 1.2-1 1-1.3 .1-2.5 .6-45.3 .6-19.2 .4-6.2 .6-4.6 .5-1.8 .4-.3 .4-.1 .8 .3 1.5 1 11.7 8.9 2.3 2.6 1.5 3.1 1.2 4.4 1.1 7.8 3.1 35.8 1.3 10.9 1 4.2 1 2.3 1.3 1.4 1 .4 1.1 .3 8.1 .2 576.1 0M119.7 2137.1l8.2 0 3.7-.4 1.3-.4 1.2-.6 .9-.9 .8-1 .2-2 .8-51.3 .4-10.4 .5-7.8 .6-3.3 .4-1.1 .6-.8 1.3-.5 3.5-.1 5.5 .1 1.9 .4 .8 .5 .6 .8 .9 2.9 .8 5.1 .8 9.1 2.1 40.3 .9 12 .8 4.9 .8 2.4 .9 1.4 1.6 .6 5.9 .1 471.4 0 9 0 3.9-.3 1.7-.4 1.3-.7 1.2-1 .9-1.4 .6-46.5 .6-19.8 .4-6.3 .5-4.8 .6-1.8 .4-.4 .4-.1 .8 .3 1.5 1 10.3 7.9 2.2 2.4 1.5 3.1 1.1 4.5 1.2 7.8 3.1 36.4 1.3 11.1 1 4.4 .9 2.3 1.4 1.5 .9 .4 1.2 .3 8 .1 572.7 0M119.7 2141.9l5-.2 2.7-.4 2.1-1.1 1.5-1.9 .8-51.1 .4-11.8 .5-8.7 .6-3.7 .4-1.2 .6-.9 .6-.4 .7-.2 3.5-.1 5.5 .1 1.9 .3 .8 .5 .6 .8 1 2.8 .7 4.8 .8 8.8 2.1 40.7 1 12.7 .7 5.3 .8 2.6 .6 1.1 .5 .5 1.6 .6 5.9 .1 481.2 0 9 0 3.8-.3 1.8-.4 1.3-.7 1.2-1 .9-1.3 .6-45.7 .6-20.3 .4-6.5 .5-4.9 .6-1.9 .4-.4 .4-.1 .9 .4 1.6 1 6.3 4.8 2.7 2.2 2.1 2.6 1.3 3.1 1.2 4.9 1.1 8.7 2.9 35.1 1.4 11.4 .9 4.5 1 2.4 1.3 1.5 1 .5 1.1 .2 8.1 .2 569.2 0M119.7 2146.5l2.1-.3 1.7-.6 1.4-.9 1.1-1.5 1-57.3 .6-13.3 .5-5.6 .6-2.4 .4-.8 .6-.5 1.3-.4 3.9-.1 4.9 .1 2 .4 1.1 1.2 1 2.6 .7 4.7 .8 8.6 2.1 41.6 1.2 15.3 .7 4.9 .8 2.4 .6 1 .5 .5 1 .4 1.2 .1 497.2 .1 8.5 0 3.6-.3 1.6-.4 1.3-.7 1.1-1 1-1.3 .6-44.6 .6-21 .3-6.7 .6-5 .6-2 .4-.4 .4-.1 .7 .2 1.6 1 7.6 6 2.1 2.6 1.4 3.2 1.1 4.9 1.2 8.7 2.9 35.6 1.3 11.8 1 4.5 .9 2.5 .6 .9 .8 .7 .9 .5 1.2 .2 8 .2 565.8 0M119.7 2149.6l1.5-2.1 .8-57.2 .6-15.5 .6-6.5 .7-3.3 .4-.7 .6-.5 1.5-.3 5-.1 3.8 .1 1.8 .5 .5 .5 .6 .9 1 3.1 .7 5.4 .8 9.9 2.1 44 1.2 14.9 .7 4.6 .8 2.3 .6 .8 .5 .5 2 .5 506.8 .1 8.7-.1 3.6-.2 1.7-.4 1.4-.7 1.1-1 1-1.3 .6-43.6 .5-21.5 .4-6.9 .6-5.2 .6-2.1 .4-.4 .3-.1 1 .3 1.5 1 4.3 3.3 2.1 1.8 1.9 2.6 1.3 3.4 1.2 5.5 .9 7.6 2.9 36.1 .8 7.8 .7 5.4 1 4.2 1 2.3 1.3 1.4 1.9 .6 8.1 .2 562.3 0"/>
</g>
<g font-family="Liberation Sans, Arial, sans-serif" fill="#262626">
<text x="119.7" y="2222.3" font-size="29.7" text-anchor="middle">0</text>
<text x="311.5" y="2222.3" font-size="29.7" text-anchor="middle">100</text>
<text x="503.3" y="2222.3" font-size="29.7" text-anchor="middle">200</text>
<text x="695.0" y="2222.3" font-size="29.7" text-anchor="middle">300</text>
<text x="886.8" y="2222.3" font-size="29.7" text-anchor="middle">400</text>
<text x="1078.6" y="2222.3" font-size="29.7" text-anchor="middle">500</text>
<text x="1270.4" y="2222.3" font-size="29.7" text-anchor="middle">600</text>
<text x="77.3" y="2163.7" font-size="29.7" text-anchor="end">0</text>
<text x="77.3" y="2068.0" font-size="29.7" text-anchor="end">2</text>
<text x="77.3" y="1972.3" font-size="29.7" text-anchor="end">4</text>
<text x="77.3" y="1876.5" font-size="29.7" text-anchor="end">6</text>
<text x="77.3" y="1780.8" font-size="29.7" text-anchor="end">8</text>
<text x="77.3" y="1685.1" font-size="29.7" text-anchor="end">10</text>
<text x="592.9" y="2250.2" font-size="32.7" text-anchor="middle">Time [ms]</text>
<text transform="translate(27.6 1913.4) rotate(-90)" font-size="33" text-anchor="middle">Space [cm]</text>
</g>
<text transform="translate(135.6 1620.9) scale(0.81 1)" font-family="Liberation Sans, Arial, sans-serif" font-weight="bold" font-size="63" fill="#000">c</text>
<g font-family="Liberation Serif, Times New Roman, serif" fill="#000" stroke="#000" stroke-width="0.6">
<text x="1080.5" y="1613.0" font-size="54" font-style="italic">d</text>
<text x="1114.2" y="1591.0" font-size="32">0</text>
<text x="1111.7" y="1625.0" font-size="40" font-style="italic">w</text>
<text transform="translate(1160.3 1614.5) scale(1.25 1)" font-size="53">=</text>
<text transform="translate(1215.3 1613.0) scale(1.045 1)" font-size="53">0.3</text>
</g>
</svg>
</body></html>
